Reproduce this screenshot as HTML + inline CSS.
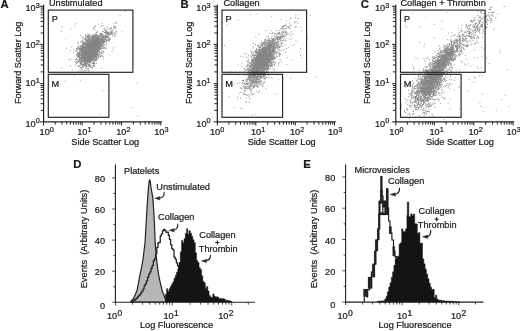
<!DOCTYPE html>
<html lang="en"><head><meta charset="utf-8"><title>Figure</title>
<style>html,body{margin:0;padding:0;background:#fff}svg{display:block}</style></head>
<body>
<svg width="520" height="331" viewBox="0 0 520 331" font-family='"Liberation Sans", Arial, Helvetica, sans-serif' fill="#1a1a1a" stroke="#1a1a1a" stroke-width="0.22">
<defs><filter id="bl" x="-5%" y="-5%" width="110%" height="110%"><feGaussianBlur stdDeviation="0.38"/></filter></defs>
<rect width="520" height="331" fill="#fff" stroke="none"/>
<path d="M109.4 33.6h1M89.8 61.1h1M79.3 48.8h1M69.9 50.7h1M111.5 51.5h1M61.2 67.7h1M101.4 23.5h1M82.0 56.5h1M102.1 53.6h1M84.5 48.1h1M108.5 36.1h1M73.7 75.4h1M95.4 60.5h1M84.8 51.3h1M99.6 34.2h1M83.8 65.4h1M87.2 49.2h1M89.1 65.9h1M87.9 45.4h1M97.9 43.9h1M81.4 63.0h1M104.7 38.9h1M96.7 36.2h1M93.1 40.9h1M98.6 38.0h1M83.9 56.7h1M90.2 51.2h1M78.7 56.7h1M87.8 51.8h1M93.8 41.0h1M86.4 59.3h1M101.4 68.0h1M79.0 51.8h1M71.1 47.1h1M82.4 54.9h1M92.4 51.0h1M80.9 62.9h1M95.1 48.5h1M109.5 33.0h1M106.1 48.7h1M92.8 55.2h1M88.1 65.2h1M82.7 56.8h1M111.6 34.4h1M89.7 47.0h1M86.2 58.0h1M88.5 42.8h1M113.1 27.5h1M81.0 37.1h1M109.1 54.3h1M98.8 50.7h1M83.2 49.0h1M66.1 48.3h1M89.7 55.4h1M89.5 52.3h1M99.5 45.4h1M93.4 34.4h1M103.5 42.1h1M91.2 43.5h1M103.2 42.8h1M91.1 65.3h1M103.5 35.6h1M94.6 42.2h1M81.6 46.3h1M97.8 45.8h1M94.6 54.5h1M100.8 35.5h1M106.8 33.3h1M113.6 26.2h1M77.7 65.4h1M70.5 59.1h1M84.6 53.6h1M83.0 38.2h1M95.1 35.2h1M91.6 43.3h1M79.7 80.7h1M85.4 50.2h1M98.4 39.4h1M89.9 43.4h1M94.2 36.7h1M91.9 54.9h1M85.2 47.8h1M97.1 51.5h1M85.4 35.4h1M101.5 55.6h1M103.1 58.8h1M94.1 66.6h1M101.0 51.3h1M99.5 55.2h1M93.0 28.0h1M106.5 39.6h1M101.4 55.8h1M81.8 48.1h1M88.5 60.3h1M103.4 52.7h1M87.9 44.6h1M84.8 50.5h1M94.9 52.3h1M77.6 49.0h1M98.7 42.3h1M78.3 46.0h1M102.2 34.9h1M87.5 37.6h1M97.7 43.4h1M87.2 68.6h1M80.1 35.2h1M102.9 45.5h1M83.0 61.5h1M93.1 57.0h1M93.5 51.1h1M76.2 63.4h1M94.2 45.8h1M97.3 37.9h1M73.1 49.4h1M96.4 47.3h1M84.9 71.0h1M98.2 57.3h1M78.6 71.1h1M113.2 47.8h1M91.7 41.5h1M137.2 115.7h1M136.6 83.4h1M75.1 23.7h1M61.5 26.7h1M69.1 59.8h1M97.9 24.3h1M119.6 15.5h1M70.5 28.6h1M74.2 25.7h1M131.2 107.5h1M89.9 47.4h1M109.0 41.7h1M72.9 51.9h1M60.7 31.5h1M99.4 114.4h1M95.7 34.6h1M65.4 38.7h1M109.4 90.3h1M102.1 90.6h1M112.5 49.5h1M64.7 81.1h1M121.7 31.8h1M71.8 70.0h1M99.7 33.3h1M124.9 11.1h1" stroke="#a4a4a4" stroke-width="1" fill="none" filter="url(#bl)"/>
<path d="M94.9 59.7h1M82.3 50.8h1M94.4 52.3h1M96.3 46.6h1M85.5 48.3h1M94.7 51.5h1M87.3 49.6h1M84.3 46.8h1M88.4 59.2h1M92.0 51.3h1M86.1 50.6h1M85.7 49.3h1M89.6 46.8h1M93.5 58.2h1M82.7 48.1h1M86.0 51.4h1M100.1 52.5h1M95.5 47.3h1M90.6 59.0h1M94.4 48.4h1M95.0 36.9h1M87.5 61.7h1M81.9 53.7h1M82.2 54.3h1M88.2 52.4h1M98.8 42.2h1M89.5 50.6h1M85.6 54.4h1M86.8 44.4h1M89.3 55.5h1M92.7 43.2h1M94.3 50.6h1M95.7 42.6h1M82.6 52.8h1M92.8 28.3h1M93.4 46.0h1M92.6 46.9h1M92.3 52.5h1M93.2 58.4h1M85.1 55.6h1M87.1 50.7h1M84.5 54.7h1M90.2 48.8h1M84.7 55.1h1M90.7 46.3h1M87.5 42.1h1M85.7 54.6h1M87.5 40.2h1M84.4 50.2h1M91.7 42.5h1M95.8 50.2h1M90.9 42.4h1M84.9 56.6h1M81.5 47.7h1M91.1 39.9h1M91.9 56.9h1M86.0 65.5h1M79.4 61.5h1M82.1 67.4h1M87.4 66.8h1M86.1 52.4h1M91.5 41.5h1M88.5 53.8h1M87.0 46.9h1M89.5 51.6h1M82.0 47.0h1M93.2 53.9h1M85.2 50.1h1M86.9 45.8h1M80.6 55.9h1M93.1 44.3h1M94.0 45.5h1M81.9 48.6h1M89.8 44.4h1M89.5 56.4h1M84.4 52.6h1M83.6 46.6h1M86.1 50.6h1M90.9 55.0h1M83.4 53.2h1M93.7 57.3h1M89.3 43.1h1M79.4 61.5h1M91.4 48.8h1M87.5 51.7h1M91.1 45.6h1M93.2 48.4h1M83.9 70.5h1M92.4 47.4h1M92.9 49.8h1M83.5 47.6h1M93.3 56.4h1M85.0 41.7h1M89.0 53.8h1M98.4 40.3h1M93.4 48.1h1M100.4 38.9h1M95.0 59.7h1M80.6 60.6h1M92.3 46.3h1M95.5 46.7h1M94.7 53.0h1M86.7 61.8h1M92.9 56.0h1M86.2 44.2h1M96.4 55.6h1M92.8 53.3h1M92.4 53.5h1M84.5 55.9h1M86.7 53.7h1M85.4 60.3h1M95.8 39.6h1M86.3 53.0h1M94.1 49.1h1M84.2 56.4h1M97.2 48.0h1M81.3 61.9h1M94.4 45.7h1M84.8 48.7h1M101.0 39.4h1M87.0 60.1h1M92.9 51.8h1M86.8 46.5h1M99.0 45.4h1M84.5 51.7h1M87.8 49.2h1M80.3 63.6h1M89.5 57.4h1M89.0 46.8h1M86.0 40.2h1M91.3 53.9h1M95.0 37.0h1M96.1 39.8h1M93.6 53.2h1M85.0 68.1h1M81.6 61.3h1M87.1 55.9h1M102.7 48.1h1M88.3 47.6h1M84.0 65.0h1M85.0 50.4h1M97.1 41.5h1M79.1 48.7h1M90.8 57.4h1M92.9 36.0h1M93.9 52.4h1M87.1 53.4h1M95.1 50.6h1M84.5 48.2h1M88.1 53.5h1M87.3 40.0h1M93.4 43.6h1M98.6 48.3h1M92.4 53.0h1M94.6 44.0h1M83.8 48.3h1M80.1 42.4h1M93.2 44.2h1M90.7 44.8h1M90.2 36.8h1M95.4 49.9h1M85.3 62.3h1M83.0 57.0h1M92.3 41.3h1M88.7 53.0h1M94.5 50.0h1M86.3 56.1h1M89.8 42.8h1M91.0 54.6h1M93.8 41.1h1M79.5 50.1h1M91.1 42.5h1M89.2 45.1h1M91.2 57.4h1M95.1 44.6h1M87.8 57.2h1M90.1 57.7h1M96.5 48.3h1M93.6 57.8h1M88.3 55.0h1M85.0 51.3h1M83.8 56.0h1M90.1 42.6h1M87.7 45.0h1M92.6 52.8h1M91.8 52.7h1M91.8 48.2h1M98.6 41.0h1M91.2 44.5h1M90.4 55.3h1M87.5 43.5h1M92.5 53.2h1M86.5 50.9h1M88.7 35.5h1M92.9 55.8h1M90.1 54.9h1M86.2 64.9h1M89.1 61.9h1M89.8 47.2h1M85.2 54.3h1M94.0 48.7h1M87.9 59.0h1M86.0 55.2h1M90.3 45.7h1M98.5 43.3h1M82.2 42.4h1M94.2 43.3h1M94.5 39.5h1M95.2 45.1h1M87.5 57.2h1M92.7 53.1h1M85.0 43.5h1M95.4 57.0h1M91.6 48.1h1M81.7 59.7h1M93.1 59.2h1M89.3 46.3h1M77.1 62.8h1M84.7 57.4h1M89.4 50.8h1M84.0 62.0h1M90.7 50.9h1M84.5 54.8h1M91.9 54.3h1M87.3 51.7h1M91.4 50.1h1M89.9 55.5h1M94.3 52.3h1M84.8 53.3h1M93.5 48.2h1M90.5 37.7h1M90.1 49.5h1M90.0 49.6h1M90.0 60.4h1M95.6 48.1h1M84.8 54.6h1M87.2 56.2h1M91.0 46.9h1M87.4 48.2h1M90.9 42.5h1M95.4 42.0h1M76.3 48.6h1M77.5 43.8h1M93.3 38.5h1M98.2 47.1h1M95.2 47.8h1M91.3 41.1h1M89.8 55.8h1M91.8 46.7h1M101.9 45.3h1M92.9 39.4h1M82.0 53.6h1M93.4 54.7h1M92.0 48.8h1M89.9 53.3h1M98.0 58.0h1M93.5 47.1h1M90.5 54.1h1M89.2 65.1h1M94.0 50.0h1M87.1 53.0h1M85.7 54.8h1M83.1 60.3h1M94.9 45.2h1M85.6 66.8h1M83.4 61.5h1M90.1 53.2h1M89.2 40.8h1M89.0 40.0h1M87.6 59.1h1M95.3 55.0h1M83.8 60.2h1M95.3 45.4h1M81.4 58.8h1M86.2 50.3h1M96.9 46.0h1M84.5 50.1h1M88.6 38.6h1M85.1 55.6h1M88.2 47.1h1M94.2 46.1h1M92.4 53.3h1M88.9 39.4h1M90.2 46.6h1M84.5 61.6h1M102.4 25.5h1M88.5 45.0h1M90.6 50.4h1M86.9 60.8h1M90.9 50.7h1M88.6 54.0h1M93.4 47.4h1M90.2 48.1h1M97.3 39.7h1M91.7 50.6h1M83.2 43.5h1M90.6 48.2h1M82.1 48.4h1M92.8 53.8h1M89.9 42.1h1M91.9 45.6h1M80.7 51.5h1M87.7 58.9h1M82.1 47.7h1M95.5 44.2h1M89.3 50.9h1M99.6 41.6h1M87.1 55.8h1M90.7 50.2h1M85.8 69.3h1M94.8 58.1h1M84.9 51.0h1M89.1 46.4h1M97.7 41.0h1M89.9 50.7h1M96.9 42.6h1M92.1 46.6h1M91.6 43.8h1M86.5 53.1h1M95.8 42.7h1M86.8 58.1h1M88.9 46.5h1M89.0 58.2h1M90.0 55.1h1M84.4 60.1h1M85.8 53.1h1M92.2 49.2h1M86.0 49.6h1M85.4 59.6h1M96.8 42.4h1M90.1 48.3h1M98.4 46.9h1M99.2 49.1h1M85.9 54.4h1M90.2 66.8h1M89.7 58.2h1M89.4 40.9h1M84.7 56.9h1M95.4 47.0h1M87.5 54.7h1M96.4 50.9h1M88.1 64.8h1M93.8 43.4h1M86.9 49.8h1M92.4 45.0h1M90.4 49.6h1M94.5 46.7h1M88.8 51.2h1M88.6 44.3h1M80.2 58.4h1M84.6 57.1h1M91.2 45.7h1M87.9 50.3h1M86.6 51.2h1M90.7 52.8h1M92.5 48.1h1M90.1 55.8h1M93.5 48.6h1M79.1 53.0h1M85.0 51.8h1M95.3 45.6h1M92.7 43.6h1M84.7 57.3h1M92.5 45.4h1M89.9 59.3h1M86.0 43.1h1M88.1 65.4h1M82.4 56.3h1M87.6 53.9h1M92.1 53.3h1M94.6 41.8h1M99.7 48.4h1M93.4 40.0h1M90.4 41.5h1M90.6 53.6h1M87.4 51.9h1M102.8 48.5h1M91.6 51.4h1M94.2 54.3h1M81.5 57.6h1M88.3 51.0h1M80.7 69.0h1M88.7 54.0h1M87.2 57.6h1M88.5 44.6h1M92.0 55.8h1M84.6 51.0h1M90.9 40.7h1M82.0 55.6h1M91.8 49.3h1M79.1 61.0h1M85.7 48.2h1M88.9 47.1h1M87.7 42.9h1M88.3 57.4h1M90.7 48.7h1M85.1 46.0h1M81.3 46.9h1M96.4 52.9h1M87.2 45.9h1M95.7 50.5h1M85.4 56.8h1M87.9 59.6h1M96.6 34.2h1M96.7 38.9h1M83.4 59.0h1M88.3 46.5h1M92.8 47.3h1M89.2 44.5h1M91.0 50.3h1M83.7 55.4h1M84.1 49.6h1M87.2 53.6h1M88.9 49.4h1M95.7 55.9h1M92.1 53.0h1M95.1 45.2h1M93.9 43.0h1M91.2 61.1h1M93.1 56.2h1M87.2 56.0h1M92.5 42.4h1M85.3 49.2h1M88.4 38.6h1M85.8 52.8h1M91.0 51.2h1M82.3 58.2h1M96.8 43.7h1M87.4 52.6h1M77.6 56.9h1M81.7 51.7h1M83.2 66.3h1M85.4 49.0h1M91.3 50.7h1M92.8 50.0h1M100.6 44.0h1M86.3 51.6h1M90.8 44.8h1M86.5 46.7h1M85.6 50.4h1M83.9 64.8h1M89.0 42.9h1M80.4 50.4h1M80.4 46.1h1M82.3 57.5h1M89.2 48.3h1M88.2 49.2h1M89.2 50.3h1M91.3 52.7h1M86.5 40.9h1M89.5 42.9h1M91.2 45.7h1M94.1 26.7h1M84.1 53.0h1M93.2 55.6h1M81.3 54.9h1M92.4 48.6h1M92.4 57.7h1M79.7 67.8h1M86.8 59.2h1M92.6 51.7h1M86.3 41.1h1M84.2 60.7h1M87.7 54.8h1M90.0 52.1h1M88.6 56.2h1M90.4 46.9h1M90.7 51.3h1M77.7 42.4h1M91.3 57.5h1M93.9 40.5h1M91.3 51.6h1M96.3 43.6h1M90.7 54.8h1M91.2 46.8h1M83.5 53.3h1M81.6 54.6h1M84.4 53.9h1M90.9 51.8h1M81.1 48.4h1M87.3 37.4h1M78.8 54.8h1M87.8 58.7h1M92.4 38.6h1M88.5 45.3h1M81.1 61.9h1M88.7 46.3h1M88.0 48.1h1M83.7 65.3h1M83.4 50.8h1M83.9 48.1h1M89.2 44.7h1M92.2 44.3h1M88.1 49.3h1M87.8 41.6h1M89.4 51.9h1M83.9 54.9h1M89.3 58.2h1M89.6 46.4h1M88.2 65.9h1M96.1 48.5h1M77.7 53.9h1M87.7 52.8h1M86.6 45.3h1M104.0 47.9h1M84.1 63.8h1M87.5 56.3h1M91.8 51.4h1M86.9 54.3h1M95.6 46.7h1M77.8 61.9h1M87.9 47.1h1M95.3 50.1h1M87.6 49.4h1M91.7 42.9h1M79.1 55.6h1M88.8 41.5h1M91.6 57.4h1M94.8 47.4h1M84.4 50.9h1M97.3 47.9h1M89.5 44.4h1M87.4 61.6h1M86.9 50.7h1M87.0 50.3h1M87.2 51.5h1M90.0 57.1h1M95.2 38.7h1M85.2 47.0h1M95.1 41.0h1M85.8 53.5h1M79.5 54.4h1M82.2 46.1h1M81.4 51.4h1M96.5 35.1h1M89.8 48.9h1M93.8 43.5h1M90.7 53.1h1M89.0 53.1h1M94.9 53.6h1M88.2 47.2h1M93.3 45.7h1M84.5 49.3h1M83.1 53.1h1M80.5 55.0h1M92.3 52.7h1M92.1 47.4h1M93.8 49.1h1M95.5 53.8h1M90.1 55.9h1M93.0 51.3h1M86.7 44.8h1M100.2 56.2h1M87.7 49.0h1M89.9 52.2h1M94.2 45.6h1M89.2 54.1h1M88.1 48.6h1M91.1 48.3h1M82.3 41.5h1M93.4 40.7h1M93.4 47.2h1M93.4 47.8h1M85.6 60.7h1M85.0 43.7h1M94.6 34.9h1M81.3 53.5h1M91.2 59.8h1M90.7 53.0h1M92.4 43.9h1M91.9 47.6h1M85.1 52.4h1M85.1 48.9h1M94.2 44.6h1M103.0 51.8h1M100.9 36.8h1M97.4 46.4h1M88.2 47.3h1M83.3 42.8h1M86.9 52.3h1M79.1 53.6h1M88.6 48.9h1M86.5 45.3h1M83.6 59.2h1M84.7 52.6h1M91.9 54.9h1M91.5 49.6h1M82.6 49.5h1M87.1 46.0h1M95.1 52.7h1M88.5 41.8h1M79.1 59.5h1M95.8 40.5h1M92.6 40.9h1M91.9 51.5h1M90.3 45.8h1M90.7 46.4h1M88.6 56.2h1M90.1 49.7h1M94.1 46.6h1M87.7 47.3h1M95.3 45.1h1M88.3 49.4h1M88.5 49.6h1M90.1 57.2h1M89.8 53.8h1M86.7 53.1h1M89.4 37.1h1M92.7 50.4h1M86.7 57.5h1M91.4 48.4h1M95.8 55.3h1M80.3 70.9h1M88.0 46.1h1M81.3 59.3h1M93.2 47.8h1M84.2 55.9h1M85.7 60.7h1M89.6 46.8h1M80.9 58.6h1M90.6 54.9h1M88.2 48.4h1M97.9 49.9h1M87.9 44.0h1M95.4 53.9h1M87.0 56.3h1M96.3 38.7h1M84.0 53.0h1M88.1 35.7h1M88.7 54.0h1M93.1 43.1h1M97.0 45.7h1M83.8 56.4h1M86.6 46.4h1M87.1 43.5h1M95.6 48.0h1M92.2 53.7h1M86.8 47.0h1M84.4 51.5h1M93.8 62.3h1M95.8 45.8h1M96.3 58.6h1M94.6 42.1h1M90.8 46.5h1M85.2 55.8h1M87.1 50.9h1M85.9 51.3h1M87.0 56.6h1M97.0 50.3h1M87.0 53.4h1M91.6 38.8h1M97.8 47.8h1M90.4 58.3h1M84.6 48.5h1M82.2 49.0h1M86.2 61.8h1M97.6 47.1h1M94.8 45.6h1M95.7 46.2h1M89.8 54.6h1M89.6 42.2h1M96.4 55.8h1M100.5 48.5h1M87.5 35.4h1M93.1 51.3h1M80.2 57.7h1M95.7 56.3h1M88.0 44.8h1M98.9 45.4h1M89.7 60.0h1M94.4 54.6h1M88.0 48.1h1M94.9 49.9h1M96.3 46.7h1M83.7 55.6h1M81.8 50.4h1M90.9 43.3h1M89.6 47.6h1M87.7 46.3h1M86.4 40.2h1M90.7 50.5h1M95.0 49.1h1M81.1 49.2h1M79.5 56.7h1M90.1 61.5h1M86.4 48.6h1M87.1 51.2h1M87.6 55.1h1M95.0 50.8h1M92.2 59.2h1M91.9 51.0h1M89.6 51.0h1M80.2 53.0h1M87.6 68.4h1M90.0 39.4h1M89.6 48.2h1M77.7 66.5h1M80.1 49.6h1M92.4 49.0h1M88.1 51.9h1M98.0 50.1h1M89.0 58.3h1M83.8 46.5h1M81.2 47.1h1M88.2 51.6h1M88.9 52.2h1M88.2 48.5h1M91.2 44.0h1M78.8 49.8h1M92.1 55.3h1M96.6 52.9h1M92.0 52.9h1M96.1 50.8h1M91.3 45.8h1M93.3 42.2h1M95.0 54.3h1M82.2 65.6h1M90.4 51.7h1M89.6 47.9h1M91.4 53.1h1M90.5 52.5h1M82.8 67.1h1M85.8 44.8h1M92.9 55.0h1M86.9 61.7h1M86.4 56.3h1M86.9 56.5h1M86.8 44.5h1M92.4 47.6h1M92.9 40.3h1M91.4 46.4h1M88.5 61.2h1M86.1 60.5h1M93.1 43.4h1M97.6 42.1h1M78.4 47.2h1M90.3 46.6h1M80.5 58.5h1M76.7 60.2h1M77.8 54.5h1M95.4 56.5h1M90.3 55.3h1M94.2 54.9h1M89.8 54.8h1M93.0 46.9h1M99.8 44.2h1M85.1 48.3h1M90.8 35.3h1M90.2 56.2h1M85.0 52.8h1M87.3 46.5h1M85.6 51.7h1M98.6 45.6h1M77.7 50.2h1M85.3 38.2h1M92.0 50.4h1M99.5 35.1h1M93.2 56.3h1M86.3 50.8h1M89.9 49.7h1M80.5 64.0h1M93.0 47.6h1M96.0 50.0h1M93.6 51.8h1M86.9 62.0h1M83.9 60.5h1M92.2 47.3h1M90.1 41.6h1M91.8 39.1h1M82.8 54.7h1M84.9 56.9h1M81.2 48.9h1M74.7 59.5h1M89.5 55.5h1M96.3 47.2h1M91.6 38.7h1M88.0 47.7h1M91.5 38.6h1M92.7 49.0h1M94.1 51.4h1M89.5 52.1h1M83.1 46.1h1M89.4 52.7h1M86.2 50.3h1M89.5 56.1h1M93.7 50.7h1M92.6 52.1h1M93.6 64.7h1M91.2 53.5h1M83.2 54.6h1M82.7 64.0h1M94.3 49.2h1M94.6 40.7h1M96.0 35.0h1M91.1 39.0h1M89.5 57.8h1M93.2 43.1h1M91.7 42.8h1M78.9 61.6h1M97.1 47.5h1M92.6 47.2h1M97.1 53.1h1M93.7 50.4h1M88.3 49.7h1M87.8 37.0h1M89.1 53.8h1M90.4 52.8h1M93.4 52.6h1M95.7 51.5h1M87.2 63.9h1M91.4 40.5h1M98.5 53.3h1M92.0 47.4h1M92.8 50.7h1M93.0 53.9h1M87.3 52.6h1M92.9 51.6h1M94.2 51.8h1M95.4 44.3h1M96.7 51.4h1M95.5 54.7h1M98.9 39.4h1M89.9 61.3h1M81.6 57.7h1M90.9 48.5h1M93.4 54.3h1M84.1 62.5h1M85.6 51.4h1M84.8 54.2h1M86.2 40.1h1M90.6 56.3h1M87.7 41.4h1M92.3 48.4h1M88.4 51.9h1M92.9 52.2h1M94.9 49.9h1M75.0 62.3h1M82.9 44.9h1M87.0 52.6h1M91.8 37.5h1M86.3 54.8h1M86.8 40.3h1M88.4 70.6h1M85.5 42.3h1M97.0 52.1h1M82.3 49.2h1M80.6 47.3h1M93.6 54.8h1M93.6 49.3h1M89.0 51.6h1M80.4 60.8h1M97.4 56.1h1M97.2 36.6h1M86.9 49.1h1M87.2 47.3h1M85.4 52.3h1M91.8 50.4h1M91.6 50.3h1M90.8 53.5h1M82.1 40.3h1M90.5 58.7h1M88.0 51.1h1M92.3 48.0h1M89.2 52.7h1M84.2 58.1h1M93.5 48.2h1M86.1 57.0h1M89.8 54.5h1M83.8 54.7h1M90.6 52.2h1M87.8 53.4h1M87.9 53.8h1M84.1 42.7h1M87.7 35.9h1M93.0 55.3h1M94.3 48.8h1M94.1 55.8h1M91.3 50.8h1M93.5 43.6h1M92.5 51.8h1M85.6 55.4h1M89.3 56.5h1M87.8 54.9h1M96.9 54.4h1M89.8 43.9h1M89.1 61.5h1M88.0 58.4h1M84.1 55.6h1M89.6 65.0h1M89.7 40.2h1M88.4 50.5h1M94.6 38.0h1M90.6 62.8h1M99.0 44.9h1M87.0 55.2h1M89.4 54.0h1M88.7 58.3h1M87.0 57.2h1M88.9 61.1h1M90.8 49.6h1M83.2 58.3h1M92.3 54.1h1M92.9 52.4h1M92.2 46.6h1M91.7 51.0h1M90.9 48.8h1M91.0 47.3h1M96.4 54.2h1M84.4 45.3h1M87.2 57.6h1M86.8 55.7h1M100.4 40.8h1M90.6 51.3h1M88.5 56.0h1M98.1 43.8h1M90.0 52.2h1M93.7 58.0h1M76.1 55.9h1M91.2 45.3h1M84.2 56.9h1M86.8 53.8h1M94.9 48.1h1M89.9 49.4h1M99.9 56.5h1M93.0 54.1h1M91.0 42.2h1M97.8 36.9h1M96.5 58.6h1M97.2 49.9h1M92.4 36.8h1M100.0 47.1h1M87.1 55.1h1M95.5 57.1h1M84.1 52.9h1M84.5 55.7h1M83.9 53.1h1M91.7 49.7h1M86.2 53.9h1M91.5 44.6h1M95.1 52.5h1M87.9 53.2h1M95.1 46.3h1M95.4 51.0h1M94.9 51.2h1M88.4 41.9h1M88.0 45.4h1M90.6 52.1h1M100.7 48.6h1M88.1 47.6h1M94.2 29.9h1M90.5 42.4h1M94.2 43.7h1M99.2 45.0h1M90.1 50.4h1M97.2 43.9h1M92.7 52.1h1M87.1 56.3h1M90.2 55.6h1M90.9 47.1h1M80.8 59.1h1M96.1 52.3h1M86.1 55.0h1M90.1 45.2h1M88.2 56.1h1M103.6 42.5h1M95.4 47.4h1M76.5 54.6h1M92.2 38.0h1M93.5 54.5h1M88.7 56.2h1M87.9 58.2h1M90.9 46.8h1M93.1 40.4h1M84.4 53.0h1M85.8 57.0h1M89.3 59.9h1M90.7 39.4h1M97.9 41.4h1M86.2 51.9h1M84.0 43.7h1M88.9 50.5h1M95.9 54.3h1M90.1 43.3h1M89.3 47.1h1M94.7 50.6h1M86.0 51.4h1M91.8 45.3h1M92.8 54.6h1M88.9 50.1h1M90.8 49.6h1M92.9 62.1h1M87.6 52.2h1M94.8 55.8h1M87.9 49.1h1M91.6 60.7h1M83.8 57.6h1M94.2 40.0h1M99.1 46.0h1M90.5 44.0h1M91.2 37.0h1M97.1 51.0h1M93.0 53.1h1M95.6 49.8h1M85.0 63.7h1M80.5 55.2h1M92.2 45.9h1M84.4 48.0h1M86.5 59.6h1M86.9 44.1h1M95.5 45.5h1M93.5 47.3h1M96.3 54.3h1M83.9 54.8h1M90.8 50.5h1M93.1 49.0h1M92.8 55.2h1M89.3 45.8h1M89.5 48.2h1M94.8 50.6h1M77.9 61.5h1M93.3 43.8h1M96.0 40.1h1M81.2 50.0h1M85.4 60.7h1M92.3 46.9h1M89.5 54.5h1M77.9 52.9h1M84.8 38.8h1M81.1 57.8h1M92.5 46.4h1M88.0 60.1h1M92.4 40.5h1M90.9 47.3h1M94.9 55.4h1M85.3 47.5h1M93.3 47.9h1M89.5 44.0h1M92.5 45.5h1M91.4 47.3h1M93.2 56.4h1M95.0 48.0h1M87.8 60.5h1M92.7 44.2h1M90.9 44.3h1M95.0 42.2h1M90.6 56.0h1M85.8 47.4h1M92.2 45.1h1M88.5 47.7h1M86.6 52.8h1M93.9 50.4h1M92.2 51.5h1M89.2 42.6h1M79.7 51.0h1M88.6 47.6h1M93.0 50.1h1M86.9 43.4h1M95.7 54.3h1M93.2 51.5h1M84.1 48.7h1M91.2 51.3h1M83.4 47.7h1M95.2 56.1h1M101.1 33.8h1M85.4 55.6h1M84.9 58.0h1M85.8 55.4h1M87.3 55.4h1M91.9 51.8h1M90.0 39.6h1M97.5 41.0h1M95.2 51.6h1M81.9 67.2h1M100.9 53.1h1M81.9 57.6h1M85.9 53.0h1M86.0 58.3h1M93.5 49.2h1M94.6 58.3h1M98.7 49.0h1M88.2 46.3h1M88.2 52.1h1M88.2 49.4h1M92.9 45.0h1M87.0 52.5h1M98.7 47.8h1M86.8 49.6h1M88.8 48.2h1M88.4 43.8h1M93.2 41.9h1M95.1 49.2h1M87.7 49.4h1M96.4 48.3h1M80.6 58.9h1M93.4 39.5h1M87.8 60.6h1M90.8 44.1h1M81.3 51.3h1M94.9 49.3h1M82.3 48.2h1M90.0 48.5h1M82.4 53.8h1M81.3 64.2h1M88.8 47.1h1M80.4 51.1h1M86.6 54.6h1M87.7 55.7h1M95.0 37.6h1M83.2 52.4h1M91.3 49.0h1M89.4 60.1h1M95.2 41.3h1M85.3 53.2h1M81.2 67.7h1M96.4 32.5h1M88.9 59.3h1M88.2 39.7h1M90.2 45.2h1M90.0 45.7h1M88.5 52.1h1M87.6 48.3h1M93.7 42.9h1M89.0 52.9h1M87.1 47.5h1M93.6 45.2h1M89.9 50.3h1M93.6 56.1h1M95.0 41.7h1M95.4 50.9h1M92.7 53.3h1M89.6 57.1h1M78.7 53.6h1M87.9 42.8h1M91.2 43.9h1M81.3 64.3h1M82.7 52.4h1M100.8 48.4h1M102.1 37.5h1M96.5 37.0h1M95.5 46.0h1M99.0 44.2h1M89.4 54.9h1M89.4 44.4h1M81.7 56.9h1M87.9 54.5h1M89.3 48.0h1M93.9 35.6h1M102.1 50.8h1M87.7 47.7h1M97.1 55.8h1M83.9 58.7h1M89.2 45.7h1M85.9 51.8h1M92.5 50.3h1M84.2 55.4h1M87.5 48.8h1M80.7 58.9h1M97.2 50.4h1M96.9 43.7h1M91.0 44.1h1M97.0 37.5h1M87.7 47.2h1M89.2 46.5h1M90.2 46.9h1M84.8 55.6h1M95.6 36.5h1M96.1 45.9h1M86.5 51.3h1M89.1 57.8h1M85.1 43.9h1M87.9 43.1h1M92.6 51.1h1M89.4 49.2h1M94.5 54.7h1M89.0 50.5h1M87.5 39.1h1M93.2 41.3h1M80.9 58.7h1M85.0 47.4h1M85.0 58.3h1M80.7 57.3h1M92.1 47.3h1M85.8 55.8h1M85.3 74.2h1M94.4 47.9h1M94.9 43.0h1M93.8 36.6h1M92.6 55.4h1M93.4 41.0h1M87.4 70.9h1M87.7 58.3h1M93.9 48.6h1M84.6 44.5h1M96.7 43.6h1M93.1 44.7h1M85.6 49.5h1M97.2 42.2h1M89.9 45.4h1M95.4 39.8h1M90.5 57.7h1M93.4 50.2h1M85.0 52.0h1M94.4 46.6h1M85.7 50.7h1M88.5 52.3h1M88.6 61.0h1M90.7 48.8h1M84.6 39.5h1M92.4 44.0h1M82.9 71.9h1M82.9 60.6h1M97.4 38.5h1M94.4 54.6h1M87.5 50.9h1M97.1 45.0h1M85.1 47.0h1M82.9 52.7h1M86.1 50.8h1M95.4 38.4h1M88.4 61.4h1M92.4 41.7h1M91.4 54.2h1M84.3 50.4h1M100.8 41.3h1M81.6 52.1h1M92.5 45.4h1M91.0 54.4h1M89.4 62.3h1M86.6 50.7h1M91.5 42.3h1M85.9 50.5h1M91.6 47.3h1M92.3 50.6h1M89.1 50.2h1M92.9 55.8h1M90.5 50.2h1M86.2 65.6h1M82.9 51.1h1M81.8 61.6h1M91.9 49.7h1M92.6 49.4h1M82.7 53.9h1M94.5 46.7h1M91.2 48.4h1M88.1 47.7h1M91.3 54.5h1M85.9 45.2h1M91.8 43.3h1M81.0 52.0h1M86.8 56.0h1M82.1 37.7h1M80.4 65.1h1M80.3 67.4h1M88.9 65.1h1M89.0 49.0h1M95.4 52.4h1M92.1 48.0h1M91.0 50.8h1M90.8 39.1h1M95.7 41.1h1M94.2 43.7h1M88.8 59.8h1M92.0 49.0h1M88.9 57.4h1M80.6 50.5h1M89.5 59.0h1M94.0 52.8h1M93.6 48.3h1M85.3 48.1h1M93.3 62.2h1M79.1 58.0h1M90.7 57.5h1M90.9 57.7h1M97.2 48.1h1M86.6 51.9h1M91.6 53.3h1M88.3 51.4h1M92.9 43.5h1M104.3 44.7h1M91.1 48.1h1M87.1 51.6h1M99.0 44.0h1M96.2 50.4h1M88.4 53.6h1M86.4 41.2h1M84.4 46.6h1M78.1 56.8h1M94.9 48.3h1M88.2 47.7h1M85.6 63.9h1M79.8 63.4h1M90.2 50.0h1M99.0 49.8h1M89.1 45.6h1M93.3 63.6h1M79.0 48.4h1M80.8 41.2h1M87.1 62.0h1M89.9 50.2h1M89.8 49.1h1M90.9 44.0h1M79.3 65.6h1M96.4 52.9h1M100.0 39.6h1M84.1 53.1h1M86.6 51.9h1M95.1 45.7h1M92.2 58.2h1M91.7 42.5h1M92.8 48.0h1M80.5 59.1h1M85.5 48.0h1M81.9 58.9h1M91.2 43.9h1M82.9 61.1h1M80.1 60.8h1M88.7 59.5h1M93.2 59.0h1M91.3 41.1h1M88.3 50.3h1M89.2 48.2h1M93.4 43.9h1M96.1 59.6h1M76.2 48.9h1M75.9 50.9h1M94.0 46.5h1M91.3 38.6h1M89.9 48.8h1M86.4 54.3h1M86.4 53.4h1M81.6 55.9h1M94.4 47.2h1M83.2 56.3h1M85.8 51.0h1M95.8 63.2h1M77.6 60.3h1M78.7 66.0h1M88.9 57.6h1M89.9 49.2h1M86.4 51.8h1M89.8 52.7h1M83.9 56.7h1M94.6 60.7h1M85.1 57.3h1M85.7 47.2h1M93.0 36.1h1M88.1 51.2h1M88.1 61.1h1M93.2 42.3h1M90.9 59.5h1M90.7 46.8h1M88.7 53.9h1M87.7 49.2h1M94.9 26.2h1M83.6 53.9h1M90.8 56.1h1M94.5 50.1h1M92.8 52.5h1M91.6 55.0h1M91.3 57.2h1M83.4 43.0h1M87.7 41.2h1M88.7 58.1h1M85.6 58.0h1M85.4 34.3h1M91.9 63.4h1M90.1 45.2h1M82.8 44.0h1M85.3 57.6h1M94.0 46.8h1M80.9 55.4h1M77.1 53.4h1M85.7 60.1h1M87.3 43.0h1M91.8 55.5h1M91.8 43.1h1M84.3 54.7h1M93.2 47.5h1M96.0 42.6h1M86.6 50.0h1M82.3 56.4h1M92.5 55.0h1M95.8 43.7h1M90.1 45.1h1M94.3 56.2h1M87.9 64.1h1M90.4 45.4h1M91.4 38.7h1M93.6 39.5h1M91.1 48.0h1M82.1 48.7h1M86.1 55.4h1M89.7 55.4h1M92.4 65.5h1M94.2 36.0h1M91.1 51.7h1M98.4 36.0h1M89.6 51.4h1M87.6 62.9h1M93.5 37.8h1M87.2 56.6h1M77.6 48.4h1M97.3 41.3h1M93.0 40.7h1M85.3 65.1h1M86.5 49.3h1M89.4 59.5h1M90.8 47.0h1M94.9 38.9h1M86.1 53.3h1M101.7 44.6h1M84.1 55.6h1M96.0 36.5h1M82.1 53.8h1M91.1 55.2h1M90.9 49.0h1M88.7 61.7h1M97.7 42.3h1M83.5 56.5h1M89.2 45.6h1M85.8 59.4h1M89.2 49.7h1M88.1 50.2h1M85.1 51.7h1M88.7 46.4h1M78.8 54.5h1M94.4 40.9h1M84.1 46.5h1M81.8 69.5h1M93.6 36.7h1M89.8 47.2h1M91.3 39.2h1M88.7 51.8h1M75.3 62.1h1M96.1 57.4h1M82.1 57.0h1M86.5 49.6h1M84.8 52.4h1M83.1 45.9h1M78.6 59.7h1M95.2 53.0h1M83.5 51.5h1M93.2 47.4h1M83.1 61.3h1M86.3 52.6h1M98.1 41.6h1M91.1 61.1h1M91.2 45.6h1M93.1 41.8h1M91.7 51.9h1M96.2 46.0h1M92.7 43.9h1M95.6 41.1h1M88.5 53.2h1M81.7 47.9h1M89.7 44.3h1M81.7 53.0h1M92.0 51.6h1M80.8 52.2h1M82.0 65.9h1M90.0 48.2h1M94.6 39.6h1M86.8 52.4h1M95.8 53.1h1M88.0 53.6h1M84.3 54.2h1M84.2 47.0h1M91.0 42.9h1M99.2 37.7h1M97.5 47.9h1M85.0 56.3h1M92.0 63.5h1M94.1 42.5h1M88.3 47.6h1M87.0 54.5h1M87.1 58.1h1M94.4 59.6h1M93.5 42.8h1M85.1 48.8h1M85.9 60.3h1M93.9 45.8h1M88.8 47.9h1M85.7 51.2h1M87.8 45.0h1M90.2 57.8h1M94.4 45.3h1M83.6 59.4h1M82.5 54.7h1M79.5 57.0h1M90.5 54.6h1M83.4 53.9h1M83.0 50.5h1M88.3 50.1h1M92.0 47.5h1M93.7 51.6h1M85.9 47.0h1M94.6 40.3h1M82.8 49.6h1M77.7 56.8h1M97.8 47.0h1M97.1 39.7h1M90.4 49.7h1M96.3 47.2h1M90.6 56.5h1M84.0 46.5h1M93.9 47.7h1M89.6 47.7h1M95.2 57.9h1M97.3 41.4h1M93.1 51.1h1M95.6 46.2h1M91.2 48.3h1M92.7 45.2h1M98.3 47.4h1M90.7 53.1h1M88.9 43.7h1M100.7 38.9h1M87.5 33.9h1M86.6 43.2h1M96.7 40.7h1M93.7 63.4h1M102.7 45.2h1M92.6 51.6h1M86.6 63.8h1M93.7 51.4h1M85.6 41.0h1M83.3 53.4h1M92.0 36.5h1M96.5 43.3h1M82.0 57.4h1M92.6 44.1h1M89.3 49.7h1M85.8 53.4h1M77.2 47.3h1M93.7 56.4h1M86.2 59.0h1M95.1 57.1h1M89.2 45.0h1M93.1 41.1h1M85.4 37.2h1M85.3 53.3h1M94.9 54.3h1M91.6 58.7h1M85.6 40.6h1M93.3 65.9h1M81.1 57.7h1M91.0 56.6h1M91.2 49.5h1M88.2 52.7h1M94.3 52.8h1M92.7 51.9h1M90.5 49.3h1M79.3 54.1h1M85.7 51.6h1M94.4 48.4h1M90.4 48.9h1M96.1 45.1h1M86.4 55.3h1M96.4 46.8h1M95.5 41.8h1M81.9 48.2h1M95.2 51.4h1M87.0 47.7h1M92.2 47.7h1M87.9 46.8h1M94.6 41.4h1M91.2 47.4h1M92.0 45.0h1M84.9 45.8h1M81.9 55.5h1M90.0 47.4h1M82.9 49.4h1M82.6 52.5h1M82.1 54.4h1M84.3 48.8h1M92.7 57.2h1M89.1 34.4h1M99.2 42.6h1M89.0 52.7h1M88.9 44.7h1M101.4 47.2h1M88.5 51.7h1M91.1 36.8h1M91.4 44.2h1M85.9 49.8h1M85.7 63.4h1M92.5 60.0h1M90.0 48.4h1M92.8 55.9h1M90.5 51.4h1M90.3 57.5h1M89.3 48.6h1M91.2 55.3h1M86.1 61.7h1M79.3 48.5h1M87.6 54.4h1M85.2 61.2h1M89.0 39.1h1M87.2 50.2h1M82.8 50.1h1M90.2 45.0h1M87.6 50.5h1M92.7 46.1h1M79.0 57.6h1M84.8 56.8h1M91.1 47.1h1M85.8 37.1h1M97.8 54.5h1M92.6 50.5h1M83.4 54.4h1M92.5 52.5h1M89.9 56.7h1M86.4 50.5h1M91.4 45.8h1M80.2 62.4h1M92.6 50.5h1M86.8 55.9h1M89.3 55.9h1M97.0 45.2h1M94.3 50.7h1M89.4 43.2h1M93.0 66.7h1M89.4 54.0h1M92.2 55.7h1M86.3 53.9h1M92.1 48.4h1M89.7 43.6h1M84.2 57.1h1M93.5 60.5h1M83.3 57.9h1M94.6 44.0h1M87.7 54.0h1M90.2 51.9h1M86.4 51.9h1M77.4 52.6h1M91.0 48.5h1M81.7 43.9h1M94.9 45.7h1M90.0 52.8h1M83.5 50.2h1M86.9 54.2h1M91.3 39.7h1M91.2 43.4h1M82.7 47.7h1M96.9 49.1h1M91.4 56.4h1M94.4 36.7h1M76.6 49.2h1M90.6 54.4h1M86.0 52.0h1M87.4 36.2h1M85.9 47.8h1M83.7 39.3h1M95.4 54.5h1M89.9 60.7h1M99.8 49.5h1M89.5 55.8h1M84.1 58.8h1M91.4 55.0h1M90.2 46.0h1M93.9 38.8h1M87.8 61.1h1M80.4 64.1h1M94.9 45.8h1M93.6 50.3h1M83.3 52.3h1M83.2 44.3h1M88.0 44.1h1M97.6 39.4h1M86.8 50.5h1M89.6 40.6h1M85.8 52.6h1M88.5 54.4h1M101.3 53.0h1M83.0 56.6h1M85.1 59.2h1M92.1 44.2h1M85.6 64.7h1M98.3 54.1h1M88.9 53.1h1M83.7 50.9h1M82.3 58.0h1M85.2 65.1h1M87.1 54.9h1M87.2 59.0h1M96.1 57.4h1M89.0 49.8h1M81.2 52.7h1M78.5 54.0h1M91.2 49.2h1M84.6 54.5h1M93.6 60.5h1M93.2 55.0h1M88.7 48.0h1M94.2 36.2h1M100.7 43.1h1M88.8 60.6h1M88.3 60.9h1M86.7 48.8h1M92.2 47.5h1M88.8 51.5h1M92.0 34.7h1M91.1 42.0h1M98.7 42.0h1M87.8 53.3h1M90.8 58.6h1M85.5 57.4h1M84.4 49.2h1M81.9 57.2h1M84.6 53.5h1M86.1 52.6h1M88.6 42.7h1M86.8 53.2h1M81.9 58.4h1M87.4 53.3h1M87.9 48.4h1M90.2 46.5h1M82.5 54.8h1M87.2 44.4h1M96.0 42.7h1M95.1 49.5h1M90.9 49.5h1M80.5 50.0h1M84.7 53.4h1M92.1 68.4h1M88.4 45.3h1M92.0 54.8h1M89.5 49.5h1M97.1 50.4h1M96.2 60.4h1M85.9 40.9h1M85.8 48.0h1M88.0 38.1h1M87.5 48.4h1M96.3 51.4h1M80.3 48.5h1M105.3 46.4h1M83.2 64.7h1M90.3 55.4h1M91.2 54.0h1M93.6 65.1h1M92.7 58.7h1M84.0 65.7h1M84.4 46.7h1M88.7 61.7h1M88.6 47.3h1M86.4 51.4h1M83.0 54.3h1M86.7 62.0h1M82.5 52.8h1M94.9 50.8h1M86.4 50.3h1M94.4 47.7h1M89.9 57.3h1M96.9 41.4h1M94.8 55.2h1M90.5 58.0h1M92.2 41.6h1M91.0 40.6h1M89.6 51.5h1M83.8 51.9h1M98.4 47.7h1M86.8 56.7h1M89.5 43.2h1M81.6 58.1h1M89.1 51.2h1M80.6 46.3h1M92.4 42.4h1M88.1 64.8h1M89.0 48.6h1M95.0 54.4h1M85.3 48.7h1M87.9 57.1h1M86.9 60.0h1M86.8 53.2h1M89.1 52.5h1M102.2 44.9h1M98.7 54.3h1M90.7 51.4h1M90.8 45.7h1M82.1 60.2h1M92.8 46.5h1M95.7 46.3h1M91.9 44.6h1M91.7 54.5h1M85.4 58.7h1M92.4 60.1h1M91.5 49.7h1M98.7 50.8h1M86.1 38.9h1M96.1 41.7h1M88.4 43.2h1M91.4 51.4h1M90.4 49.0h1M88.2 52.0h1M96.0 45.3h1M93.2 47.7h1M91.6 50.0h1M82.9 57.7h1M95.8 45.3h1M83.1 60.0h1M90.8 41.5h1M95.5 45.7h1M83.9 60.9h1M86.9 49.9h1M83.3 57.7h1M87.7 51.0h1M84.9 44.0h1M92.8 53.4h1M77.2 55.7h1M94.2 50.9h1M92.8 50.3h1M86.8 49.6h1M77.2 53.2h1M91.9 54.7h1M96.3 51.9h1M88.8 51.7h1M98.2 38.1h1M82.3 45.2h1M87.2 51.3h1M93.7 48.9h1M82.6 56.3h1M87.9 46.6h1M100.6 43.1h1M75.5 51.0h1M88.1 47.7h1M91.9 45.7h1M84.5 62.0h1M87.0 36.5h1M84.7 56.9h1M87.4 52.4h1M97.8 51.7h1M91.2 53.4h1M98.6 48.7h1M89.1 49.3h1M89.1 45.9h1M102.6 56.5h1M94.6 41.4h1M90.0 67.3h1M88.6 47.3h1M86.8 51.9h1M90.8 59.1h1M86.8 56.0h1M86.4 53.8h1M90.3 46.5h1M78.5 52.6h1M87.5 51.1h1M95.6 51.5h1M85.5 58.1h1M92.4 43.2h1M97.4 35.3h1M88.2 55.6h1M88.4 42.8h1M80.6 48.9h1M85.2 44.3h1M91.6 53.2h1M99.1 37.7h1M85.8 51.6h1M90.8 44.9h1M83.0 42.7h1M83.7 56.7h1M85.8 66.4h1M97.1 49.7h1M91.3 44.8h1M80.8 50.8h1M90.5 56.4h1M92.5 44.3h1M91.4 44.8h1M94.9 45.6h1M86.0 46.9h1M81.9 53.4h1M85.3 58.6h1M90.4 67.3h1M91.1 52.0h1M95.8 38.4h1M90.6 47.4h1M89.2 51.3h1M84.1 60.4h1M90.1 56.4h1M89.6 50.7h1M85.6 50.6h1M94.9 46.0h1M86.5 50.6h1M89.4 45.1h1M85.1 49.5h1M90.0 52.5h1M100.9 46.1h1M85.2 54.7h1M81.8 49.3h1M79.1 56.1h1M85.9 48.2h1M85.9 40.5h1M92.9 46.9h1M88.0 44.1h1M95.2 45.0h1M93.3 47.5h1M90.0 44.8h1M92.0 48.7h1M89.9 58.8h1M87.9 45.7h1M91.6 44.1h1M80.9 53.8h1M95.4 51.7h1M94.5 44.4h1M90.3 54.1h1M86.1 59.8h1M86.7 48.9h1M99.1 42.6h1M82.2 54.6h1M91.1 52.3h1M82.4 53.4h1M82.3 50.1h1M82.8 45.6h1M98.2 43.0h1M88.6 56.1h1M84.2 53.9h1M82.9 54.6h1M87.6 58.7h1M81.3 59.2h1M86.5 56.1h1M91.3 52.4h1M91.9 51.6h1M88.3 40.8h1M87.2 56.3h1M88.4 56.5h1M79.5 52.0h1M89.3 49.0h1M93.8 54.1h1M91.5 45.4h1M87.8 56.3h1M93.7 45.4h1M91.2 43.9h1M97.6 56.8h1M86.5 54.3h1M94.0 51.4h1M84.8 54.8h1M93.5 36.8h1M100.5 54.9h1M90.0 44.6h1M82.8 57.7h1M82.9 61.7h1M94.6 47.7h1M86.1 44.9h1M83.6 54.0h1M91.4 56.2h1M86.7 54.9h1M84.6 46.5h1M87.8 42.5h1M80.2 58.7h1M91.5 47.8h1M81.9 54.1h1M81.5 51.2h1M80.8 47.8h1M82.3 58.3h1M96.8 31.7h1M95.0 34.1h1M92.2 45.9h1M91.4 46.3h1M86.0 57.5h1M99.0 36.4h1M89.5 50.6h1M89.6 51.8h1M91.5 42.0h1M90.7 49.2h1M85.4 55.0h1M86.9 51.2h1M87.1 52.6h1M80.3 45.7h1M87.3 45.2h1M97.4 50.3h1M98.6 44.6h1M85.6 48.9h1M88.1 42.4h1M96.1 40.2h1M84.6 58.3h1M91.9 46.1h1M86.6 58.0h1M81.5 59.1h1M98.4 42.3h1M95.9 44.6h1M88.3 45.9h1M90.8 55.2h1M94.1 40.9h1M83.7 59.0h1M97.6 54.1h1M88.1 46.1h1M93.5 42.3h1M77.1 57.0h1M70.0 65.9h1M95.9 52.9h1M90.3 48.6h1M91.7 50.4h1M87.1 56.7h1M93.6 53.1h1M88.9 62.9h1M98.5 51.7h1M95.0 46.2h1M85.2 54.5h1M81.4 63.0h1M78.3 46.3h1M83.0 49.2h1M93.3 53.2h1M94.2 42.5h1M84.1 47.0h1M93.2 35.9h1M89.7 47.8h1M90.3 59.9h1M93.6 43.6h1M98.2 55.7h1M82.2 51.2h1M87.5 47.5h1M87.3 48.7h1M85.4 61.3h1M91.7 58.6h1M93.5 43.4h1M87.2 48.2h1M85.2 43.5h1M94.4 44.9h1M101.1 42.0h1M85.0 53.7h1M83.2 53.4h1M86.6 56.8h1M84.9 53.4h1M79.2 53.1h1M90.8 51.5h1M86.6 50.2h1M89.3 45.9h1M82.8 57.1h1M86.3 54.5h1M86.4 46.3h1M92.0 46.3h1M88.3 68.9h1M86.2 54.0h1M87.0 51.6h1M83.2 64.2h1M92.3 48.5h1M92.2 42.4h1M89.0 66.2h1M79.2 58.4h1M93.6 45.0h1M94.2 43.8h1M86.7 59.7h1M91.8 59.8h1M90.2 45.7h1M87.8 51.9h1M83.8 52.2h1M93.9 40.1h1M89.4 48.3h1M76.1 58.9h1M91.2 49.5h1M84.2 59.5h1M94.0 46.9h1M94.0 45.0h1M91.0 47.9h1M98.3 47.5h1M96.6 38.5h1M89.6 44.9h1M83.8 51.0h1M83.6 56.7h1M82.3 45.4h1M83.2 56.0h1M87.1 61.2h1M88.6 54.0h1M79.8 60.4h1M78.2 55.7h1M86.1 45.0h1M85.4 52.6h1M82.2 49.7h1M87.4 49.9h1M81.3 62.6h1M86.0 47.5h1M88.8 50.4h1M90.8 51.7h1M95.8 51.0h1M85.7 66.4h1M94.5 37.9h1M89.1 53.0h1M77.7 56.6h1M93.2 51.6h1M93.9 63.2h1M94.8 52.8h1M93.8 48.4h1M89.1 61.2h1M94.1 46.1h1M89.0 49.4h1M91.7 49.0h1M92.5 48.9h1M90.2 46.9h1M94.6 44.1h1M89.4 43.7h1M90.7 47.4h1M87.9 56.1h1M88.4 47.9h1M91.1 56.0h1M86.6 61.1h1M93.3 52.9h1M88.0 57.4h1M95.7 44.5h1M89.7 51.1h1M93.8 52.5h1M96.5 47.9h1M81.6 50.3h1M79.7 48.0h1M86.9 40.2h1M84.4 59.5h1M94.7 60.2h1M85.3 49.8h1M92.1 45.6h1M91.9 49.9h1M83.6 57.2h1M84.2 55.6h1M88.6 36.8h1M82.1 44.6h1M86.1 54.1h1M90.4 55.1h1M100.6 26.4h1M99.0 44.5h1M85.6 62.1h1M92.2 55.7h1M88.0 44.2h1M83.5 50.0h1M94.1 43.8h1M93.1 38.4h1M87.9 49.9h1M87.2 47.2h1M89.0 51.9h1M87.9 42.9h1M96.3 42.0h1M88.2 42.6h1M81.1 55.4h1M92.0 45.8h1M85.8 53.6h1M94.6 39.2h1M88.6 46.4h1M90.1 42.5h1M88.3 50.3h1M90.2 51.3h1M87.5 46.3h1M87.5 50.0h1M85.0 36.0h1M90.0 60.2h1M83.9 42.5h1M85.9 53.7h1M89.0 43.5h1M86.1 63.6h1M95.1 43.1h1M87.0 52.0h1M85.3 58.7h1M97.2 48.7h1M88.5 51.8h1M89.9 48.7h1M95.2 43.6h1M81.8 55.8h1M82.2 53.1h1M92.9 51.7h1M92.4 47.6h1M89.4 56.4h1M86.2 55.5h1M87.8 43.7h1M90.8 43.4h1M94.5 42.0h1M90.5 53.6h1M75.2 64.6h1M85.9 44.7h1M89.9 44.8h1M89.5 62.6h1M85.8 48.2h1M89.7 48.6h1M94.4 50.3h1M82.3 51.0h1M87.5 49.1h1M96.7 49.4h1M84.7 62.8h1M92.9 45.0h1M90.3 54.1h1M89.4 44.5h1M83.0 53.3h1M85.4 62.6h1M85.1 39.2h1M93.6 39.6h1M76.4 59.3h1M83.4 58.2h1M85.6 48.1h1M80.3 54.7h1M94.1 46.8h1M82.4 53.7h1M91.0 55.7h1M90.2 49.4h1M81.9 64.7h1M85.0 51.1h1M102.7 41.0h1M90.5 46.5h1M86.3 57.3h1M99.2 47.0h1M102.9 40.7h1M94.6 42.9h1M93.5 57.4h1M86.1 54.4h1M92.5 55.2h1M87.8 58.4h1M91.9 51.7h1M85.2 56.8h1M85.0 55.6h1M98.8 52.6h1M96.0 58.4h1M85.6 50.5h1M100.4 38.8h1M88.8 47.4h1M91.8 42.3h1M90.1 47.5h1M91.1 46.6h1M83.4 58.7h1M92.3 56.5h1M88.0 52.2h1M86.3 52.8h1M85.6 50.5h1M87.2 48.3h1M89.4 52.5h1M90.8 45.8h1M87.8 51.9h1M95.7 45.0h1M88.8 50.5h1M86.6 54.1h1M86.9 59.6h1M86.4 55.5h1M83.9 50.1h1M95.5 43.9h1M76.1 54.4h1M92.1 43.6h1M86.6 50.1h1M82.8 54.2h1M83.8 58.7h1M93.6 48.3h1M84.0 63.5h1M85.2 52.4h1M86.1 52.6h1M99.7 57.0h1M84.5 43.6h1M88.6 55.3h1M92.3 51.1h1M83.2 57.5h1M92.6 51.8h1M89.4 45.8h1M91.8 54.7h1M90.9 48.4h1M89.8 50.0h1M84.5 51.1h1M86.6 49.8h1M90.0 52.5h1M91.4 67.6h1M87.7 62.0h1M89.1 47.0h1M79.8 62.9h1M97.2 45.1h1M84.3 59.6h1M90.6 51.0h1M85.1 44.8h1M82.5 52.5h1M91.5 42.3h1M92.8 63.4h1M93.2 45.2h1M91.5 50.5h1M88.7 51.6h1M98.4 46.9h1M86.4 44.9h1M79.4 55.5h1M94.8 42.0h1M93.6 44.6h1M91.3 50.8h1M89.9 49.7h1M91.3 40.9h1M88.6 37.1h1M91.2 46.6h1M85.7 58.3h1M84.2 47.2h1M96.7 47.6h1M82.8 54.2h1M81.6 56.6h1M86.8 49.4h1M92.2 51.1h1M88.2 47.0h1M91.0 41.6h1M75.7 61.6h1M90.4 50.4h1M86.1 50.7h1M93.9 52.7h1M88.9 49.1h1M92.8 44.1h1M93.6 48.2h1M90.5 51.6h1M82.1 46.4h1M87.8 49.0h1M88.5 51.3h1M98.0 44.2h1M85.3 64.1h1M83.7 59.2h1M93.6 40.0h1M85.4 44.1h1M91.3 46.5h1M93.7 43.4h1M102.3 43.4h1M101.5 41.1h1M97.2 38.5h1M98.3 36.8h1M106.4 39.4h1M109.3 34.4h1M98.2 43.9h1M92.6 49.6h1M102.1 35.3h1M110.8 32.7h1M96.6 38.1h1M107.7 40.5h1M94.2 43.6h1M99.1 37.2h1M98.7 44.9h1M98.5 43.1h1M98.3 46.7h1M98.9 44.7h1M99.6 45.0h1M98.8 37.1h1M102.5 41.8h1M102.5 31.2h1M96.8 38.5h1M95.1 47.4h1M98.7 42.3h1M95.6 49.9h1M110.0 39.0h1M105.2 32.6h1M90.5 46.9h1M91.0 47.5h1M104.5 30.7h1M97.0 42.9h1M100.7 40.4h1M86.0 52.8h1M105.4 30.9h1M114.3 33.4h1M102.3 39.2h1M89.4 41.6h1M110.2 31.0h1M101.9 41.0h1M94.5 37.9h1M112.9 29.2h1M91.6 43.2h1M104.8 37.8h1M90.5 45.6h1M105.8 37.1h1M95.3 42.4h1M90.0 45.3h1M115.5 32.1h1M101.9 41.5h1M92.8 44.8h1M88.6 47.7h1M95.8 45.7h1M105.5 32.1h1M95.7 37.3h1M93.5 47.8h1M111.9 34.0h1M92.4 45.5h1M99.6 41.2h1M102.3 37.6h1M96.7 38.7h1M101.7 40.2h1M83.2 51.4h1M79.1 55.1h1M103.6 39.7h1M95.8 51.0h1M108.8 40.0h1M90.7 42.8h1M83.1 42.3h1M97.9 40.4h1M95.9 41.8h1M98.0 39.0h1M110.2 32.7h1M94.7 44.8h1M99.5 43.6h1M105.3 33.6h1M95.4 41.3h1M91.9 44.7h1M103.4 42.1h1M100.7 34.4h1M82.9 52.9h1M95.2 44.6h1M103.3 37.1h1M105.5 40.6h1M102.4 38.7h1M98.9 41.6h1M88.8 45.1h1M98.5 41.5h1M110.9 31.6h1M105.4 35.6h1M86.8 52.0h1M94.7 47.6h1M92.3 45.4h1M107.1 37.4h1M105.3 37.4h1M114.7 34.2h1M107.3 32.9h1M92.2 47.0h1M102.4 42.5h1M97.1 44.8h1M87.1 47.0h1M105.1 37.2h1M109.4 39.2h1M94.1 38.9h1M106.9 29.1h1M108.4 33.5h1M99.3 43.1h1M99.4 44.9h1M106.4 35.4h1M107.0 34.8h1M99.5 47.1h1M99.2 40.7h1M105.2 35.1h1M109.9 28.3h1M103.6 37.3h1M114.7 36.3h1M104.3 38.3h1M97.8 48.3h1M106.7 34.3h1M115.2 28.9h1M92.9 44.7h1M105.8 32.7h1M92.4 46.8h1M98.5 48.3h1M101.9 34.9h1M112.4 36.0h1M102.3 39.8h1M99.6 46.7h1M107.4 34.8h1M101.3 33.4h1M100.7 36.8h1M89.2 48.6h1M101.3 40.6h1M93.7 44.0h1M93.4 53.6h1M100.6 45.2h1M110.7 28.1h1M106.1 37.0h1M97.4 37.5h1M103.1 43.3h1M96.6 37.7h1M101.8 37.7h1M96.7 40.5h1M92.3 45.9h1M89.5 37.3h1M106.3 39.5h1M104.6 39.6h1M94.5 48.3h1M95.5 37.4h1M102.7 36.2h1M94.6 45.0h1M114.0 35.2h1M92.2 43.6h1M95.5 40.5h1M106.8 27.0h1M97.8 43.5h1M92.0 50.9h1M94.4 44.9h1M95.9 45.2h1M108.2 38.2h1M99.4 36.4h1M94.8 36.9h1M97.7 39.2h1M101.5 40.2h1M110.0 34.8h1M96.7 42.0h1M97.2 47.6h1M96.6 40.7h1M97.8 43.3h1M103.3 40.4h1M96.7 42.0h1M97.9 42.5h1M96.1 45.5h1M93.6 43.2h1M98.1 44.7h1M103.7 41.3h1M107.5 40.8h1M95.6 32.7h1M92.7 51.5h1M106.5 33.1h1M115.8 21.9h1M101.9 46.5h1M94.2 47.6h1M98.9 36.7h1M108.0 34.7h1M94.3 40.6h1M104.8 36.9h1M99.5 39.7h1M105.3 30.0h1M106.0 40.4h1M106.1 42.6h1M87.5 47.2h1M92.9 38.1h1M102.6 39.1h1M114.2 27.6h1M106.4 37.3h1M101.4 36.0h1M91.2 45.5h1M97.3 40.4h1M89.2 55.1h1M90.9 50.5h1M92.5 45.9h1M91.5 42.2h1M98.7 45.5h1M96.7 51.5h1M99.0 38.5h1M90.5 45.9h1M104.9 37.4h1M96.8 47.7h1M104.6 48.3h1M98.1 42.4h1M93.5 44.9h1M104.7 39.2h1M95.2 45.5h1M104.7 41.2h1M97.0 44.8h1M100.5 41.4h1M98.1 46.0h1M111.5 32.5h1M107.5 37.5h1M115.6 23.3h1M90.0 47.3h1M113.4 33.0h1M105.4 41.4h1M102.0 35.1h1M98.4 38.9h1M101.1 41.0h1M100.5 45.0h1M109.1 38.6h1M101.2 42.2h1M105.3 36.3h1M102.9 39.8h1M110.9 28.4h1M103.3 39.7h1M108.4 34.6h1M93.2 37.4h1M96.7 45.7h1M101.3 38.1h1M100.8 43.1h1M96.9 38.9h1M99.8 44.4h1M97.0 43.0h1M111.5 30.3h1M91.8 42.1h1M103.8 41.6h1M86.7 53.0h1M108.3 39.1h1M100.5 34.8h1M104.1 32.5h1M94.0 42.6h1M92.3 52.2h1M95.1 39.6h1M114.6 26.3h1M95.7 37.7h1M101.8 38.1h1M95.7 39.7h1M106.0 36.3h1M92.7 45.3h1M100.9 40.4h1M103.1 40.7h1M106.6 31.8h1M109.2 29.1h1M91.7 60.4h1M103.4 47.5h1M86.2 45.1h1M91.9 41.3h1M103.8 36.4h1M107.3 34.1h1M105.2 30.8h1M87.9 51.5h1M87.7 44.4h1M89.4 45.5h1M93.2 43.2h1M100.8 42.0h1M101.3 36.2h1M102.0 43.5h1M95.8 41.2h1M108.0 33.7h1M96.1 48.9h1M100.5 44.8h1M91.9 47.0h1M97.1 44.5h1M102.8 36.0h1M87.4 50.5h1M97.6 46.6h1M96.2 44.4h1M95.7 41.5h1M99.3 40.1h1M96.9 43.5h1M93.5 41.9h1M96.7 38.5h1M97.1 39.7h1M91.9 52.4h1M88.9 51.4h1M95.3 42.9h1M108.1 40.7h1M97.6 40.6h1M95.7 45.5h1M102.5 31.6h1M81.7 54.2h1M104.4 36.1h1M103.3 35.8h1M107.8 36.3h1M97.7 39.3h1M94.5 37.6h1M91.5 39.7h1M108.5 32.6h1M94.9 46.8h1M100.0 34.7h1M104.7 36.4h1M101.1 39.0h1M95.6 47.4h1M113.3 23.9h1M105.9 44.2h1M103.3 46.0h1M97.8 45.1h1M95.0 45.5h1M107.9 37.5h1M111.6 33.8h1M107.9 31.9h1M95.2 37.7h1M92.5 53.7h1M95.0 42.4h1M102.4 36.9h1M98.0 36.7h1M99.5 44.9h1M94.9 49.4h1M98.6 44.6h1M107.7 37.2h1M94.6 46.5h1M95.6 41.5h1M105.3 37.9h1M94.2 47.5h1M86.0 47.8h1M106.0 40.5h1M105.0 37.3h1M102.9 41.2h1M94.2 52.9h1M99.5 41.7h1M111.2 32.9h1M91.1 49.3h1M101.7 39.0h1M99.3 47.1h1M101.9 40.1h1M93.5 49.1h1M90.7 52.0h1M102.9 36.9h1M103.3 42.6h1M102.5 40.5h1M91.8 50.8h1M102.6 38.1h1M103.8 28.9h1M97.1 44.3h1M101.0 37.6h1M96.6 43.4h1M108.3 38.4h1M96.8 47.8h1M97.1 39.2h1M105.9 36.3h1M104.5 39.8h1M93.4 45.6h1M101.8 43.2h1M114.5 26.5h1M99.9 41.9h1M114.4 27.7h1M100.9 46.8h1M95.6 43.5h1M98.8 35.4h1M105.0 31.3h1M93.7 45.6h1M99.2 43.3h1M112.5 31.1h1M100.5 44.4h1M107.3 33.4h1M115.8 31.7h1M89.5 54.8h1M100.8 40.4h1M83.4 53.0h1M86.7 49.5h1M98.5 42.0h1M106.9 32.4h1M93.8 41.9h1M110.8 33.7h1M100.2 41.9h1M103.7 41.1h1M100.8 41.7h1M105.0 31.7h1M102.0 43.9h1M103.8 28.9h1M97.3 48.8h1M93.7 44.8h1M96.4 39.0h1M89.8 44.1h1M92.6 47.0h1M100.0 33.4h1M101.3 39.5h1M90.1 43.0h1M106.2 32.5h1M94.6 42.1h1M102.0 39.7h1" stroke="#868686" stroke-width="1" fill="none" filter="url(#bl)"/>
<path d="M43.6 4.699999999999999V121.9H162.0" stroke="#222" stroke-width="1.2" fill="none"/>
<path d="M43.60 121.9v3.6M43.6 121.90h-3.8M55.19 121.9v2.7M43.6 110.40h-2.9M61.97 121.9v2.7M43.6 103.67h-2.9M66.78 121.9v2.7M43.6 98.90h-2.9M70.51 121.9v2.7M43.6 95.20h-2.9M73.56 121.9v2.7M43.6 92.17h-2.9M76.14 121.9v2.7M43.6 89.62h-2.9M78.37 121.9v2.7M43.6 87.40h-2.9M80.34 121.9v2.7M43.6 85.45h-2.9M82.10 121.9v3.6M43.6 83.70h-3.8M93.99 121.9v2.7M43.6 71.87h-2.9M100.95 121.9v2.7M43.6 64.95h-2.9M105.88 121.9v2.7M43.6 60.04h-2.9M109.71 121.9v2.7M43.6 56.23h-2.9M112.84 121.9v2.7M43.6 53.12h-2.9M115.48 121.9v2.7M43.6 50.49h-2.9M117.77 121.9v2.7M43.6 48.21h-2.9M119.79 121.9v2.7M43.6 46.20h-2.9M121.60 121.9v3.6M43.6 44.40h-3.8M133.40 121.9v2.7M43.6 32.93h-2.9M140.30 121.9v2.7M43.6 26.22h-2.9M145.20 121.9v2.7M43.6 21.46h-2.9M149.00 121.9v2.7M43.6 17.77h-2.9M152.10 121.9v2.7M43.6 14.75h-2.9M154.73 121.9v2.7M43.6 12.20h-2.9M157.00 121.9v2.7M43.6 9.99h-2.9M159.01 121.9v2.7M43.6 8.04h-2.9M160.80 121.9v3.6M43.6 6.3h-3.8" stroke="#222" stroke-width="1" fill="none"/>
<rect x="48.300000000000004" y="10.1" width="84.6" height="62.2" fill="none" stroke="#222" stroke-width="1.15"/>
<rect x="48.300000000000004" y="74.3" width="60.6" height="43" fill="none" stroke="#222" stroke-width="1.15"/>
<text x="51.7" y="21.8" font-size="9.2" text-anchor="start" font-weight="normal" >P</text>
<text x="51.6" y="86.5" font-size="9.2" text-anchor="start" font-weight="normal" >M</text>
<text x="48.9" y="6.2" font-size="9.2" text-anchor="start" font-weight="normal" >Unstimulated</text>
<text x="0.5" y="8.1" font-size="11.3" text-anchor="start" font-weight="bold" >A</text>
<text x="39.6" y="135.4" font-size="9.2" text-anchor="start">10<tspan font-size="7.3" dy="-3.2" dx="0">0</tspan></text>
<text x="77.2" y="135.4" font-size="9.2" text-anchor="start">10<tspan font-size="7.3" dy="-3.2" dx="0">1</tspan></text>
<text x="116.19999999999999" y="135.4" font-size="9.2" text-anchor="start">10<tspan font-size="7.3" dy="-3.2" dx="0">2</tspan></text>
<text x="154.2" y="135.4" font-size="9.2" text-anchor="start">10<tspan font-size="7.3" dy="-3.2" dx="0">3</tspan></text>
<text x="39.7" y="126.5" font-size="9.2" text-anchor="end">10<tspan font-size="7.3" dy="-3.2" dx="0">0</tspan></text>
<text x="39.7" y="86.3" font-size="9.2" text-anchor="end">10<tspan font-size="7.3" dy="-3.2" dx="0">1</tspan></text>
<text x="39.7" y="48.4" font-size="9.2" text-anchor="end">10<tspan font-size="7.3" dy="-3.2" dx="0">2</tspan></text>
<text x="39.7" y="10.7" font-size="9.2" text-anchor="end">10<tspan font-size="7.3" dy="-3.2" dx="0">3</tspan></text>
<text x="71.3" y="145.4" font-size="9.2" text-anchor="start" font-weight="normal" >Side Scatter Log</text>
<text x="20.6" y="104" font-size="9.1" text-anchor="start" font-weight="normal" transform="rotate(-90 20.6 104)">Forward Scatter Log</text>
<path d="M253.9 62.6h1M263.0 60.9h1M238.8 93.4h1M300.1 48.5h1M236.8 83.3h1M250.0 70.1h1M261.6 45.5h1M250.1 80.6h1M237.6 65.0h1M255.6 76.6h1M280.2 59.7h1M285.7 20.4h1M267.8 62.5h1M259.0 84.8h1M269.6 51.2h1M250.5 64.3h1M261.6 58.9h1M274.9 39.4h1M224.0 45.4h1M257.6 54.8h1M241.3 63.7h1M276.7 75.0h1M264.2 54.0h1M245.6 70.1h1M262.2 67.5h1M267.3 69.2h1M252.7 67.2h1M251.1 80.0h1M250.3 85.2h1M253.1 55.2h1M250.3 55.7h1M289.7 25.2h1M236.7 99.2h1M261.2 55.2h1M262.1 49.3h1M276.2 35.9h1M281.1 61.7h1M255.5 75.0h1M261.0 57.9h1M265.9 48.0h1M252.5 58.8h1M267.8 43.7h1M248.7 95.1h1M291.0 38.7h1M291.6 45.7h1M246.0 53.8h1M270.1 49.8h1M260.1 55.9h1M245.6 66.1h1M267.3 60.9h1M285.1 52.3h1M262.1 68.6h1M260.1 66.7h1M251.5 51.8h1M262.6 48.1h1M288.2 47.7h1M250.7 65.5h1M264.6 47.8h1M274.5 63.6h1M241.3 88.6h1M272.4 78.1h1M259.5 60.0h1M265.6 62.7h1M278.1 63.7h1M243.4 94.9h1M262.5 57.9h1M259.3 73.8h1M243.5 79.9h1M266.2 48.7h1M279.4 54.4h1M257.8 71.9h1M258.2 34.2h1M257.9 65.1h1M271.0 64.5h1M249.5 76.3h1M293.9 44.7h1M222.2 92.7h1M259.7 59.2h1M264.3 42.8h1M231.7 85.0h1M258.3 60.5h1M255.4 55.1h1M272.7 46.5h1M284.6 45.5h1M266.3 72.7h1M249.7 83.8h1M300.0 55.4h1M265.3 30.7h1M270.8 77.9h1M268.7 55.3h1M278.5 62.7h1M286.2 64.4h1M266.9 57.6h1M283.9 41.0h1M243.2 87.2h1M272.8 41.1h1M273.2 58.3h1M258.1 61.0h1M274.7 39.4h1M237.0 97.1h1M280.6 44.4h1M264.5 50.9h1M249.1 76.8h1M268.0 52.6h1M277.8 79.7h1M296.1 21.6h1M284.2 30.6h1M270.3 54.3h1M252.1 68.8h1M242.2 56.9h1M258.9 64.5h1M251.7 64.4h1M258.7 79.1h1M262.6 74.4h1M263.8 67.3h1M264.9 74.3h1M254.9 70.7h1M259.0 80.0h1M297.4 23.5h1M255.9 91.2h1M263.2 85.9h1M274.3 57.9h1M267.7 71.7h1M274.0 57.9h1M278.5 52.0h1M282.4 43.4h1M265.3 42.3h1M241.1 66.4h1M272.3 39.0h1M244.3 88.8h1M251.0 52.4h1M269.0 77.3h1M265.5 88.7h1M269.2 49.5h1M261.4 62.9h1M277.7 45.6h1M244.9 82.2h1M286.9 57.7h1M278.8 59.9h1M256.0 50.4h1M238.4 75.0h1M266.0 68.5h1M230.1 71.2h1M245.6 97.8h1M309.5 15.3h1M273.8 43.7h1M295.5 40.8h1M261.9 69.7h1M273.8 50.7h1M275.5 52.1h1M291.8 60.4h1M301.2 30.8h1M255.2 114.4h1M245.4 101.6h1M255.3 37.0h1M315.5 76.7h1M233.9 84.1h1M240.0 56.1h1M290.0 78.1h1M237.9 19.8h1M249.6 76.5h1M300.3 27.6h1M252.8 52.9h1M280.8 19.5h1M278.5 65.8h1M249.5 14.5h1M248.0 55.6h1M251.8 115.1h1M307.1 38.0h1M226.7 24.9h1M233.5 107.5h1M256.5 14.0h1M245.4 57.1h1M277.6 37.8h1M275.3 94.1h1M271.2 16.4h1M252.8 48.3h1M272.7 59.3h1M298.7 14.2h1M301.2 57.8h1" stroke="#a4a4a4" stroke-width="1" fill="none" filter="url(#bl)"/>
<path d="M261.5 65.2h1M264.4 60.0h1M273.0 47.8h1M265.5 57.7h1M277.1 52.2h1M252.6 64.9h1M255.9 70.5h1M267.4 58.9h1M251.9 67.8h1M276.4 39.0h1M262.5 46.0h1M257.4 69.7h1M261.9 60.8h1M258.6 63.2h1M262.1 54.7h1M264.7 61.2h1M269.2 53.2h1M268.5 47.1h1M269.0 65.4h1M268.3 75.2h1M265.4 55.0h1M261.2 60.3h1M263.3 47.6h1M262.2 60.8h1M261.9 50.1h1M258.6 53.5h1M261.2 60.6h1M262.8 64.3h1M269.6 55.8h1M275.0 39.7h1M272.0 55.8h1M261.0 59.9h1M262.6 51.9h1M265.4 59.8h1M252.8 67.4h1M267.3 58.8h1M269.5 46.8h1M260.2 61.4h1M264.9 72.7h1M265.8 56.0h1M267.4 42.6h1M262.3 49.2h1M262.2 48.3h1M276.0 42.6h1M269.4 46.0h1M272.1 57.2h1M258.7 59.4h1M263.1 58.2h1M258.5 58.1h1M271.6 55.5h1M253.2 63.3h1M269.4 46.8h1M268.5 61.2h1M257.6 60.8h1M257.7 47.9h1M251.8 75.3h1M257.6 65.4h1M265.8 68.2h1M267.2 53.3h1M256.3 61.0h1M268.1 47.3h1M261.1 63.3h1M267.7 56.8h1M251.7 60.6h1M270.0 51.3h1M267.9 65.1h1M264.0 54.7h1M261.5 64.0h1M259.1 68.9h1M264.6 63.0h1M271.0 52.5h1M262.3 70.1h1M251.5 69.2h1M265.1 64.1h1M269.7 55.2h1M256.8 67.3h1M257.3 62.1h1M262.0 57.1h1M262.2 62.7h1M266.5 58.6h1M267.8 49.7h1M264.5 60.3h1M263.2 60.4h1M262.5 51.1h1M262.5 60.0h1M254.8 65.1h1M260.1 68.8h1M258.6 69.0h1M271.3 44.0h1M261.0 58.9h1M269.7 57.3h1M269.7 55.8h1M251.1 62.7h1M264.3 53.7h1M262.0 65.1h1M259.3 79.7h1M263.9 62.4h1M253.6 65.6h1M255.7 59.0h1M268.7 59.3h1M273.0 41.1h1M257.7 61.8h1M258.9 59.0h1M263.5 56.0h1M263.3 57.8h1M260.2 59.7h1M259.7 69.2h1M256.8 66.3h1M258.8 59.1h1M258.5 69.4h1M254.3 61.6h1M252.9 67.1h1M269.8 51.5h1M257.5 72.4h1M270.5 43.6h1M258.3 63.1h1M255.8 66.7h1M256.2 68.3h1M266.7 53.4h1M258.4 46.0h1M251.1 61.8h1M262.0 55.5h1M259.6 59.3h1M258.7 59.7h1M258.7 55.5h1M264.4 52.3h1M249.0 71.9h1M259.4 81.3h1M266.1 59.2h1M264.8 61.4h1M271.9 57.4h1M256.2 73.9h1M260.3 68.6h1M273.3 49.1h1M260.6 72.2h1M262.1 55.2h1M262.3 67.7h1M258.6 61.4h1M259.5 72.3h1M267.6 49.6h1M259.1 77.7h1M264.0 73.0h1M256.7 65.7h1M268.3 50.1h1M255.1 51.9h1M263.2 52.5h1M260.6 58.4h1M262.4 56.7h1M266.5 56.3h1M267.1 45.5h1M265.1 58.2h1M253.5 69.8h1M270.0 51.4h1M258.0 55.7h1M256.9 67.9h1M262.4 61.1h1M255.9 66.0h1M273.9 43.6h1M267.8 66.0h1M253.9 75.7h1M260.3 54.8h1M261.5 67.6h1M265.0 47.0h1M259.8 56.3h1M252.1 72.3h1M266.9 67.2h1M246.9 61.8h1M253.3 62.1h1M259.0 64.2h1M256.3 77.2h1M267.5 60.1h1M264.7 69.9h1M259.7 67.2h1M261.6 50.8h1M276.3 47.0h1M260.3 64.8h1M267.9 43.2h1M249.2 73.5h1M263.9 54.1h1M262.7 65.7h1M254.6 55.6h1M255.6 65.9h1M257.5 62.8h1M257.2 59.6h1M263.6 63.7h1M268.8 58.5h1M277.4 43.1h1M253.7 61.0h1M260.0 59.5h1M259.7 76.4h1M255.4 82.1h1M268.8 48.1h1M261.4 72.9h1M259.8 65.7h1M261.7 58.6h1M265.8 51.5h1M259.8 54.4h1M264.4 40.7h1M261.3 60.6h1M253.2 73.4h1M256.8 54.6h1M261.5 57.5h1M257.7 65.3h1M257.5 60.0h1M259.0 63.6h1M270.9 45.6h1M255.3 61.7h1M257.7 71.4h1M264.5 57.5h1M253.1 73.3h1M260.6 53.7h1M270.3 59.5h1M253.3 63.0h1M256.2 61.7h1M263.8 66.5h1M266.4 44.3h1M266.5 57.4h1M252.2 66.2h1M256.8 69.3h1M260.5 59.0h1M267.5 62.4h1M259.1 65.6h1M265.3 57.8h1M258.8 59.3h1M269.7 52.0h1M262.5 54.7h1M252.6 54.6h1M263.3 58.3h1M254.1 63.9h1M268.2 53.2h1M260.9 54.3h1M265.0 65.2h1M257.9 55.4h1M261.7 64.6h1M277.1 41.3h1M263.3 64.6h1M267.2 56.5h1M261.7 55.0h1M257.8 65.2h1M258.7 57.1h1M258.5 60.5h1M265.8 58.5h1M264.8 57.9h1M261.6 50.6h1M259.7 49.4h1M255.8 59.8h1M256.1 61.2h1M263.1 66.0h1M266.5 70.8h1M249.5 70.4h1M265.5 54.6h1M265.7 62.0h1M261.8 61.2h1M251.9 70.9h1M256.3 71.8h1M254.3 81.4h1M262.9 60.6h1M262.2 52.0h1M262.0 52.7h1M270.9 65.0h1M254.7 66.3h1M262.3 59.3h1M258.0 56.7h1M274.3 58.6h1M266.6 53.5h1M263.5 62.7h1M263.4 60.2h1M270.0 56.2h1M266.3 56.6h1M265.8 63.1h1M250.4 75.4h1M247.5 57.7h1M266.0 52.4h1M264.8 59.1h1M252.9 43.7h1M260.8 62.1h1M263.8 59.2h1M262.4 50.8h1M269.5 56.0h1M264.9 56.5h1M273.2 53.9h1M266.3 47.3h1M271.9 49.9h1M257.8 74.3h1M262.7 64.6h1M257.0 59.7h1M262.5 63.2h1M255.7 72.9h1M266.1 47.5h1M252.4 64.1h1M272.4 64.0h1M248.0 76.5h1M256.0 61.0h1M256.9 58.9h1M255.8 65.5h1M269.2 55.3h1M271.8 39.4h1M257.5 65.8h1M257.5 65.7h1M271.5 45.8h1M266.2 55.5h1M269.9 67.0h1M255.3 68.8h1M262.3 51.4h1M258.7 54.9h1M263.0 43.1h1M253.3 63.3h1M262.7 61.3h1M258.0 60.0h1M263.0 61.9h1M262.2 47.9h1M267.5 53.2h1M252.9 60.6h1M266.5 62.6h1M259.6 60.1h1M265.1 51.3h1M263.6 61.9h1M259.5 69.5h1M263.1 63.3h1M257.1 56.7h1M268.3 52.9h1M272.3 51.4h1M272.2 51.1h1M260.5 54.3h1M261.7 64.4h1M255.9 49.3h1M252.2 55.4h1M257.1 62.9h1M264.6 57.5h1M258.9 53.0h1M268.4 53.5h1M253.2 63.6h1M251.7 70.9h1M263.9 54.8h1M260.0 68.2h1M265.1 50.3h1M257.1 68.0h1M258.2 63.1h1M254.3 74.0h1M265.2 39.3h1M266.2 66.4h1M267.2 63.0h1M257.4 62.1h1M260.6 60.9h1M271.7 55.9h1M260.5 57.3h1M262.2 59.4h1M278.8 56.2h1M249.6 66.4h1M269.0 51.2h1M271.8 47.9h1M258.3 71.9h1M270.1 61.0h1M259.8 71.7h1M249.3 74.3h1M261.4 68.0h1M264.5 55.1h1M273.9 58.0h1M259.7 61.8h1M259.9 67.3h1M260.4 63.0h1M260.0 65.7h1M260.5 65.1h1M252.8 79.6h1M256.7 58.7h1M257.1 57.7h1M273.7 42.8h1M263.9 53.1h1M265.0 62.4h1M266.3 60.9h1M265.8 58.0h1M254.9 62.6h1M263.9 82.5h1M262.6 67.4h1M259.9 60.5h1M261.1 57.5h1M259.4 65.4h1M262.1 69.2h1M259.8 60.9h1M259.4 57.2h1M260.8 52.5h1M259.9 60.7h1M265.9 56.8h1M256.0 66.5h1M262.1 50.7h1M262.2 60.0h1M256.0 70.4h1M266.7 64.7h1M257.7 55.7h1M257.4 68.0h1M274.3 58.6h1M259.1 61.2h1M258.5 52.4h1M267.7 73.2h1M257.3 53.3h1M266.1 53.9h1M257.7 61.5h1M266.2 63.7h1M258.3 63.2h1M264.4 57.1h1M261.1 58.4h1M270.0 58.5h1M266.1 62.3h1M263.0 73.4h1M248.8 65.6h1M257.7 61.6h1M265.9 56.6h1M273.2 41.6h1M270.7 55.0h1M261.5 65.5h1M252.1 75.1h1M272.2 59.6h1M270.2 63.8h1M262.5 72.5h1M270.5 54.6h1M257.8 56.8h1M260.7 62.9h1M254.9 75.7h1M263.4 49.7h1M260.6 57.7h1M260.2 60.8h1M257.3 66.8h1M259.7 61.8h1M276.0 54.0h1M260.0 52.5h1M268.7 41.8h1M262.9 48.4h1M259.7 54.2h1M265.3 51.5h1M260.3 56.5h1M258.7 72.8h1M254.4 61.2h1M259.5 54.2h1M257.2 66.4h1M261.6 64.5h1M255.5 68.7h1M277.8 50.2h1M257.9 70.9h1M246.7 61.3h1M258.8 66.8h1M269.3 53.0h1M267.6 50.3h1M263.0 65.6h1M270.8 58.1h1M256.2 65.3h1M269.5 63.4h1M273.7 38.2h1M267.8 52.4h1M263.1 60.2h1M255.4 69.5h1M262.4 62.6h1M249.9 66.2h1M252.4 76.9h1M256.7 49.6h1M266.1 55.3h1M263.9 58.1h1M268.8 52.3h1M262.1 77.0h1M276.1 52.3h1M248.9 63.0h1M262.7 55.5h1M266.1 56.6h1M259.7 46.3h1M267.3 40.9h1M258.4 53.3h1M261.4 62.8h1M258.2 68.8h1M258.8 54.5h1M263.0 68.6h1M264.1 74.7h1M259.3 59.7h1M264.9 53.6h1M261.3 62.0h1M259.9 69.1h1M260.0 56.4h1M262.2 72.4h1M258.8 73.4h1M268.8 47.4h1M266.4 59.0h1M272.0 43.7h1M261.4 74.4h1M270.8 53.1h1M258.8 59.1h1M277.3 39.4h1M256.2 58.0h1M255.3 59.9h1M268.6 58.3h1M267.1 60.0h1M259.3 62.4h1M266.1 51.7h1M264.9 53.3h1M264.2 50.8h1M268.7 58.6h1M252.7 61.2h1M260.5 65.6h1M268.7 56.6h1M262.0 69.1h1M264.2 42.2h1M252.7 53.3h1M255.7 63.9h1M264.7 49.5h1M262.6 59.6h1M272.4 52.3h1M264.0 57.9h1M278.8 49.8h1M262.0 63.1h1M243.9 71.8h1M259.0 73.5h1M245.7 66.9h1M266.9 55.5h1M276.5 48.1h1M259.6 59.7h1M255.6 69.6h1M261.3 51.3h1M262.5 54.5h1M267.3 66.2h1M265.5 56.7h1M260.6 58.2h1M258.7 69.4h1M259.2 50.1h1M253.3 59.4h1M260.6 68.4h1M261.6 61.3h1M272.4 48.3h1M266.7 40.9h1M264.1 45.3h1M267.8 67.7h1M262.3 70.1h1M260.4 54.5h1M267.8 64.1h1M262.1 57.6h1M255.5 67.3h1M260.7 67.8h1M250.0 63.5h1M262.0 50.8h1M268.7 51.5h1M255.5 62.6h1M266.9 55.6h1M262.7 52.6h1M255.3 63.1h1M262.6 59.3h1M273.4 56.9h1M266.1 72.2h1M266.3 48.2h1M260.5 60.4h1M260.8 57.7h1M262.2 61.8h1M263.5 75.7h1M270.2 60.1h1M262.9 59.7h1M255.0 59.4h1M264.4 62.8h1M256.4 51.4h1M272.1 66.4h1M267.9 68.1h1M266.6 60.8h1M264.0 52.1h1M268.2 62.2h1M264.0 68.7h1M273.6 56.8h1M261.8 62.1h1M263.5 53.7h1M257.2 57.8h1M263.3 69.9h1M257.3 69.9h1M262.7 69.0h1M254.9 57.5h1M255.9 79.6h1M260.8 54.2h1M266.6 49.9h1M269.9 66.2h1M255.7 67.3h1M251.6 70.8h1M269.5 61.0h1M261.6 54.4h1M264.6 59.9h1M262.1 51.7h1M257.1 63.4h1M265.0 63.5h1M262.7 56.5h1M261.9 61.4h1M263.8 54.9h1M268.4 57.4h1M256.7 58.9h1M257.8 66.9h1M258.1 64.5h1M273.5 54.0h1M255.9 68.4h1M263.5 59.3h1M263.8 70.7h1M272.1 40.4h1M259.1 64.1h1M261.7 52.1h1M255.5 65.6h1M271.3 30.8h1M259.2 71.7h1M256.0 51.8h1M249.6 65.2h1M262.3 50.5h1M254.2 67.9h1M264.2 65.0h1M254.9 72.0h1M267.2 66.3h1M264.2 60.3h1M270.2 45.2h1M249.5 76.3h1M258.0 50.9h1M271.3 63.9h1M267.9 68.9h1M264.1 62.5h1M266.1 57.2h1M268.0 62.9h1M262.4 59.7h1M259.1 65.7h1M257.5 60.7h1M267.1 56.8h1M257.8 66.5h1M244.1 54.1h1M264.0 59.4h1M258.0 53.3h1M261.1 54.4h1M269.7 65.6h1M256.7 77.7h1M271.4 56.3h1M263.8 49.4h1M269.7 50.7h1M265.5 57.5h1M267.2 53.0h1M255.5 58.5h1M258.6 69.0h1M264.4 62.3h1M258.8 59.9h1M269.2 52.6h1M266.0 52.9h1M257.3 61.9h1M257.5 61.1h1M260.5 58.8h1M268.4 62.1h1M278.4 53.5h1M260.3 63.4h1M261.5 45.2h1M257.4 71.3h1M259.8 65.2h1M267.6 44.7h1M264.8 56.7h1M256.5 55.0h1M260.5 52.1h1M269.7 66.0h1M261.9 58.6h1M261.4 56.6h1M264.3 58.2h1M261.1 54.9h1M262.7 65.8h1M263.5 56.3h1M260.6 66.0h1M266.6 55.7h1M256.4 57.8h1M261.3 56.2h1M261.8 56.2h1M255.8 63.6h1M253.0 59.7h1M263.8 61.8h1M259.5 53.1h1M259.2 47.7h1M261.3 59.5h1M256.6 63.4h1M257.2 54.0h1M262.8 59.9h1M263.1 51.9h1M270.4 51.3h1M265.5 40.8h1M250.0 69.8h1M262.4 64.5h1M265.0 61.8h1M265.4 52.9h1M267.6 55.3h1M267.1 61.6h1M269.0 55.1h1M259.1 63.4h1M263.1 63.8h1M269.0 60.1h1M262.7 70.9h1M264.7 44.2h1M261.0 67.1h1M256.8 68.2h1M265.3 57.8h1M253.4 74.6h1M261.7 63.6h1M255.8 57.5h1M278.6 55.2h1M272.0 33.0h1M266.6 60.1h1M254.1 68.3h1M263.4 57.3h1M258.7 50.3h1M256.7 66.0h1M263.7 56.5h1M271.1 47.7h1M267.8 57.3h1M262.6 67.9h1M261.3 64.7h1M259.9 75.3h1M263.2 64.5h1M263.2 66.0h1M272.7 50.7h1M258.3 73.5h1M256.0 72.4h1M266.7 59.9h1M264.0 54.1h1M258.5 63.0h1M269.7 61.6h1M266.2 54.5h1M269.7 55.8h1M268.0 58.8h1M264.2 54.7h1M256.8 72.6h1M267.8 54.0h1M262.3 57.9h1M255.5 64.2h1M256.4 60.2h1M265.2 64.2h1M258.6 63.1h1M266.5 63.5h1M273.8 70.1h1M263.4 75.4h1M273.5 43.0h1M261.1 54.7h1M270.8 40.9h1M258.6 60.2h1M267.5 45.3h1M271.3 66.0h1M272.4 48.6h1M270.5 54.3h1M266.5 53.7h1M257.5 58.5h1M259.0 55.1h1M261.8 44.9h1M253.6 75.5h1M262.0 66.5h1M254.5 68.1h1M257.7 66.4h1M258.8 50.8h1M270.1 54.9h1M253.4 56.3h1M261.3 46.8h1M255.2 63.0h1M263.2 66.2h1M265.3 59.7h1M270.5 59.7h1M257.4 57.9h1M254.3 66.0h1M268.3 56.7h1M264.6 42.6h1M258.6 61.1h1M261.8 58.7h1M257.3 68.2h1M258.1 56.9h1M259.9 67.6h1M265.3 59.1h1M264.3 43.9h1M271.4 58.9h1M260.9 66.1h1M266.0 52.8h1M247.4 68.9h1M264.9 47.9h1M266.8 58.6h1M251.3 64.2h1M265.3 64.5h1M258.6 66.8h1M276.6 46.3h1M262.0 53.1h1M257.1 67.0h1M265.6 68.3h1M266.2 59.9h1M260.7 64.5h1M258.7 54.7h1M259.1 53.5h1M255.6 70.8h1M259.5 51.2h1M273.9 48.2h1M267.5 58.9h1M266.8 55.3h1M263.1 65.2h1M262.2 64.7h1M265.5 58.0h1M254.4 64.1h1M258.8 74.4h1M266.1 52.7h1M257.3 63.3h1M258.2 54.7h1M259.1 56.3h1M261.5 54.5h1M262.5 53.1h1M265.1 55.4h1M261.9 62.2h1M267.4 53.6h1M251.0 56.6h1M268.8 59.3h1M258.6 63.8h1M264.0 59.4h1M257.5 65.6h1M261.8 44.3h1M267.5 58.9h1M272.0 72.7h1M260.2 77.2h1M258.9 65.1h1M272.4 51.3h1M260.6 65.2h1M271.0 54.0h1M256.1 58.1h1M266.5 65.3h1M258.9 68.6h1M255.2 52.3h1M266.4 50.9h1M268.3 54.6h1M258.8 51.9h1M262.7 70.7h1M259.8 57.0h1M260.2 70.4h1M258.6 66.4h1M263.2 56.1h1M260.6 69.9h1M269.8 58.8h1M263.1 63.4h1M261.6 44.0h1M266.9 64.0h1M263.3 55.2h1M266.6 51.6h1M259.2 51.9h1M271.6 58.5h1M256.9 75.2h1M269.6 54.7h1M264.3 78.3h1M263.9 68.1h1M249.2 78.4h1M259.3 61.9h1M259.9 65.9h1M267.4 65.6h1M256.3 67.1h1M257.9 59.4h1M260.5 66.8h1M258.9 60.3h1M267.4 54.4h1M251.3 76.9h1M264.2 61.8h1M265.8 63.9h1M258.0 74.2h1M258.1 62.4h1M271.9 50.7h1M255.7 52.6h1M259.9 64.8h1M269.2 56.4h1M266.1 58.6h1M257.7 71.2h1M266.1 66.3h1M262.1 60.5h1M263.0 60.4h1M267.0 59.2h1M257.1 57.1h1M264.0 60.6h1M259.7 64.3h1M262.9 64.4h1M257.1 62.7h1M269.6 58.9h1M263.7 62.2h1M256.2 62.8h1M263.5 52.8h1M266.3 36.9h1M262.6 61.7h1M267.9 49.8h1M259.9 64.2h1M264.1 58.6h1M267.4 53.1h1M270.9 52.7h1M268.1 40.5h1M262.0 64.5h1M255.1 54.5h1M267.1 47.8h1M272.2 51.3h1M259.5 66.8h1M262.5 59.5h1M267.8 51.7h1M272.1 51.8h1M252.8 63.8h1M264.4 56.6h1M251.9 76.8h1M271.0 53.4h1M272.8 46.5h1M255.0 66.6h1M258.3 59.2h1M256.0 70.7h1M257.6 61.4h1M263.1 53.9h1M272.8 59.0h1M264.9 56.4h1M259.3 72.3h1M255.0 64.0h1M268.4 42.9h1M270.3 61.3h1M257.3 60.9h1M264.8 58.0h1M257.8 62.8h1M258.2 55.1h1M253.8 62.4h1M256.6 63.1h1M247.3 67.1h1M268.9 44.3h1M264.8 53.0h1M273.3 58.9h1M273.4 56.3h1M264.9 62.0h1M255.5 66.8h1M263.3 54.3h1M268.8 55.6h1M266.8 56.1h1M259.6 61.8h1M255.2 71.2h1M260.5 49.7h1M258.3 52.5h1M262.7 60.0h1M259.8 60.3h1M258.0 58.1h1M261.4 64.7h1M249.2 67.2h1M254.2 55.7h1M259.3 62.0h1M266.9 58.4h1M257.0 59.4h1M265.2 57.8h1M258.3 69.7h1M263.6 55.1h1M267.1 40.1h1M262.0 60.1h1M256.2 49.0h1M272.8 55.9h1M270.0 59.8h1M267.9 59.8h1M257.0 72.7h1M255.7 64.1h1M272.9 48.8h1M261.8 56.7h1M266.8 59.5h1M282.7 50.2h1M254.3 72.8h1M269.8 52.3h1M266.2 54.5h1M252.8 74.4h1M258.1 63.5h1M266.8 57.2h1M262.4 66.7h1M261.5 66.9h1M267.7 55.8h1M260.4 60.1h1M264.8 58.6h1M264.1 61.9h1M271.2 62.9h1M270.5 60.6h1M270.0 40.1h1M266.9 57.5h1M259.0 64.8h1M261.3 54.5h1M270.6 61.2h1M278.8 33.7h1M265.1 75.9h1M266.1 54.0h1M261.4 55.9h1M261.6 42.5h1M259.1 68.2h1M261.6 71.9h1M262.9 55.8h1M266.6 52.7h1M259.2 52.7h1M265.9 54.5h1M260.4 58.5h1M276.4 56.6h1M264.3 59.0h1M255.8 60.8h1M267.7 46.6h1M257.3 65.5h1M255.0 72.1h1M254.5 58.9h1M262.6 60.8h1M259.2 58.1h1M263.6 63.1h1M259.5 53.6h1M258.8 60.8h1M259.4 66.8h1M262.1 44.2h1M257.9 58.5h1M266.5 49.9h1M260.8 56.5h1M264.5 55.3h1M272.4 48.5h1M253.2 73.7h1M262.1 47.0h1M266.2 60.7h1M268.2 53.3h1M257.9 61.5h1M267.4 62.0h1M264.1 61.8h1M258.1 68.5h1M258.6 57.7h1M273.6 46.4h1M272.7 51.6h1M270.4 48.9h1M256.9 58.5h1M264.6 62.4h1M264.6 65.2h1M252.5 75.4h1M261.8 61.4h1M256.5 63.8h1M266.7 52.4h1M265.9 51.3h1M260.5 53.5h1M262.6 68.9h1M255.3 61.5h1M272.7 50.8h1M264.1 56.8h1M257.3 45.6h1M256.4 60.6h1M270.2 53.4h1M261.5 62.2h1M261.6 63.9h1M261.2 55.6h1M254.3 62.2h1M256.7 68.2h1M279.6 54.6h1M264.8 53.2h1M257.5 61.4h1M264.7 60.8h1M265.7 49.1h1M263.0 65.0h1M249.0 77.2h1M286.1 48.7h1M262.8 75.2h1M265.2 65.8h1M254.0 77.8h1M252.8 77.2h1M263.0 56.1h1M254.8 68.8h1M271.2 57.6h1M267.7 64.0h1M262.6 61.2h1M266.8 55.2h1M265.1 53.8h1M275.4 52.2h1M259.4 72.3h1M264.2 68.2h1M263.0 52.4h1M266.1 53.2h1M258.9 63.0h1M255.2 68.3h1M256.8 56.0h1M254.1 86.4h1M261.2 76.5h1M267.5 50.2h1M256.8 69.8h1M273.5 43.9h1M271.0 63.0h1M267.4 59.3h1M271.6 36.1h1M271.1 54.7h1M256.0 59.0h1M259.3 63.4h1M251.9 60.1h1M254.3 76.6h1M261.9 55.1h1M264.4 60.2h1M266.6 69.1h1M264.3 51.1h1M260.9 64.9h1M257.5 75.3h1M256.1 67.6h1M256.3 56.5h1M264.4 57.3h1M270.2 44.1h1M259.6 62.2h1M265.0 55.5h1M255.0 44.5h1M269.4 57.2h1M255.8 52.7h1M257.1 68.7h1M260.7 62.9h1M277.8 45.4h1M263.6 58.5h1M257.4 57.2h1M254.2 67.3h1M262.4 57.0h1M272.0 46.7h1M261.5 65.5h1M257.8 66.9h1M260.7 59.4h1M258.2 62.6h1M255.4 62.7h1M276.4 44.7h1M269.7 55.7h1M254.0 70.1h1M264.1 61.5h1M264.0 51.0h1M262.1 63.0h1M268.6 54.9h1M253.4 66.8h1M268.6 58.0h1M257.1 57.4h1M272.6 59.8h1M261.7 60.2h1M255.7 63.1h1M265.0 57.3h1M258.7 52.9h1M264.2 54.2h1M257.1 71.5h1M261.5 64.8h1M257.5 59.6h1M256.6 59.7h1M266.0 66.0h1M264.0 60.0h1M274.3 52.4h1M270.7 46.5h1M268.9 51.3h1M260.9 53.4h1M244.9 84.5h1M264.9 68.4h1M268.4 57.7h1M261.5 69.3h1M270.6 52.8h1M265.0 68.6h1M266.4 60.6h1M260.2 63.4h1M260.7 56.2h1M258.9 73.4h1M258.7 61.2h1M251.1 62.6h1M262.1 71.5h1M257.9 74.8h1M271.1 54.6h1M256.1 68.3h1M259.9 51.0h1M265.1 63.2h1M262.6 55.4h1M261.8 60.0h1M263.1 61.2h1M260.3 72.5h1M273.4 38.5h1M268.8 52.9h1M269.9 54.1h1M255.8 80.1h1M260.3 66.5h1M259.8 66.7h1M261.2 57.8h1M260.9 66.9h1M263.2 54.3h1M266.2 61.6h1M262.2 51.9h1M263.1 48.9h1M255.6 65.4h1M266.9 69.7h1M248.0 61.9h1M271.1 56.7h1M265.4 63.3h1M259.1 63.3h1M261.3 73.4h1M263.0 57.1h1M258.5 58.5h1M264.0 60.3h1M266.6 66.8h1M258.5 73.7h1M266.3 49.4h1M266.7 63.0h1M263.8 58.7h1M264.8 69.8h1M270.5 51.0h1M251.6 63.0h1M263.1 65.9h1M258.2 67.5h1M260.2 71.0h1M269.2 56.3h1M255.5 61.5h1M259.5 69.9h1M259.1 60.4h1M265.4 65.4h1M266.2 62.4h1M259.1 64.8h1M263.2 58.5h1M252.2 72.2h1M256.4 66.8h1M270.8 57.8h1M263.8 52.4h1M252.2 73.6h1M263.3 57.1h1M262.7 61.1h1M266.0 50.4h1M255.3 67.6h1M264.3 57.6h1M265.3 53.2h1M257.1 71.9h1M258.9 65.5h1M268.6 54.1h1M260.1 61.5h1M260.3 49.7h1M265.5 60.5h1M266.5 77.4h1M268.4 62.8h1M259.3 54.5h1M263.3 66.8h1M262.0 49.3h1M251.8 68.2h1M259.3 59.2h1M265.5 65.6h1M263.6 69.7h1M260.0 74.4h1M256.2 78.3h1M257.1 70.3h1M257.8 59.6h1M257.0 63.4h1M257.4 59.1h1M266.4 65.1h1M255.5 61.3h1M262.9 58.3h1M266.8 53.9h1M258.0 73.7h1M266.2 59.8h1M250.2 70.7h1M271.7 42.4h1M256.8 66.9h1M264.4 65.6h1M262.7 51.3h1M263.8 56.7h1M275.3 57.8h1M269.9 49.5h1M262.2 63.3h1M273.6 45.8h1M261.8 66.7h1M263.6 63.9h1M266.5 53.3h1M257.2 82.0h1M260.0 65.5h1M259.9 61.0h1M262.3 51.4h1M261.7 67.2h1M268.0 54.3h1M256.1 67.5h1M260.7 48.7h1M264.0 52.8h1M254.5 60.9h1M266.3 65.2h1M265.8 64.0h1M256.1 60.4h1M267.1 68.8h1M266.6 48.0h1M257.9 52.9h1M265.1 56.8h1M255.9 72.6h1M260.7 59.3h1M268.1 51.7h1M266.4 61.0h1M261.8 65.2h1M259.4 59.3h1M263.1 51.8h1M259.8 60.3h1M257.4 79.5h1M256.6 64.8h1M261.2 57.7h1M257.1 73.5h1M263.0 60.3h1M268.6 58.6h1M268.3 39.9h1M266.5 46.8h1M266.4 58.2h1M254.4 74.2h1M269.9 61.2h1M257.5 72.5h1M250.4 64.1h1M265.8 50.1h1M254.5 63.7h1M263.3 53.3h1M267.4 60.7h1M261.6 49.6h1M260.2 60.6h1M257.2 58.5h1M264.7 44.9h1M266.7 54.9h1M273.1 62.1h1M258.9 57.6h1M259.6 52.1h1M257.5 58.0h1M261.9 52.9h1M266.2 62.8h1M260.7 76.8h1M254.2 72.5h1M257.3 63.7h1M272.7 44.2h1M268.0 48.0h1M258.5 61.4h1M262.8 68.3h1M259.9 63.4h1M264.8 63.2h1M269.6 50.7h1M262.2 65.4h1M258.3 73.0h1M253.9 60.0h1M264.8 73.7h1M272.7 49.3h1M263.3 61.6h1M274.1 65.2h1M263.0 60.3h1M254.2 75.4h1M265.3 58.5h1M264.9 55.6h1M267.0 66.5h1M265.1 57.2h1M272.6 69.0h1M262.5 60.6h1M270.5 55.6h1M261.6 63.3h1M260.1 52.7h1M265.4 60.2h1M255.1 55.2h1M255.8 61.0h1M263.9 67.9h1M256.2 55.8h1M269.0 50.5h1M267.8 58.4h1M266.5 48.8h1M260.8 58.1h1M258.3 73.7h1M265.7 48.6h1M264.8 61.2h1M264.9 48.9h1M261.6 50.7h1M264.2 51.2h1M264.3 55.5h1M251.3 84.3h1M266.2 52.5h1M268.2 59.5h1M259.1 49.3h1M263.9 50.5h1M258.8 53.7h1M268.8 55.9h1M254.8 70.3h1M266.5 60.5h1M267.2 54.4h1M266.2 54.4h1M261.8 68.2h1M260.7 77.9h1M256.2 62.1h1M260.9 57.9h1M263.8 57.1h1M267.0 44.5h1M266.7 48.5h1M261.2 66.5h1M263.2 53.0h1M256.5 60.3h1M262.0 50.6h1M258.5 64.2h1M264.8 46.8h1M262.1 65.0h1M256.8 59.9h1M260.8 68.2h1M264.5 51.8h1M265.3 60.2h1M269.8 58.9h1M266.8 53.8h1M248.1 59.9h1M269.4 45.6h1M266.6 53.4h1M263.8 57.6h1M258.7 57.1h1M263.7 62.7h1M258.8 62.9h1M258.7 47.3h1M268.3 60.5h1M262.4 59.5h1M256.0 61.5h1M259.0 55.5h1M274.4 44.4h1M262.7 54.5h1M257.0 77.3h1M253.8 78.8h1M270.0 56.0h1M262.5 73.9h1M264.1 57.2h1M264.9 54.1h1M273.9 58.5h1M270.2 42.6h1M266.1 65.6h1M257.8 54.2h1M255.0 61.4h1M254.3 68.3h1M258.6 65.3h1M275.0 50.9h1M269.2 47.5h1M260.9 67.0h1M273.9 57.2h1M256.9 57.8h1M264.1 50.6h1M260.6 67.6h1M261.9 55.5h1M267.6 60.6h1M259.3 66.7h1M260.5 64.0h1M262.3 64.4h1M260.0 57.5h1M268.8 45.0h1M270.4 46.7h1M266.9 44.5h1M252.6 46.9h1M259.4 47.0h1M261.3 68.9h1M264.2 59.4h1M264.7 48.4h1M261.5 54.6h1M261.5 65.4h1M260.1 52.4h1M265.0 58.1h1M267.1 59.7h1M259.8 63.2h1M266.0 53.8h1M260.1 59.3h1M256.8 63.9h1M264.1 59.9h1M268.3 56.2h1M263.7 45.2h1M264.0 47.5h1M258.4 75.3h1M266.1 49.6h1M266.4 55.0h1M262.7 53.9h1M273.0 50.1h1M265.6 42.7h1M266.6 54.0h1M265.9 61.9h1M261.9 64.1h1M259.6 54.6h1M266.2 56.6h1M267.6 68.8h1M264.4 41.3h1M269.3 46.0h1M268.6 52.7h1M275.8 45.7h1M268.9 52.5h1M263.1 62.6h1M272.4 54.5h1M270.3 41.4h1M256.4 57.3h1M253.2 66.6h1M274.3 54.7h1M256.8 73.4h1M265.9 71.2h1M269.6 58.6h1M264.1 63.7h1M276.8 48.3h1M258.3 55.9h1M267.9 54.8h1M268.4 50.0h1M266.1 60.0h1M261.6 52.4h1M255.8 73.9h1M269.4 40.9h1M260.9 56.6h1M257.2 58.3h1M252.3 59.4h1M267.6 59.3h1M258.3 62.7h1M260.6 55.5h1M258.4 63.4h1M259.3 72.3h1M258.1 64.6h1M253.1 62.4h1M263.2 55.4h1M258.4 55.4h1M261.8 64.2h1M265.4 57.4h1M258.7 63.7h1M268.2 63.0h1M257.4 59.4h1M265.2 56.4h1M254.0 63.7h1M258.3 58.5h1M256.5 56.2h1M256.0 67.2h1M260.6 57.7h1M266.9 62.3h1M269.7 53.7h1M254.6 66.5h1M246.7 65.6h1M260.2 75.2h1M260.8 56.0h1M269.4 69.0h1M255.7 65.9h1M262.0 56.5h1M260.8 49.2h1M276.3 47.2h1M267.7 49.2h1M261.7 65.7h1M279.4 53.6h1M259.7 65.7h1M267.4 57.7h1M267.0 53.7h1M255.6 71.0h1M265.4 59.6h1M264.5 59.4h1M270.0 40.5h1M261.6 65.2h1M261.5 50.7h1M261.4 60.5h1M259.4 56.7h1M256.8 66.0h1M263.1 49.2h1M268.4 49.4h1M271.9 52.1h1M254.2 72.7h1M252.3 73.2h1M263.3 60.5h1M268.5 50.8h1M263.7 51.4h1M256.8 58.8h1M260.6 65.6h1M274.2 48.2h1M262.3 44.1h1M255.5 63.1h1M262.4 60.0h1M262.6 60.4h1M268.2 40.6h1M261.5 51.2h1M265.9 49.3h1M258.4 66.3h1M267.7 59.3h1M256.5 57.0h1M257.1 54.6h1M274.0 61.6h1M256.5 56.6h1M254.2 65.8h1M270.3 51.4h1M263.4 69.9h1M257.6 64.9h1M254.8 74.5h1M269.9 59.8h1M274.0 64.6h1M260.4 65.1h1M257.5 65.7h1M262.3 57.4h1M262.7 62.6h1M256.2 66.7h1M271.8 59.8h1M270.6 54.3h1M260.9 54.5h1M269.7 54.4h1M255.9 52.9h1M262.6 42.9h1M268.0 52.8h1M264.0 63.7h1M262.7 47.7h1M259.0 53.4h1M263.8 65.4h1M259.2 64.5h1M261.8 61.9h1M256.4 76.6h1M254.6 62.8h1M262.4 64.4h1M258.2 73.2h1M260.2 67.2h1M253.7 64.7h1M254.8 71.2h1M270.3 65.3h1M266.4 59.4h1M258.5 53.4h1M264.0 48.1h1M259.5 59.4h1M256.3 60.8h1M258.2 56.8h1M260.5 44.9h1M270.3 46.9h1M261.6 64.7h1M267.9 58.1h1M262.1 60.7h1M266.8 55.7h1M258.9 83.2h1M265.3 65.4h1M259.1 77.3h1M241.7 80.6h1M261.9 54.9h1M263.6 69.8h1M265.9 47.6h1M264.1 51.9h1M267.0 48.5h1M268.6 54.0h1M265.4 65.9h1M256.9 52.1h1M257.6 72.6h1M256.9 68.9h1M272.4 59.7h1M280.5 50.6h1M264.2 58.0h1M255.8 67.5h1M262.4 60.0h1M258.9 50.8h1M269.4 52.3h1M266.0 59.7h1M265.1 42.4h1M272.5 53.5h1M262.5 55.0h1M266.1 65.1h1M280.7 44.0h1M260.6 62.8h1M261.2 61.8h1M257.6 66.2h1M261.5 56.0h1M251.1 71.3h1M263.8 54.2h1M252.8 71.1h1M263.6 53.0h1M255.1 70.6h1M259.2 71.3h1M264.2 68.8h1M264.8 59.0h1M266.6 64.6h1M249.3 62.8h1M261.8 61.3h1M266.1 55.7h1M252.5 73.2h1M273.0 52.2h1M263.9 60.8h1M252.4 82.3h1M250.5 51.0h1M262.7 61.9h1M265.9 66.5h1M253.6 58.2h1M251.1 57.6h1M262.2 51.3h1M264.8 58.8h1M268.4 56.3h1M263.9 62.6h1M267.6 48.5h1M266.6 63.4h1M268.2 56.3h1M260.8 60.1h1M264.4 62.0h1M268.7 53.3h1M269.0 54.1h1M262.3 58.5h1M263.4 58.4h1M257.3 60.0h1M264.1 53.2h1M265.6 57.2h1M268.2 53.4h1M256.6 53.6h1M260.6 58.1h1M269.1 53.9h1M257.4 57.7h1M267.7 54.2h1M265.2 49.8h1M272.6 49.3h1M260.8 56.2h1M268.2 59.3h1M263.2 49.7h1M263.0 57.7h1M265.2 54.4h1M254.8 52.7h1M258.4 56.7h1M257.7 63.4h1M262.3 56.8h1M268.5 55.8h1M261.9 55.4h1M259.2 59.1h1M255.4 51.6h1M272.3 48.1h1M264.6 59.6h1M259.1 62.9h1M269.5 44.6h1M261.7 62.8h1M273.8 48.8h1M267.3 54.9h1M254.0 67.2h1M262.5 59.7h1M265.9 62.1h1M256.6 56.8h1M263.6 61.1h1M268.9 54.3h1M257.7 51.0h1M268.0 46.2h1M264.6 61.0h1M263.4 58.7h1M267.5 53.1h1M264.1 59.0h1M265.6 63.4h1M267.5 56.6h1M256.7 64.2h1M260.0 67.6h1M263.0 62.4h1M265.2 53.1h1M262.9 48.7h1M265.3 69.3h1M258.0 60.3h1M270.9 58.6h1M266.7 57.1h1M267.4 68.7h1M276.3 56.1h1M262.5 60.4h1M266.9 61.1h1M259.1 62.3h1M274.4 52.9h1M268.9 50.1h1M258.7 57.9h1M268.0 47.9h1M268.0 50.2h1M271.7 55.8h1M262.1 57.7h1M265.3 50.3h1M255.5 60.5h1M264.1 63.9h1M266.0 62.4h1M267.1 54.4h1M266.2 46.6h1M255.0 72.9h1M263.5 59.7h1M260.0 64.5h1M263.7 53.8h1M261.0 71.4h1M268.1 43.1h1M263.2 64.4h1M263.6 44.2h1M256.2 67.8h1M268.3 56.4h1M275.3 48.7h1M269.0 48.7h1M257.7 67.5h1M255.9 66.9h1M255.4 70.8h1M271.8 59.1h1M251.3 67.7h1M269.3 43.3h1M269.9 54.3h1M273.2 49.3h1M260.0 62.2h1M265.7 62.4h1M261.2 57.5h1M253.5 68.0h1M262.8 73.4h1M264.7 58.4h1M263.0 63.1h1M256.4 55.9h1M257.4 68.3h1M261.9 52.1h1M268.8 48.3h1M268.1 58.0h1M260.5 62.9h1M264.2 51.3h1M265.9 52.2h1M263.6 56.9h1M257.2 65.7h1M245.9 69.8h1M273.6 46.1h1M267.4 56.8h1M263.9 63.7h1M260.9 65.6h1M256.2 80.3h1M266.3 50.2h1M264.2 61.0h1M266.9 58.6h1M264.6 61.6h1M259.6 58.3h1M267.7 56.7h1M256.1 69.4h1M263.7 66.8h1M264.4 54.7h1M268.6 50.6h1M260.2 53.7h1M258.9 51.9h1M261.9 68.2h1M257.9 63.5h1M264.5 57.4h1M257.7 55.1h1M260.4 59.9h1M262.2 59.0h1M257.4 73.3h1M258.4 73.5h1M268.2 55.7h1M268.5 62.4h1M259.1 65.7h1M266.2 58.3h1M276.1 30.4h1M259.2 63.9h1M255.0 50.8h1M259.8 58.2h1M264.1 66.2h1M271.4 72.5h1M265.2 49.1h1M260.5 63.7h1M253.1 72.5h1M274.2 47.2h1M262.3 66.0h1M267.6 54.1h1M256.2 52.7h1M268.1 66.0h1M266.0 43.0h1M262.1 69.0h1M263.4 56.7h1M261.1 53.7h1M259.9 73.5h1M255.5 64.2h1M264.2 51.5h1M274.2 44.4h1M258.2 49.7h1M254.9 79.8h1M262.8 47.7h1M254.6 72.3h1M260.7 67.9h1M266.6 62.0h1M267.2 60.1h1M261.1 60.2h1M255.1 58.0h1M272.4 39.7h1M257.7 72.2h1M260.1 54.9h1M266.1 50.2h1M264.9 53.2h1M256.9 73.7h1M273.1 50.7h1M268.6 48.7h1M254.3 63.6h1M261.1 65.8h1M264.3 45.8h1M268.6 60.9h1M257.1 67.0h1M264.4 55.2h1M252.6 62.5h1M251.4 64.2h1M250.4 75.0h1M263.9 56.2h1M255.9 64.4h1M255.0 65.5h1M260.7 63.6h1M261.4 50.4h1M262.6 60.6h1M268.5 53.3h1M259.9 59.3h1M265.7 49.2h1M267.5 44.3h1M259.0 57.4h1M259.5 58.4h1M255.6 73.2h1M252.5 59.4h1M271.5 46.2h1M266.2 53.9h1M248.1 68.5h1M259.7 68.7h1M259.8 64.7h1M261.4 58.4h1M264.2 59.6h1M264.3 60.9h1M267.7 58.2h1M259.8 58.0h1M256.1 62.3h1M266.9 59.6h1M255.9 84.0h1M256.9 66.3h1M264.3 62.2h1M261.7 52.4h1M262.7 53.3h1M259.7 44.1h1M268.6 50.4h1M262.9 57.4h1M263.7 58.6h1M264.5 54.7h1M258.5 62.6h1M256.4 60.7h1M257.7 54.4h1M256.7 67.9h1M259.8 55.9h1M268.1 59.9h1M270.8 48.8h1M253.6 67.6h1M260.2 64.6h1M269.2 50.3h1M264.2 66.9h1M266.3 58.4h1M260.3 65.9h1M267.7 48.6h1M253.0 68.3h1M265.3 66.8h1M257.7 65.4h1M264.5 47.7h1M269.3 62.4h1M255.3 74.5h1M269.2 45.7h1M258.5 73.5h1M264.0 58.2h1M263.2 50.4h1M259.0 63.6h1M259.8 65.9h1M261.8 73.5h1M251.0 70.5h1M278.3 41.6h1M270.6 53.1h1M267.8 49.3h1M257.5 75.6h1M263.4 66.3h1M251.6 68.4h1M267.0 54.3h1M274.9 47.5h1M263.6 67.4h1M251.3 61.3h1M273.8 51.4h1M256.8 68.9h1M265.7 54.7h1M260.3 64.2h1M264.0 52.4h1M256.2 61.4h1M252.9 71.1h1M270.0 61.9h1M257.1 72.8h1M264.2 55.7h1M277.9 47.9h1M270.6 50.3h1M260.2 73.2h1M264.5 78.2h1M253.4 82.1h1M262.6 70.9h1M259.3 74.1h1M262.6 70.3h1M267.9 41.8h1M265.5 57.2h1M264.0 59.2h1M263.9 67.8h1M261.7 57.7h1M268.2 57.2h1M266.3 60.0h1M264.2 51.0h1M267.8 52.3h1M250.9 59.9h1M255.2 66.7h1M269.3 49.2h1M256.4 71.1h1M262.6 55.6h1M263.4 56.8h1M264.3 42.7h1M267.1 69.9h1M257.9 72.5h1M261.0 42.2h1M256.0 65.0h1M256.9 81.3h1M256.3 69.9h1M258.2 57.4h1M272.2 51.7h1M264.0 54.8h1M251.5 54.0h1M258.3 65.7h1M263.3 59.3h1M266.4 54.7h1M260.7 66.8h1M265.3 58.5h1M271.0 45.6h1M259.2 59.3h1M262.5 62.3h1M262.1 61.7h1M263.3 57.6h1M263.2 66.6h1M271.5 55.0h1M266.6 56.9h1M263.2 52.0h1M258.8 61.5h1M272.6 55.9h1M265.7 43.6h1M256.1 57.8h1M261.1 61.7h1M260.6 58.8h1M251.6 60.1h1M259.2 60.5h1M272.9 52.8h1M260.0 54.7h1M262.1 62.6h1M259.6 62.3h1M255.8 65.2h1M269.6 54.2h1M261.8 68.3h1M257.8 56.5h1M266.9 61.1h1M253.3 72.2h1M260.8 61.3h1M267.0 57.5h1M248.2 74.7h1M247.7 65.2h1M264.6 60.7h1M265.5 64.8h1M254.1 51.0h1M264.6 49.0h1M265.9 61.9h1M263.5 57.0h1M262.6 57.2h1M253.0 77.7h1M263.0 64.9h1M262.7 62.3h1M265.7 52.0h1M260.9 64.2h1M268.8 57.7h1M263.3 54.0h1M253.1 68.0h1M257.2 75.4h1M258.1 45.2h1M258.3 65.9h1M259.9 47.1h1M267.4 61.6h1M263.5 52.8h1M250.8 73.5h1M269.7 41.1h1M246.9 80.1h1M262.6 74.3h1M272.0 62.0h1M265.0 49.1h1M264.1 53.1h1M266.6 52.6h1M262.9 71.4h1M266.3 57.5h1M271.9 50.4h1M258.2 74.4h1M252.3 65.7h1M265.3 58.8h1M272.2 50.0h1M271.5 56.8h1M258.7 68.6h1M255.6 61.4h1M259.3 61.4h1M259.2 73.9h1M276.2 45.4h1M257.1 61.5h1M260.0 64.4h1M252.8 72.3h1M265.3 59.0h1M263.5 60.8h1M272.6 51.9h1M263.3 50.6h1M270.5 65.2h1M258.5 50.8h1M269.2 42.6h1M262.3 67.0h1M263.6 64.1h1M263.2 51.7h1M253.8 60.7h1M266.0 56.3h1M257.8 68.2h1M261.2 49.8h1M264.5 52.9h1M260.6 64.5h1M256.2 69.3h1M260.8 54.9h1M261.9 58.5h1M257.9 71.2h1M268.0 51.6h1M258.0 64.5h1M269.6 47.4h1M273.1 51.1h1M264.7 57.9h1M263.1 51.8h1M261.6 74.1h1M259.5 57.4h1M263.5 53.8h1M253.6 67.6h1M256.5 71.4h1M263.5 43.0h1M264.3 56.1h1M267.6 47.1h1M264.9 50.0h1M256.7 86.0h1M259.2 69.4h1M259.0 59.0h1M260.9 57.8h1M264.7 59.1h1M262.4 66.4h1M257.4 57.3h1M255.5 66.1h1M265.8 47.5h1M260.5 68.5h1M253.3 60.2h1M263.2 50.2h1M258.8 63.2h1M257.8 54.7h1M255.0 64.7h1M258.4 57.4h1M263.6 55.6h1M254.3 70.9h1M256.7 73.9h1M254.3 67.0h1M264.9 51.9h1M265.8 55.4h1M271.5 55.6h1M274.2 50.2h1M265.1 65.1h1M258.4 64.7h1M262.3 60.5h1M268.2 60.0h1M271.4 52.7h1M263.0 58.2h1M268.0 56.4h1M257.5 62.8h1M252.5 70.5h1M272.8 45.2h1M262.4 57.5h1M259.8 61.6h1M266.7 60.2h1M268.6 38.8h1M252.4 74.3h1M260.3 61.6h1M257.7 75.8h1M264.0 58.6h1M258.6 62.7h1M257.8 62.6h1M264.0 56.7h1M259.4 53.4h1M263.1 75.5h1M253.8 66.3h1M247.5 95.0h1M240.3 87.7h1M254.7 73.5h1M261.8 52.0h1M262.6 71.8h1M253.2 67.9h1M261.2 73.3h1M248.3 78.1h1M247.8 77.0h1M249.9 89.4h1M254.6 66.2h1M257.3 76.2h1M262.0 55.1h1M254.9 60.7h1M255.5 83.7h1M261.8 72.7h1M256.9 70.4h1M249.4 88.1h1M253.7 74.5h1M247.6 75.2h1M260.5 72.7h1M255.5 66.4h1M247.2 79.6h1M252.7 55.8h1M253.5 75.2h1M254.8 80.5h1M252.4 77.7h1M263.5 66.6h1M261.4 68.3h1M256.4 72.1h1M261.8 66.3h1M258.2 55.6h1M248.2 70.7h1M270.4 62.5h1M259.1 71.6h1M261.1 63.4h1M245.8 74.5h1M264.7 69.3h1M256.6 74.7h1M247.4 79.7h1M260.9 67.5h1M253.7 81.6h1M250.4 72.1h1M258.4 76.1h1M254.5 64.9h1M257.7 76.2h1M252.3 72.5h1M249.5 72.8h1M246.8 77.8h1M260.9 65.5h1M256.9 70.7h1M260.8 64.7h1M250.3 76.2h1M247.9 88.1h1M252.5 70.5h1M251.8 69.4h1M248.5 74.9h1M244.0 90.7h1M261.0 61.3h1M242.9 80.9h1M257.3 70.6h1M250.8 78.2h1M267.2 63.3h1M252.8 74.0h1M246.3 84.0h1M264.9 63.4h1M246.1 81.8h1M262.7 83.7h1M264.4 75.3h1M258.3 70.7h1M252.2 74.8h1M254.2 55.8h1M256.8 86.8h1M247.0 74.2h1M250.6 73.1h1M239.0 82.9h1M261.4 84.9h1M257.3 86.0h1M260.7 80.7h1M252.4 69.5h1M252.2 72.3h1M261.9 73.0h1M259.3 62.2h1M252.8 73.7h1M249.4 84.5h1M262.8 59.0h1M260.8 69.2h1M257.9 81.7h1M252.1 88.1h1M247.2 64.2h1M252.8 70.5h1M243.5 93.8h1M251.1 70.7h1M249.8 73.8h1M259.1 73.3h1M250.5 92.7h1M250.1 77.1h1M266.1 63.9h1M245.9 102.2h1M245.7 80.1h1M256.2 82.8h1M257.1 70.6h1M248.4 82.9h1M250.4 74.1h1M262.2 66.5h1M255.5 78.2h1M249.4 79.4h1M256.4 78.9h1M256.3 73.0h1M254.2 85.3h1M263.9 60.8h1M240.2 98.2h1M249.0 72.4h1M268.0 57.2h1M248.2 68.6h1M256.2 73.2h1M258.8 68.7h1M253.3 68.2h1M254.3 73.5h1M253.4 73.2h1M259.2 78.8h1M250.2 89.1h1M249.9 87.2h1M253.0 80.5h1M248.7 78.6h1M254.3 74.2h1M259.7 82.2h1M258.2 86.8h1M263.0 66.2h1M257.8 72.6h1M254.1 77.7h1M255.7 79.8h1M258.2 53.7h1M259.7 67.8h1M242.7 86.3h1M252.1 65.0h1M262.7 58.3h1M257.3 72.8h1M259.4 67.2h1M259.3 68.4h1M253.4 75.8h1M262.4 64.2h1M255.2 61.3h1M252.3 83.6h1M271.0 51.0h1M251.0 69.1h1M260.1 77.2h1M274.2 49.9h1M259.8 62.5h1M255.5 78.2h1M257.3 67.5h1M254.9 59.4h1M250.4 69.7h1M256.5 77.3h1M263.2 66.2h1M251.2 77.8h1M248.0 71.8h1M256.5 77.6h1M260.4 70.4h1M261.8 73.5h1M255.0 76.7h1M244.9 90.8h1M264.4 73.4h1M251.9 82.9h1M273.6 44.5h1M250.3 79.2h1M257.1 74.0h1M252.6 86.0h1M242.9 92.9h1M257.1 76.2h1M252.5 85.0h1M262.2 67.1h1M269.0 61.4h1M252.8 81.4h1M256.5 86.6h1M261.3 60.8h1M253.1 66.2h1M258.2 51.4h1M265.4 72.2h1M265.1 56.8h1M258.1 92.3h1M262.2 66.5h1M254.5 83.2h1M261.8 86.0h1M260.7 65.3h1M265.9 77.6h1M256.6 63.3h1M262.4 67.0h1M268.0 58.3h1M257.3 84.2h1M262.4 69.5h1M240.1 92.6h1M255.3 59.4h1M258.5 61.3h1M255.0 65.5h1M247.6 72.0h1M257.3 72.2h1M257.5 73.5h1M255.6 85.0h1M263.3 76.4h1M264.3 64.3h1M255.3 66.9h1M243.9 69.1h1M267.5 74.3h1M262.9 56.8h1M249.1 81.2h1M258.8 64.9h1M244.1 75.2h1M261.8 71.2h1M248.6 86.1h1M267.6 62.1h1M258.8 53.1h1M248.2 76.2h1M249.0 78.5h1M253.9 67.4h1M263.4 48.3h1M252.7 65.5h1M256.6 66.8h1M258.8 81.2h1M254.5 74.7h1M245.8 79.3h1M251.9 76.6h1M248.4 96.8h1M259.4 65.2h1M251.8 76.6h1M266.1 71.5h1M251.0 80.5h1M253.5 75.2h1M255.1 81.4h1M249.0 80.4h1M257.3 63.6h1M254.5 76.4h1M257.5 71.5h1M259.9 83.9h1M259.8 56.0h1M260.4 71.7h1M253.0 69.4h1M253.1 68.1h1M268.6 55.5h1M240.8 88.7h1M261.5 65.0h1M250.4 90.8h1M262.0 60.4h1M273.7 54.4h1M249.4 71.1h1M259.3 78.6h1M255.8 72.9h1M254.1 84.9h1M249.2 75.4h1M262.7 73.1h1M266.3 53.5h1M244.7 88.0h1M249.7 66.3h1M242.5 83.4h1M260.0 63.1h1M254.7 65.5h1M259.4 62.0h1M259.9 72.8h1M258.0 70.9h1M253.5 94.0h1M251.9 61.6h1M245.2 70.1h1M258.5 65.4h1M253.8 77.0h1M250.9 86.4h1M254.8 81.4h1M253.2 75.7h1M248.7 69.4h1M257.6 79.2h1M255.1 72.0h1M243.1 80.6h1M260.2 81.4h1M257.1 72.2h1M257.9 78.2h1M266.1 64.2h1M251.5 66.1h1M249.2 69.5h1M259.6 71.9h1M251.1 94.5h1M252.7 82.7h1M247.6 83.4h1M252.6 78.3h1M246.4 87.1h1M246.1 83.5h1M255.7 74.1h1M255.0 75.7h1M263.6 71.2h1M248.8 73.2h1M265.6 65.3h1M267.6 69.2h1M252.2 80.9h1M247.4 86.8h1M250.5 82.7h1M259.0 90.9h1M257.2 73.2h1M255.3 82.1h1M250.1 72.4h1M252.9 58.2h1M265.7 61.4h1M248.7 102.1h1M249.8 85.4h1M251.6 80.5h1M268.7 55.6h1M253.6 79.8h1M259.8 66.0h1M261.1 75.2h1M244.3 86.6h1M258.3 73.5h1M256.9 66.4h1M254.0 57.4h1M252.2 71.2h1M247.3 70.1h1M240.8 108.4h1M249.7 72.4h1M258.4 61.0h1M269.4 53.5h1M263.3 65.7h1M257.1 65.1h1M259.6 57.3h1M255.3 76.8h1M252.2 81.4h1M228.6 96.9h1M254.0 85.7h1M265.7 68.3h1M243.5 68.3h1M257.6 79.9h1M250.9 85.7h1M254.8 76.6h1M242.5 80.4h1M253.5 70.7h1M251.4 79.4h1M251.1 66.0h1M263.9 65.2h1M257.9 74.4h1M248.9 77.3h1M259.6 66.1h1M271.7 64.6h1M244.8 87.9h1M255.8 73.5h1M253.1 65.3h1M249.8 84.1h1M271.7 58.5h1M252.6 70.7h1M265.7 54.8h1M248.5 87.6h1M247.1 88.9h1M256.1 60.1h1M250.4 83.0h1M259.9 58.7h1M255.0 74.7h1M258.0 62.9h1M264.3 61.0h1M268.6 64.9h1M256.5 69.2h1M255.8 68.0h1M256.9 82.7h1M255.2 76.7h1M258.4 71.2h1M266.4 67.1h1M264.7 79.9h1M262.6 48.9h1M244.7 86.4h1M253.9 71.9h1M266.0 68.4h1M250.3 77.4h1M242.1 82.6h1M253.1 77.9h1M251.9 75.0h1M251.2 82.3h1M260.2 65.8h1M260.5 75.1h1M261.2 81.9h1M257.0 64.6h1M261.1 77.4h1M250.3 67.8h1M245.9 88.7h1M254.2 78.8h1M250.7 66.3h1M258.7 55.4h1M255.6 86.0h1M250.8 90.1h1M250.0 76.8h1M255.7 81.3h1M247.7 64.2h1M247.4 83.3h1M256.6 63.3h1M262.8 73.1h1M263.6 73.8h1M255.4 73.3h1M263.6 77.1h1M261.1 65.7h1M257.9 81.3h1M250.0 67.7h1M245.8 74.6h1M246.3 95.1h1M255.8 72.4h1M258.0 70.4h1M248.7 86.4h1M263.2 76.0h1M263.9 78.5h1M252.8 87.8h1M251.8 84.9h1M251.7 74.8h1M267.3 67.9h1M254.1 82.9h1M259.7 77.4h1M264.2 61.8h1M243.8 83.5h1M268.2 60.6h1M244.5 94.2h1M254.4 71.3h1M246.4 83.2h1M256.1 82.3h1M251.9 94.4h1M255.9 67.3h1M249.0 75.6h1M259.0 68.4h1M252.7 79.8h1M258.1 83.0h1M247.0 84.3h1M245.7 88.1h1M250.1 80.2h1M262.5 78.5h1M255.6 71.6h1M258.1 71.2h1M253.8 87.0h1M246.4 84.2h1M263.6 52.2h1M255.5 68.2h1M266.6 63.7h1M254.5 79.7h1M253.2 75.6h1M266.1 54.9h1M266.1 67.4h1M262.3 74.4h1M257.2 66.1h1M259.0 64.8h1M250.6 76.3h1M250.4 85.4h1M257.2 71.8h1M263.2 50.1h1M264.6 61.0h1M246.3 81.5h1M263.3 72.7h1M254.9 71.8h1M270.4 54.7h1M266.7 67.9h1M251.2 78.2h1M259.8 73.1h1M264.5 74.2h1M254.0 70.3h1M243.7 88.9h1M249.3 79.3h1M266.4 50.1h1M253.0 86.8h1M254.0 82.2h1M256.9 56.7h1M249.8 82.4h1M251.1 81.7h1M249.8 69.6h1M266.8 48.5h1M248.4 78.8h1M274.9 62.8h1M263.6 70.9h1M263.4 82.3h1M248.9 88.7h1M247.4 85.3h1M266.4 66.2h1M254.7 72.0h1M253.5 73.6h1M261.5 72.0h1M251.2 81.4h1M260.7 84.1h1M252.7 73.0h1M257.1 68.2h1M257.0 65.6h1M269.8 49.2h1M263.4 66.8h1M249.4 98.6h1M253.9 69.6h1M253.2 71.9h1M255.9 79.9h1M248.9 88.4h1M259.8 60.4h1M244.1 84.0h1M259.5 74.0h1M248.0 78.0h1M245.2 94.7h1M268.6 65.2h1M257.8 76.1h1M264.0 48.0h1M265.5 48.1h1M269.2 53.4h1M283.3 26.5h1M281.6 34.4h1M270.4 45.4h1M272.7 39.0h1M262.6 51.4h1M280.4 40.5h1M277.2 33.6h1M295.1 17.7h1M285.6 32.7h1M264.8 58.9h1M279.7 41.7h1M266.1 45.8h1M284.1 36.6h1M266.3 54.0h1M285.4 35.8h1M282.9 39.9h1M277.6 36.6h1M268.0 36.6h1M261.7 57.1h1M284.1 25.8h1M295.5 14.9h1M278.0 33.8h1M278.4 37.8h1M267.8 43.4h1M270.5 46.2h1M272.3 33.2h1M293.9 22.8h1M279.1 47.1h1M279.2 47.6h1M286.2 34.6h1M270.1 44.6h1M274.0 45.4h1M281.7 26.8h1M264.8 51.3h1M278.9 32.5h1M290.3 35.8h1M283.2 25.7h1M271.1 38.3h1M272.4 49.0h1M279.6 34.9h1M288.4 26.8h1M273.8 45.2h1M288.4 27.9h1M264.9 49.2h1M270.3 42.7h1M274.3 33.3h1M264.6 39.5h1M280.3 37.1h1M281.4 42.7h1M267.0 47.4h1M282.8 31.8h1M281.8 36.4h1M282.5 36.9h1M280.0 36.5h1M273.3 43.3h1M273.7 43.2h1M268.1 46.0h1M291.2 32.1h1M276.2 43.7h1M278.4 46.4h1M280.2 29.1h1M277.3 41.6h1M285.8 24.2h1M294.7 21.8h1M282.2 29.0h1M270.9 41.8h1M276.6 37.3h1M282.4 45.9h1M269.2 44.5h1M267.9 49.5h1M279.4 38.9h1M267.9 52.1h1M275.8 42.3h1M269.7 44.9h1M259.5 64.3h1M266.0 47.7h1M273.7 40.2h1M280.2 46.1h1M270.2 49.1h1M277.3 41.2h1M279.3 39.4h1M264.4 65.9h1M282.8 35.3h1M273.8 40.6h1M279.9 38.4h1M277.2 37.0h1M282.6 36.0h1M280.6 36.5h1M285.3 31.4h1M287.7 27.3h1M277.6 39.6h1M271.3 45.9h1M285.2 28.4h1M290.0 18.4h1M273.0 48.2h1M270.3 49.5h1M295.6 26.8h1M272.5 45.7h1M289.6 23.9h1M286.5 32.9h1M267.4 50.2h1M267.9 43.9h1M281.9 36.5h1M278.5 32.5h1M274.0 43.4h1M281.8 28.6h1M276.8 44.1h1M284.6 28.3h1M276.1 42.5h1M276.7 41.8h1M268.7 49.0h1M277.5 34.1h1M263.0 43.5h1M268.5 38.7h1M269.0 44.1h1M280.4 37.5h1M272.1 41.4h1M269.3 43.7h1M275.3 42.1h1M270.2 45.5h1M279.3 36.8h1M280.7 38.7h1M276.0 43.7h1M282.1 40.6h1M278.8 47.3h1M281.2 43.1h1M282.4 33.3h1M283.1 32.6h1M252.4 69.0h1M268.9 53.8h1M276.3 38.8h1M273.3 47.7h1M282.1 26.5h1M275.1 45.9h1M273.1 41.0h1M277.2 37.0h1M261.1 55.9h1M275.3 43.0h1M283.1 28.3h1M277.6 37.0h1M297.7 18.3h1M280.4 33.8h1M276.3 37.1h1M284.7 33.0h1M278.6 33.5h1M278.8 30.6h1M289.4 33.4h1M272.1 48.1h1M274.4 37.2h1M277.6 45.7h1M270.0 33.6h1M276.5 38.8h1M285.9 28.9h1M273.1 46.5h1M284.4 38.0h1M292.6 34.1h1M280.9 27.8h1M247.7 68.4h1M269.3 48.9h1M271.5 43.8h1M285.1 25.7h1M271.5 42.6h1M272.0 39.4h1M278.0 36.6h1M275.0 37.3h1M274.1 35.3h1M278.2 43.2h1M278.9 38.1h1M261.9 54.1h1M289.6 28.5h1M282.0 37.4h1M275.6 33.5h1M263.2 49.1h1M263.9 52.4h1M283.3 31.9h1M260.1 50.8h1M289.4 39.2h1M281.9 36.3h1M268.1 46.1h1M279.6 37.4h1M276.6 47.0h1M284.6 34.8h1M273.1 39.7h1M294.8 27.0h1M269.3 46.5h1M265.3 52.0h1M286.7 26.9h1M269.5 47.7h1M269.3 46.9h1M274.7 40.7h1M275.9 34.9h1M271.6 43.8h1M269.7 53.3h1M281.5 35.1h1M279.2 37.6h1M273.1 42.9h1M262.1 49.1h1M258.3 57.1h1M281.2 32.6h1M284.8 32.1h1M287.5 34.2h1M266.9 46.4h1M290.5 25.7h1M270.8 44.7h1M275.6 47.8h1M278.6 44.3h1M285.3 40.3h1M278.1 40.0h1M276.9 38.5h1M274.7 42.4h1M271.5 48.1h1M281.8 31.1h1M279.4 39.2h1M272.3 44.0h1M277.7 46.1h1M268.3 52.2h1M290.5 18.3h1" stroke="#868686" stroke-width="1" fill="none" filter="url(#bl)"/>
<path d="M217.3 4.699999999999999V121.9H335.7" stroke="#222" stroke-width="1.2" fill="none"/>
<path d="M217.30 121.9v3.6M217.3 121.90h-3.8M228.89 121.9v2.7M217.3 110.40h-2.9M235.67 121.9v2.7M217.3 103.67h-2.9M240.48 121.9v2.7M217.3 98.90h-2.9M244.21 121.9v2.7M217.3 95.20h-2.9M247.26 121.9v2.7M217.3 92.17h-2.9M249.84 121.9v2.7M217.3 89.62h-2.9M252.07 121.9v2.7M217.3 87.40h-2.9M254.04 121.9v2.7M217.3 85.45h-2.9M255.80 121.9v3.6M217.3 83.70h-3.8M267.69 121.9v2.7M217.3 71.87h-2.9M274.65 121.9v2.7M217.3 64.95h-2.9M279.58 121.9v2.7M217.3 60.04h-2.9M283.41 121.9v2.7M217.3 56.23h-2.9M286.54 121.9v2.7M217.3 53.12h-2.9M289.18 121.9v2.7M217.3 50.49h-2.9M291.47 121.9v2.7M217.3 48.21h-2.9M293.49 121.9v2.7M217.3 46.20h-2.9M295.30 121.9v3.6M217.3 44.40h-3.8M307.10 121.9v2.7M217.3 32.93h-2.9M314.00 121.9v2.7M217.3 26.22h-2.9M318.90 121.9v2.7M217.3 21.46h-2.9M322.70 121.9v2.7M217.3 17.77h-2.9M325.80 121.9v2.7M217.3 14.75h-2.9M328.43 121.9v2.7M217.3 12.20h-2.9M330.70 121.9v2.7M217.3 9.99h-2.9M332.71 121.9v2.7M217.3 8.04h-2.9M334.50 121.9v3.6M217.3 6.3h-3.8" stroke="#222" stroke-width="1" fill="none"/>
<rect x="222.0" y="10.1" width="84.6" height="62.2" fill="none" stroke="#222" stroke-width="1.15"/>
<rect x="222.0" y="74.3" width="60.6" height="43" fill="none" stroke="#222" stroke-width="1.15"/>
<text x="225.4" y="21.8" font-size="9.2" text-anchor="start" font-weight="normal" >P</text>
<text x="225.3" y="86.5" font-size="9.2" text-anchor="start" font-weight="normal" >M</text>
<text x="223.4" y="6.2" font-size="9.2" text-anchor="start" font-weight="normal" >Collagen</text>
<text x="180.4" y="8.1" font-size="11.3" text-anchor="start" font-weight="bold" >B</text>
<text x="210.0" y="135.4" font-size="9.2" text-anchor="start">10<tspan font-size="7.3" dy="-3.2" dx="0">0</tspan></text>
<text x="250.9" y="135.4" font-size="9.2" text-anchor="start">10<tspan font-size="7.3" dy="-3.2" dx="0">1</tspan></text>
<text x="289.9" y="135.4" font-size="9.2" text-anchor="start">10<tspan font-size="7.3" dy="-3.2" dx="0">2</tspan></text>
<text x="327.9" y="135.4" font-size="9.2" text-anchor="start">10<tspan font-size="7.3" dy="-3.2" dx="0">3</tspan></text>
<text x="210.60000000000002" y="126.5" font-size="9.2" text-anchor="end">10<tspan font-size="7.3" dy="-3.2" dx="0">0</tspan></text>
<text x="210.60000000000002" y="86.3" font-size="9.2" text-anchor="end">10<tspan font-size="7.3" dy="-3.2" dx="0">1</tspan></text>
<text x="210.60000000000002" y="48.4" font-size="9.2" text-anchor="end">10<tspan font-size="7.3" dy="-3.2" dx="0">2</tspan></text>
<text x="210.60000000000002" y="10.7" font-size="9.2" text-anchor="end">10<tspan font-size="7.3" dy="-3.2" dx="0">3</tspan></text>
<text x="247.70000000000002" y="145.4" font-size="9.2" text-anchor="start" font-weight="normal" >Side Scatter Log</text>
<text x="192.0" y="104" font-size="9.1" text-anchor="start" font-weight="normal" transform="rotate(-90 192.0 104)">Forward Scatter Log</text>
<path d="M486.2 57.8h1M444.6 57.9h1M458.8 87.1h1M412.4 102.9h1M441.1 80.0h1M435.9 76.7h1M451.1 84.7h1M435.1 85.7h1M446.6 78.0h1M428.8 72.6h1M429.5 103.6h1M461.6 61.7h1M464.5 65.2h1M488.6 63.6h1M423.6 46.9h1M439.4 82.7h1M449.5 99.3h1M406.3 84.4h1M473.5 72.2h1M423.2 88.5h1M417.4 84.7h1M448.2 85.7h1M476.9 57.9h1M455.2 77.9h1M428.9 92.5h1M447.6 103.2h1M468.5 79.4h1M444.5 79.8h1M423.2 76.5h1M436.4 72.7h1M444.3 46.3h1M475.8 38.8h1M428.3 99.6h1M435.9 86.5h1M449.6 108.7h1M438.4 100.1h1M425.4 88.4h1M460.8 52.0h1M448.7 83.7h1M422.2 106.0h1M471.6 82.3h1M440.8 82.6h1M412.9 99.2h1M431.4 80.2h1M442.4 92.7h1M413.2 68.1h1M436.1 62.8h1M406.9 110.2h1M446.0 85.4h1M467.4 63.9h1M460.3 61.3h1M466.4 59.2h1M462.2 53.8h1M466.3 45.2h1M414.2 78.4h1M451.3 50.9h1M413.9 104.6h1M431.8 80.9h1M415.3 108.2h1M470.4 66.1h1M453.4 35.8h1M446.7 83.7h1M460.7 28.5h1M437.0 89.6h1M446.6 70.9h1M439.2 62.0h1M426.8 91.5h1M450.6 65.1h1M483.4 49.0h1M431.8 96.0h1M464.0 64.0h1M449.1 85.0h1M463.8 32.2h1M456.4 70.3h1M443.1 47.4h1M481.6 94.1h1M450.5 71.9h1M416.3 90.9h1M474.0 57.8h1M412.1 85.0h1M444.8 65.5h1M459.7 69.4h1M427.3 83.9h1M424.1 44.0h1M465.1 55.5h1M443.1 73.0h1M433.9 93.7h1M440.0 103.6h1M437.2 86.8h1M415.4 57.8h1M419.6 79.1h1M447.3 63.4h1M426.1 72.9h1M427.6 57.7h1M453.2 59.3h1M412.8 67.0h1M431.3 69.1h1M483.8 41.5h1M446.7 44.5h1M443.6 119.3h1M449.8 83.1h1M454.0 64.5h1M476.6 66.8h1M450.2 75.2h1M442.2 90.4h1M438.7 93.5h1M433.8 37.7h1M446.3 64.5h1M437.2 84.2h1M431.1 64.8h1M440.7 84.6h1M451.4 55.5h1M430.6 82.6h1M440.5 51.3h1M474.2 77.9h1M448.2 60.4h1M430.0 87.1h1M480.8 67.6h1M424.6 74.9h1M461.6 78.6h1M418.5 70.2h1M410.5 96.5h1M444.1 65.1h1M450.6 70.6h1M436.7 67.5h1M467.7 91.1h1M433.7 84.8h1M438.3 93.4h1M440.6 75.4h1M481.2 47.4h1M455.5 57.0h1M444.2 92.3h1M439.9 48.0h1M417.3 58.7h1M439.7 84.9h1M461.9 63.0h1M434.1 80.8h1M405.2 87.8h1M413.4 69.6h1M458.5 87.1h1M453.9 80.4h1M478.1 68.2h1M443.0 98.0h1M474.0 82.0h1M450.7 65.6h1M453.7 90.1h1M448.0 47.3h1M447.0 58.8h1M433.8 80.1h1M433.9 63.4h1M483.2 111.6h1M444.1 99.1h1M419.3 42.6h1M499.1 52.5h1M404.9 25.7h1M497.1 14.1h1M433.9 79.5h1M443.4 50.8h1M506.8 69.8h1M449.3 63.4h1M479.0 76.0h1M446.7 12.5h1M499.9 50.4h1M479.4 102.9h1M454.0 42.4h1M412.3 13.8h1M441.5 21.3h1M455.0 57.7h1M433.0 116.5h1M459.7 30.9h1M425.3 17.4h1M455.4 38.5h1M459.0 71.9h1M474.5 77.2h1M482.1 37.4h1M480.5 106.5h1M447.9 33.1h1M451.3 64.2h1M495.7 110.6h1M441.4 29.0h1M481.4 76.0h1M508.5 106.7h1M501.1 99.5h1M461.3 25.1h1M435.2 99.6h1M469.1 33.1h1M475.7 31.0h1M458.9 108.8h1M439.1 71.2h1M451.3 32.8h1M412.0 65.1h1M433.8 24.4h1M418.6 77.3h1M473.8 49.9h1M504.8 95.2h1M419.8 26.9h1M406.4 27.2h1M481.7 56.8h1" stroke="#a4a4a4" stroke-width="1" fill="none" filter="url(#bl)"/>
<path d="M437.6 72.9h1M433.1 72.2h1M440.5 73.1h1M447.7 60.0h1M430.6 78.6h1M448.7 63.1h1M430.5 69.5h1M436.7 72.4h1M437.1 61.1h1M446.2 57.0h1M437.5 65.2h1M442.3 66.9h1M443.7 61.3h1M442.3 63.7h1M423.0 84.4h1M435.6 60.8h1M445.4 60.7h1M451.5 50.3h1M456.8 40.4h1M445.2 51.8h1M443.9 59.7h1M437.2 70.0h1M445.5 60.7h1M448.7 52.9h1M451.5 47.8h1M438.7 70.0h1M445.7 58.7h1M446.6 50.7h1M456.6 42.9h1M446.6 59.1h1M436.8 63.4h1M435.7 64.8h1M438.5 62.0h1M436.2 64.6h1M450.3 53.4h1M450.2 49.7h1M447.3 52.6h1M451.3 48.7h1M445.2 68.6h1M445.8 56.6h1M439.1 62.8h1M441.8 58.5h1M452.9 49.5h1M442.7 60.3h1M435.0 81.8h1M445.8 66.1h1M447.0 73.9h1M432.7 74.7h1M432.2 63.5h1M444.5 47.0h1M458.8 47.2h1M437.4 63.1h1M446.4 47.8h1M452.5 49.9h1M440.7 75.7h1M438.3 57.0h1M443.8 61.4h1M445.5 59.5h1M426.2 70.8h1M439.0 62.2h1M448.1 48.2h1M447.2 44.5h1M456.8 43.5h1M443.5 65.6h1M454.1 40.9h1M447.8 53.9h1M430.8 70.9h1M447.2 52.0h1M442.7 65.2h1M446.6 55.2h1M443.2 61.8h1M452.4 49.4h1M444.9 57.8h1M439.7 61.8h1M449.3 50.6h1M448.7 60.7h1M437.9 62.3h1M456.7 51.6h1M433.0 58.4h1M440.6 67.8h1M439.1 65.2h1M428.1 70.4h1M439.4 65.6h1M460.4 45.8h1M440.7 71.9h1M442.0 59.2h1M433.5 69.3h1M435.8 63.7h1M453.1 45.2h1M450.9 52.8h1M436.9 64.5h1M438.4 56.5h1M439.3 69.6h1M426.2 58.6h1M437.5 69.5h1M432.4 65.3h1M439.3 52.4h1M444.4 52.3h1M445.5 54.7h1M439.4 59.8h1M428.9 69.4h1M450.6 67.0h1M434.7 67.5h1M450.5 52.8h1M449.1 56.5h1M447.9 52.8h1M439.8 62.8h1M428.3 75.7h1M451.7 52.6h1M448.3 45.9h1M438.6 78.9h1M446.9 61.1h1M455.4 51.9h1M434.8 69.8h1M457.4 44.9h1M438.7 62.0h1M437.6 72.0h1M449.0 44.2h1M442.8 55.6h1M439.8 67.4h1M454.7 56.0h1M432.5 81.2h1M461.1 47.0h1M433.2 64.7h1M442.7 55.6h1M444.0 66.9h1M440.3 51.5h1M450.4 52.6h1M444.0 73.2h1M445.3 50.2h1M436.8 59.7h1M437.9 66.5h1M444.2 64.4h1M431.9 66.5h1M438.8 68.7h1M450.0 51.3h1M440.4 60.4h1M450.4 48.8h1M447.6 57.2h1M438.8 72.2h1M427.0 75.9h1M444.9 71.9h1M443.9 56.9h1M442.2 59.4h1M435.3 66.6h1M451.5 51.6h1M429.7 75.8h1M431.4 69.9h1M447.2 61.5h1M458.8 39.7h1M444.8 55.3h1M439.6 72.5h1M450.3 56.9h1M443.0 49.9h1M446.6 48.9h1M442.3 65.7h1M434.9 65.8h1M442.6 58.0h1M441.6 52.8h1M451.1 42.6h1M465.8 46.6h1M438.6 67.6h1M434.9 61.6h1M437.4 56.7h1M443.1 63.9h1M450.4 58.6h1M445.7 55.0h1M446.9 59.3h1M452.8 47.7h1M445.5 64.4h1M433.0 68.0h1M429.9 73.2h1M434.0 68.5h1M438.8 72.5h1M434.5 81.7h1M451.8 57.0h1M442.8 57.2h1M445.5 68.4h1M434.4 66.8h1M426.1 70.5h1M438.2 70.2h1M457.0 43.4h1M424.0 78.3h1M441.2 56.6h1M450.3 54.7h1M444.5 59.3h1M440.3 62.8h1M449.4 53.6h1M433.1 69.0h1M446.0 54.1h1M449.3 43.7h1M440.7 73.9h1M433.3 64.8h1M441.4 56.9h1M450.6 51.2h1M451.4 46.6h1M444.9 51.4h1M437.1 65.6h1M435.6 71.0h1M443.9 57.2h1M448.0 58.1h1M439.0 73.5h1M446.1 61.7h1M447.8 58.9h1M450.0 49.9h1M433.3 67.4h1M446.3 54.3h1M430.0 67.4h1M440.1 64.3h1M444.4 62.4h1M456.3 47.7h1M469.9 31.9h1M445.7 58.5h1M442.3 52.2h1M454.9 54.3h1M431.4 71.4h1M448.6 53.0h1M431.3 69.6h1M456.3 46.1h1M451.2 44.9h1M448.1 56.6h1M435.0 66.0h1M461.1 49.3h1M443.2 56.4h1M441.4 57.2h1M452.1 58.5h1M427.9 73.9h1M449.5 58.8h1M447.0 48.4h1M445.3 56.9h1M441.8 57.0h1M434.7 68.0h1M451.2 56.9h1M439.5 54.4h1M439.1 56.9h1M441.9 67.7h1M447.3 50.6h1M450.5 47.3h1M447.7 58.0h1M452.6 54.1h1M448.5 44.5h1M455.6 46.2h1M441.6 55.7h1M435.3 57.3h1M438.2 62.6h1M445.6 62.0h1M443.7 52.4h1M453.9 54.5h1M442.5 66.1h1M434.7 51.5h1M438.0 71.1h1M450.9 47.3h1M443.2 66.1h1M445.7 56.9h1M436.9 66.1h1M448.8 69.1h1M439.8 67.9h1M453.1 42.5h1M442.7 54.5h1M440.5 60.7h1M438.8 71.0h1M437.1 64.7h1M448.4 55.9h1M457.3 46.3h1M432.4 73.2h1M429.1 63.0h1M444.3 63.8h1M435.0 63.3h1M430.0 74.8h1M447.5 63.4h1M451.1 55.2h1M431.9 75.0h1M445.8 59.1h1M449.0 50.4h1M453.0 53.3h1M442.9 66.3h1M456.5 36.4h1M446.9 54.9h1M439.5 69.6h1M450.0 50.8h1M429.0 66.0h1M451.1 53.1h1M438.2 75.3h1M445.7 50.4h1M432.5 60.6h1M447.1 46.4h1M452.3 56.3h1M452.5 60.8h1M439.3 56.4h1M451.3 50.3h1M428.3 75.5h1M446.6 56.4h1M440.6 52.1h1M446.7 54.6h1M449.9 53.1h1M469.4 25.9h1M447.5 61.8h1M448.2 52.2h1M444.3 58.8h1M461.0 50.6h1M431.8 81.6h1M459.2 47.3h1M442.8 70.2h1M425.5 80.2h1M431.6 67.4h1M440.7 60.9h1M449.0 61.9h1M448.2 64.8h1M446.5 50.6h1M443.7 61.2h1M442.8 60.9h1M431.5 83.2h1M452.9 60.5h1M443.5 45.4h1M441.8 65.5h1M430.0 78.0h1M436.8 75.3h1M450.5 41.0h1M439.7 66.6h1M438.7 66.7h1M436.9 67.7h1M448.0 53.9h1M434.3 62.2h1M442.4 72.6h1M430.2 72.6h1M444.2 62.7h1M451.6 51.9h1M443.9 63.0h1M448.2 51.0h1M448.3 61.7h1M445.8 60.1h1M442.6 57.2h1M445.1 61.3h1M452.1 51.8h1M445.5 54.8h1M438.6 65.4h1M445.1 59.8h1M442.4 60.8h1M449.4 57.8h1M441.8 56.5h1M449.5 59.0h1M437.3 77.8h1M444.6 55.7h1M456.8 51.2h1M436.2 75.1h1M455.5 45.9h1M443.1 55.8h1M443.1 63.3h1M431.4 78.1h1M452.4 51.2h1M434.9 68.3h1M441.0 66.2h1M446.4 54.6h1M431.5 66.5h1M436.7 70.0h1M435.9 71.9h1M445.3 63.6h1M449.8 56.6h1M450.0 59.5h1M449.6 59.2h1M442.5 64.9h1M443.2 58.2h1M436.7 65.5h1M459.1 42.8h1M443.6 57.7h1M433.0 81.6h1M429.1 65.2h1M447.2 39.6h1M433.6 73.3h1M438.4 63.1h1M445.8 56.3h1M432.8 68.6h1M453.0 51.9h1M460.2 48.4h1M434.7 66.0h1M454.8 52.4h1M435.6 67.7h1M438.8 71.8h1M447.4 59.9h1M441.9 55.7h1M433.9 61.9h1M449.8 52.8h1M433.8 75.0h1M436.0 67.5h1M437.0 71.6h1M454.1 57.4h1M449.1 52.9h1M455.0 59.5h1M432.5 71.3h1M445.7 60.3h1M446.0 55.6h1M436.0 78.9h1M439.5 69.7h1M446.2 52.9h1M444.1 50.5h1M442.5 55.9h1M446.0 54.3h1M449.0 60.0h1M442.5 57.5h1M442.0 61.0h1M437.8 69.2h1M437.4 59.4h1M442.7 65.9h1M454.7 34.8h1M447.1 59.4h1M445.2 62.0h1M441.8 62.7h1M446.5 64.6h1M442.7 64.0h1M446.9 55.0h1M448.3 64.7h1M451.7 54.8h1M442.5 70.1h1M447.1 58.1h1M446.1 49.4h1M436.2 72.1h1M445.0 59.2h1M444.3 57.5h1M444.2 66.1h1M439.0 64.3h1M431.4 78.8h1M453.6 51.2h1M441.7 73.1h1M436.1 73.4h1M444.8 51.7h1M426.3 74.4h1M451.2 52.1h1M446.2 56.1h1M448.9 55.8h1M445.4 64.5h1M439.9 76.0h1M424.4 73.7h1M456.9 49.1h1M439.1 64.2h1M434.6 61.3h1M455.9 46.5h1M439.1 66.5h1M440.6 61.8h1M442.5 63.3h1M441.4 60.9h1M436.6 70.7h1M435.5 62.7h1M451.0 47.1h1M452.4 56.0h1M425.8 90.9h1M430.9 80.0h1M447.4 58.6h1M444.6 63.0h1M437.5 61.4h1M452.9 52.2h1M431.5 77.9h1M451.4 48.7h1M450.2 63.8h1M445.7 54.0h1M443.1 56.4h1M444.9 48.9h1M444.3 64.9h1M440.5 66.3h1M448.1 52.4h1M445.5 59.4h1M438.4 75.3h1M450.1 45.4h1M452.7 49.6h1M452.4 45.9h1M446.9 62.0h1M442.6 54.6h1M441.3 64.5h1M438.1 70.9h1M441.0 57.6h1M440.9 55.8h1M441.1 68.5h1M453.3 40.8h1M426.4 71.2h1M436.2 67.1h1M442.5 69.8h1M450.6 46.7h1M437.8 59.9h1M443.8 65.6h1M431.4 64.3h1M438.0 67.7h1M433.8 72.5h1M447.0 48.0h1M446.8 53.9h1M446.3 47.9h1M438.2 66.3h1M460.1 36.1h1M435.7 69.2h1M427.4 78.6h1M439.0 61.4h1M442.5 57.7h1M449.4 53.8h1M432.7 67.3h1M447.5 54.8h1M451.7 41.4h1M434.8 66.5h1M437.8 67.2h1M432.9 77.7h1M444.6 57.8h1M444.9 48.8h1M448.0 52.5h1M446.0 50.0h1M453.6 47.1h1M444.9 59.7h1M452.1 52.9h1M442.1 73.6h1M436.2 66.7h1M444.6 57.8h1M437.2 67.8h1M444.7 52.9h1M456.1 49.7h1M440.6 52.3h1M442.2 70.5h1M436.7 66.5h1M456.6 50.3h1M438.0 68.2h1M440.0 56.5h1M445.7 66.1h1M442.8 59.2h1M450.7 49.7h1M438.5 64.7h1M432.0 72.6h1M451.1 44.7h1M443.1 56.9h1M447.1 52.5h1M440.1 58.2h1M446.6 51.3h1M452.6 48.7h1M456.8 50.4h1M438.5 60.8h1M441.5 64.2h1M440.8 52.5h1M446.3 59.6h1M450.9 57.8h1M434.3 64.0h1M428.5 83.5h1M451.0 59.6h1M445.1 50.0h1M452.2 57.7h1M451.0 41.6h1M452.2 54.5h1M438.9 62.8h1M449.5 50.5h1M448.1 65.3h1M452.2 48.5h1M446.1 59.0h1M445.9 55.6h1M443.0 56.7h1M438.5 55.8h1M432.9 74.6h1M443.8 59.9h1M420.1 76.1h1M444.4 53.8h1M447.9 49.1h1M462.8 44.8h1M450.1 60.1h1M439.5 68.1h1M432.1 75.4h1M455.7 41.0h1M424.4 66.8h1M453.5 54.9h1M427.7 82.6h1M440.7 59.1h1M447.2 53.2h1M441.9 54.4h1M443.6 61.2h1M439.8 70.0h1M430.0 63.5h1M449.0 49.7h1M449.9 59.0h1M442.9 62.5h1M444.8 58.4h1M440.9 72.4h1M448.1 48.8h1M451.8 48.1h1M438.5 68.3h1M445.9 60.8h1M445.6 46.5h1M438.7 66.3h1M460.3 43.2h1M460.5 51.1h1M444.4 65.4h1M448.1 49.4h1M450.6 41.3h1M437.7 74.6h1M454.0 59.4h1M442.0 61.5h1M441.7 62.3h1M445.6 51.5h1M441.9 66.4h1M432.6 73.0h1M438.5 77.9h1M446.8 63.4h1M449.4 55.7h1M444.3 61.5h1M440.4 60.4h1M439.1 57.6h1M457.0 51.7h1M441.8 51.2h1M440.0 69.0h1M442.3 63.9h1M448.4 46.3h1M446.4 71.4h1M444.8 67.4h1M445.5 62.5h1M435.1 69.9h1M446.3 49.2h1M424.0 77.9h1M456.5 48.9h1M437.6 62.4h1M435.2 72.9h1M440.5 54.0h1M431.5 76.8h1M443.7 52.6h1M451.9 55.5h1M436.5 63.7h1M444.5 67.1h1M449.7 51.1h1M443.2 70.3h1M443.7 60.3h1M448.1 58.9h1M457.5 48.1h1M438.7 64.3h1M440.9 58.0h1M451.0 49.4h1M423.7 83.2h1M438.8 60.9h1M425.6 75.0h1M426.7 74.8h1M456.1 41.1h1M438.4 53.4h1M455.5 47.6h1M438.8 60.5h1M450.6 57.9h1M432.5 58.4h1M439.8 65.8h1M442.0 60.5h1M439.7 55.6h1M454.8 46.4h1M444.2 64.0h1M451.6 61.1h1M442.0 63.2h1M437.7 53.9h1M433.0 72.0h1M445.6 45.8h1M436.7 63.0h1M444.8 60.9h1M445.9 65.6h1M450.9 51.5h1M445.0 53.8h1M443.9 60.6h1M443.8 58.2h1M443.8 55.6h1M449.7 54.1h1M451.3 59.0h1M453.5 49.1h1M453.2 43.8h1M450.2 56.5h1M436.8 75.1h1M459.0 46.4h1M459.6 40.9h1M440.9 63.9h1M440.3 64.2h1M432.2 82.5h1M448.8 53.0h1M437.8 71.2h1M459.5 45.6h1M431.0 87.7h1M447.2 62.3h1M450.0 55.5h1M439.8 63.7h1M436.1 66.7h1M444.9 57.9h1M438.6 64.6h1M444.2 66.2h1M440.4 58.7h1M436.6 63.5h1M439.4 60.7h1M450.5 54.2h1M440.6 64.1h1M445.9 59.9h1M441.8 70.5h1M450.9 52.6h1M438.6 76.0h1M455.7 55.7h1M419.7 86.9h1M434.8 67.4h1M429.1 73.0h1M451.9 51.9h1M445.0 57.7h1M432.0 71.2h1M440.1 66.5h1M459.3 52.8h1M435.7 55.4h1M443.3 52.1h1M428.3 71.3h1M431.8 74.1h1M449.7 57.0h1M459.6 38.9h1M438.1 64.7h1M451.5 58.2h1M437.5 70.3h1M450.3 47.4h1M434.9 61.0h1M437.8 63.0h1M430.4 79.0h1M443.8 67.4h1M437.9 53.8h1M452.5 47.3h1M431.9 69.5h1M449.8 51.2h1M444.4 66.9h1M433.9 57.9h1M433.8 67.6h1M426.7 73.3h1M436.3 73.7h1M454.7 45.5h1M429.9 68.3h1M440.6 65.4h1M453.0 52.0h1M430.8 82.9h1M450.1 59.7h1M436.3 63.4h1M444.2 59.0h1M454.5 56.9h1M436.8 58.4h1M437.2 59.4h1M444.3 51.1h1M453.0 59.2h1M437.0 67.1h1M437.2 59.2h1M436.0 75.6h1M454.5 50.6h1M434.5 72.5h1M450.3 63.8h1M454.7 43.9h1M445.4 50.7h1M438.4 61.7h1M432.7 63.7h1M437.8 66.2h1M449.5 52.1h1M445.8 57.8h1M444.8 62.3h1M465.1 39.1h1M439.0 70.0h1M439.4 65.2h1M441.7 65.2h1M444.0 58.2h1M444.8 57.4h1M438.8 61.4h1M449.8 54.8h1M453.2 60.4h1M443.6 65.6h1M419.3 78.6h1M446.2 51.3h1M437.0 70.3h1M438.5 67.1h1M441.9 62.2h1M435.0 73.3h1M436.1 67.7h1M440.9 58.5h1M436.2 61.1h1M445.9 58.8h1M437.0 69.6h1M441.7 63.9h1M434.5 70.7h1M437.0 61.0h1M446.8 60.1h1M433.7 57.9h1M430.3 72.9h1M437.5 60.0h1M446.2 61.8h1M451.8 51.3h1M443.7 62.6h1M439.2 64.6h1M440.2 76.7h1M455.3 41.3h1M440.7 73.8h1M433.0 70.5h1M438.1 59.8h1M429.4 78.0h1M450.7 51.3h1M444.2 59.6h1M446.6 56.8h1M434.4 69.3h1M435.8 63.3h1M446.6 51.2h1M444.2 48.7h1M462.7 34.5h1M451.9 51.7h1M430.1 79.4h1M446.8 62.8h1M440.9 64.9h1M452.1 51.9h1M436.1 57.1h1M444.3 54.7h1M434.4 59.1h1M452.7 59.5h1M452.1 46.2h1M434.7 63.7h1M426.6 78.6h1M436.2 71.2h1M453.2 45.5h1M443.6 58.1h1M439.8 62.9h1M434.5 68.7h1M447.0 48.4h1M443.7 57.2h1M440.6 60.7h1M438.3 65.4h1M439.7 60.7h1M442.2 65.1h1M444.7 53.6h1M452.6 49.3h1M425.5 76.5h1M433.5 75.2h1M441.7 61.4h1M443.4 60.0h1M434.1 77.2h1M434.4 63.6h1M438.1 63.2h1M438.9 64.4h1M435.0 61.7h1M442.6 61.9h1M448.7 52.2h1M444.2 50.8h1M439.0 48.9h1M444.0 57.6h1M432.0 63.1h1M438.1 64.4h1M449.7 55.8h1M441.5 58.0h1M444.2 49.9h1M443.5 57.4h1M441.2 58.6h1M448.8 58.8h1M438.0 80.1h1M440.3 61.2h1M442.4 69.3h1M448.7 52.7h1M439.5 68.3h1M443.7 58.0h1M436.6 62.5h1M451.2 60.2h1M448.2 54.3h1M441.5 63.0h1M439.1 56.5h1M443.6 58.9h1M450.7 55.5h1M442.0 65.2h1M437.3 56.0h1M442.2 66.8h1M435.4 69.6h1M443.0 58.5h1M449.2 59.6h1M439.1 70.3h1M460.1 50.9h1M439.8 70.0h1M445.9 52.3h1M444.5 56.8h1M435.9 81.2h1M437.8 57.6h1M435.1 78.7h1M444.6 64.1h1M442.4 50.7h1M454.5 42.6h1M448.4 53.7h1M426.8 71.4h1M440.1 64.3h1M452.3 46.0h1M445.5 60.5h1M455.7 44.7h1M437.3 67.8h1M434.9 63.4h1M434.5 74.9h1M440.2 64.9h1M458.3 54.4h1M440.9 73.6h1M446.4 51.4h1M447.0 57.6h1M449.3 54.4h1M438.7 61.8h1M443.6 61.5h1M457.7 40.9h1M434.2 73.2h1M454.2 58.7h1M451.7 45.3h1M441.2 53.1h1M450.9 42.7h1M421.0 88.2h1M439.4 63.2h1M432.8 70.9h1M434.7 61.2h1M438.0 59.1h1M447.0 57.4h1M436.6 69.3h1M449.4 53.4h1M432.8 77.1h1M451.4 53.6h1M441.0 63.8h1M436.9 83.4h1M428.5 76.8h1M430.8 79.0h1M438.9 73.4h1M443.9 60.7h1M454.4 50.8h1M444.4 51.1h1M436.1 76.4h1M425.6 82.6h1M439.1 63.4h1M434.5 76.7h1M444.9 66.0h1M436.2 66.9h1M462.3 38.7h1M432.7 79.8h1M449.1 62.0h1M454.0 42.8h1M434.7 61.8h1M438.2 70.1h1M452.9 44.7h1M423.7 78.7h1M426.8 75.2h1M435.0 74.4h1M443.5 56.6h1M445.7 52.7h1M433.4 56.7h1M457.4 40.8h1M437.4 60.9h1M439.6 59.5h1M437.9 62.7h1M454.1 52.3h1M441.3 60.5h1M434.7 61.4h1M455.6 46.4h1M450.9 48.6h1M451.9 53.6h1M432.1 72.3h1M433.3 70.3h1M438.3 61.7h1M441.5 64.4h1M440.4 66.0h1M442.4 64.4h1M446.2 54.2h1M434.3 69.9h1M437.3 53.3h1M441.4 66.0h1M436.7 63.7h1M442.0 64.7h1M449.3 55.0h1M441.2 55.6h1M435.4 67.1h1M443.3 56.3h1M447.6 62.5h1M437.7 50.6h1M434.4 58.1h1M452.1 52.9h1M449.5 60.1h1M436.4 72.8h1M432.6 71.8h1M435.2 75.7h1M444.8 56.0h1M439.6 68.3h1M431.9 57.1h1M443.0 61.5h1M453.2 49.9h1M452.8 35.4h1M441.0 60.5h1M457.4 41.7h1M447.0 55.2h1M450.0 47.6h1M442.1 63.8h1M433.5 71.5h1M448.1 56.9h1M456.4 51.2h1M432.5 75.5h1M442.0 60.3h1M439.7 54.4h1M446.6 54.0h1M436.0 71.1h1M438.4 65.1h1M447.9 50.1h1M462.9 48.6h1M444.9 60.2h1M456.6 56.0h1M449.4 62.6h1M448.3 57.8h1M440.5 64.0h1M441.1 62.2h1M438.3 65.2h1M439.7 56.1h1M449.7 48.8h1M443.1 57.4h1M448.7 54.7h1M432.4 61.5h1M444.2 50.4h1M421.9 90.7h1M434.2 74.8h1M438.1 61.4h1M426.7 74.8h1M448.0 55.6h1M441.0 55.6h1M425.3 93.4h1M427.3 81.7h1M444.0 78.4h1M423.6 84.4h1M436.8 84.6h1M420.2 74.4h1M423.6 80.2h1M416.2 95.6h1M431.7 86.9h1M430.7 79.7h1M430.8 79.4h1M437.5 76.9h1M438.4 75.2h1M423.8 81.4h1M428.4 83.0h1M432.9 61.3h1M430.9 70.3h1M430.6 81.4h1M426.4 81.4h1M436.2 71.8h1M442.0 75.9h1M427.5 80.5h1M436.4 79.8h1M424.8 76.8h1M425.9 78.6h1M451.9 72.4h1M422.0 91.8h1M439.3 77.9h1M417.1 85.4h1M426.5 87.6h1M434.3 73.1h1M419.7 90.7h1M428.4 92.2h1M422.6 90.6h1M421.3 82.7h1M434.6 80.6h1M435.1 69.5h1M427.1 87.6h1M426.8 66.8h1M414.7 86.0h1M443.6 63.0h1M428.2 86.0h1M425.0 84.2h1M432.1 79.6h1M431.1 81.3h1M431.2 84.9h1M412.5 91.1h1M426.0 67.7h1M432.1 74.0h1M433.9 90.0h1M428.2 95.9h1M429.4 78.1h1M440.8 75.1h1M421.3 98.4h1M422.4 91.2h1M432.1 82.6h1M419.8 85.4h1M433.0 88.9h1M428.7 82.6h1M439.5 78.9h1M433.9 74.8h1M443.7 79.1h1M437.5 75.7h1M421.5 84.2h1M417.9 104.5h1M430.7 78.6h1M434.8 79.8h1M431.9 77.7h1M427.1 88.9h1M439.6 63.8h1M423.8 99.4h1M435.7 75.7h1M430.8 74.5h1M438.6 76.2h1M435.5 67.7h1M429.3 75.1h1M430.9 78.4h1M436.4 90.5h1M427.6 70.2h1M437.2 82.3h1M434.7 75.0h1M420.9 90.4h1M413.6 90.1h1M429.8 81.2h1M436.6 80.0h1M417.6 93.0h1M416.8 85.8h1M431.5 87.7h1M428.9 77.5h1M431.7 79.1h1M435.1 72.7h1M429.7 84.0h1M430.8 77.0h1M435.2 68.9h1M418.1 76.8h1M451.7 67.7h1M420.6 79.9h1M430.0 80.3h1M422.1 100.7h1M435.1 86.8h1M420.7 82.1h1M432.5 92.0h1M423.9 73.5h1M428.5 95.1h1M429.4 78.5h1M421.2 101.3h1M432.3 90.0h1M440.8 71.8h1M422.5 74.7h1M432.7 75.9h1M422.9 88.5h1M417.6 89.9h1M433.3 66.0h1M439.8 75.6h1M433.0 72.8h1M429.3 81.4h1M438.5 72.6h1M435.8 91.5h1M429.9 72.7h1M430.5 73.6h1M426.1 90.7h1M423.5 58.3h1M435.4 84.2h1M435.7 75.3h1M419.2 93.5h1M425.4 94.0h1M427.2 85.4h1M426.6 72.6h1M441.3 74.8h1M440.4 84.5h1M431.5 84.6h1M437.3 79.6h1M430.5 85.2h1M433.7 82.4h1M432.6 78.5h1M416.2 80.7h1M432.3 78.2h1M412.2 87.8h1M425.3 89.1h1M436.4 77.9h1M434.2 93.3h1M432.2 77.1h1M429.3 78.4h1M418.0 75.6h1M447.0 74.2h1M436.0 80.0h1M428.0 88.1h1M427.9 87.0h1M431.2 81.2h1M424.4 97.1h1M437.8 72.4h1M433.8 85.6h1M423.7 99.6h1M423.1 89.7h1M434.0 66.2h1M434.3 82.2h1M451.5 68.9h1M432.5 83.6h1M433.0 78.1h1M442.7 65.4h1M438.5 59.9h1M428.7 93.1h1M436.8 75.3h1M426.3 93.0h1M420.3 81.0h1M418.0 95.9h1M434.9 78.0h1M427.3 93.2h1M421.7 86.2h1M447.9 69.6h1M430.9 71.0h1M424.8 80.4h1M416.4 95.5h1M431.3 78.8h1M415.7 101.4h1M421.1 87.4h1M435.0 76.9h1M431.0 72.1h1M437.0 85.2h1M429.6 71.0h1M431.6 80.7h1M420.2 85.1h1M428.6 80.7h1M443.1 68.6h1M430.2 82.8h1M434.5 81.3h1M430.1 74.8h1M427.2 98.0h1M429.5 95.0h1M416.5 92.6h1M430.7 77.8h1M431.7 88.0h1M419.9 90.8h1M427.5 96.6h1M434.2 75.5h1M440.8 78.9h1M429.6 76.3h1M430.4 82.0h1M432.0 77.0h1M438.8 88.2h1M436.9 82.5h1M433.7 90.2h1M425.6 92.3h1M425.4 88.7h1M438.8 85.2h1M442.8 69.2h1M425.3 90.1h1M421.5 90.6h1M435.1 76.5h1M433.7 75.4h1M420.4 84.9h1M433.0 92.2h1M421.4 84.1h1M437.7 83.8h1M449.5 55.9h1M428.6 91.0h1M430.7 79.1h1M427.7 87.4h1M425.7 77.5h1M439.0 83.7h1M427.4 77.0h1M421.5 89.6h1M418.7 87.5h1M437.9 76.2h1M425.6 75.9h1M429.8 80.1h1M430.4 75.5h1M424.5 88.7h1M434.4 70.2h1M418.8 85.5h1M423.9 92.5h1M431.1 96.7h1M428.2 83.5h1M443.2 57.7h1M432.6 84.5h1M433.1 81.7h1M445.7 74.2h1M425.3 84.7h1M425.1 98.1h1M421.9 85.7h1M422.7 83.1h1M411.4 91.4h1M422.6 81.6h1M425.4 78.8h1M441.8 65.1h1M426.1 70.2h1M438.3 87.9h1M430.9 91.0h1M417.5 84.2h1M421.0 100.7h1M432.9 87.8h1M418.0 104.4h1M424.9 82.1h1M435.0 65.6h1M424.0 84.6h1M433.8 81.1h1M424.6 91.3h1M415.0 97.4h1M431.9 81.9h1M425.2 83.8h1M437.4 83.2h1M425.2 78.7h1M432.3 77.5h1M426.4 87.4h1M434.7 80.2h1M444.9 81.3h1M420.5 83.9h1M429.4 87.6h1M435.8 74.0h1M432.5 79.0h1M424.1 82.3h1M420.3 96.6h1M419.8 79.8h1M435.6 68.0h1M428.1 88.0h1M430.3 86.2h1M413.2 83.2h1M432.2 86.6h1M431.2 84.5h1M435.6 83.9h1M424.4 88.1h1M422.7 92.8h1M437.1 61.0h1M434.2 84.6h1M429.7 94.5h1M421.0 79.2h1M443.4 87.0h1M436.1 73.6h1M438.6 85.8h1M425.0 84.2h1M435.8 81.1h1M418.0 92.7h1M425.3 92.3h1M436.0 71.4h1M435.7 84.9h1M429.2 83.7h1M424.5 87.7h1M421.4 92.3h1M426.7 77.6h1M425.8 79.8h1M428.9 59.6h1M429.5 94.0h1M427.7 81.6h1M427.3 86.0h1M421.5 88.9h1M434.8 62.9h1M429.4 64.8h1M423.8 76.9h1M424.5 97.5h1M434.9 82.9h1M436.6 81.7h1M425.8 88.3h1M425.7 101.1h1M441.5 68.0h1M427.5 99.4h1M437.3 74.5h1M425.3 88.9h1M422.0 82.9h1M435.9 74.4h1M423.6 93.7h1M424.7 84.1h1M432.4 86.0h1M431.4 69.0h1M435.7 74.4h1M428.1 80.3h1M422.8 94.3h1M436.6 72.5h1M428.3 87.6h1M433.7 82.4h1M417.6 98.5h1M425.1 82.1h1M438.5 82.8h1M427.0 85.9h1M428.8 74.4h1M438.8 72.5h1M434.5 65.6h1M422.8 85.4h1M424.2 99.0h1M416.6 105.5h1M421.7 81.6h1M414.4 93.3h1M430.3 77.5h1M415.6 100.3h1M445.8 80.7h1M429.8 82.7h1M426.4 101.7h1M431.6 81.1h1M433.0 78.2h1M433.2 78.5h1M427.0 81.6h1M432.5 77.3h1M437.5 82.2h1M428.8 87.3h1M425.7 79.4h1M412.5 88.1h1M438.4 79.7h1M419.1 92.7h1M423.2 81.2h1M419.5 91.6h1M435.5 75.4h1M424.8 77.9h1M414.8 86.5h1M429.7 80.2h1M430.9 87.5h1M438.8 81.7h1M425.9 80.6h1M422.8 79.5h1M428.2 85.9h1M418.3 97.1h1M432.5 79.8h1M424.7 70.4h1M426.5 94.3h1M428.6 76.5h1M438.5 74.9h1M431.3 73.0h1M434.6 70.2h1M429.3 71.3h1M427.0 86.9h1M445.5 65.9h1M431.5 83.7h1M429.5 90.5h1M434.3 66.8h1M425.0 88.5h1M441.7 80.0h1M423.3 88.3h1M438.7 73.5h1M444.9 76.3h1M428.0 87.0h1M433.4 77.3h1M436.8 77.8h1M431.5 84.6h1M437.9 81.3h1M434.1 86.7h1M417.8 81.9h1M429.1 94.5h1M429.2 77.8h1M431.2 75.8h1M434.9 74.7h1M441.6 84.0h1M429.7 72.5h1M430.8 87.0h1M431.9 60.0h1M426.7 90.0h1M439.7 78.4h1M424.2 79.4h1M429.9 85.1h1M442.1 62.9h1M429.6 73.9h1M427.0 93.9h1M438.1 82.1h1M427.5 85.1h1M437.8 61.9h1M425.8 88.6h1M432.2 81.8h1M421.3 81.5h1M422.3 83.1h1M434.7 74.9h1M428.5 64.9h1M439.9 71.7h1M428.3 81.4h1M430.3 88.7h1M431.1 74.6h1M423.3 81.2h1M440.6 68.0h1M427.5 97.1h1M431.8 76.3h1M423.2 92.1h1M422.4 88.5h1M425.4 98.4h1M420.7 91.4h1M436.3 79.1h1M422.0 85.0h1M423.0 90.3h1M423.2 92.5h1M423.5 89.1h1M424.3 83.4h1M428.5 69.3h1M430.7 82.1h1M428.5 81.5h1M432.0 85.0h1M433.9 75.5h1M429.6 93.9h1M432.8 80.0h1M416.6 86.8h1M423.0 90.8h1M435.1 77.5h1M431.9 82.8h1M432.1 86.3h1M420.9 88.2h1M434.2 79.3h1M446.5 65.3h1M426.0 71.7h1M428.9 73.7h1M428.0 81.8h1M440.0 73.6h1M421.8 81.0h1M440.1 50.3h1M431.5 79.5h1M428.6 79.9h1M435.2 69.3h1M417.0 86.6h1M423.2 85.6h1M423.9 86.7h1M429.5 84.2h1M443.1 68.0h1M422.5 88.4h1M444.4 59.4h1M437.1 73.9h1M443.8 70.8h1M431.9 80.0h1M422.5 95.7h1M421.8 91.2h1M433.8 66.8h1M424.4 81.5h1M426.4 74.1h1M439.4 84.3h1M433.4 64.1h1M443.4 73.8h1M430.5 77.1h1M431.1 80.6h1M433.8 70.8h1M427.5 93.2h1M423.3 85.3h1M429.4 97.6h1M419.7 85.5h1M425.2 97.3h1M426.4 67.0h1M430.9 85.1h1M442.3 66.3h1M429.3 84.7h1M430.0 77.3h1M428.1 86.0h1M436.2 75.8h1M436.7 78.0h1M428.8 84.5h1M428.0 75.2h1M427.9 89.3h1M426.4 85.7h1M426.1 91.4h1M437.0 74.8h1M423.1 88.4h1M422.4 90.0h1M441.1 76.8h1M427.7 81.2h1M422.0 93.5h1M422.2 90.6h1M416.8 80.0h1M422.9 91.2h1M436.2 87.8h1M417.4 88.6h1M426.2 95.1h1M437.4 77.5h1M442.9 69.5h1M435.5 68.7h1M434.2 90.5h1M435.8 79.4h1M432.4 86.5h1M438.6 64.7h1M430.9 78.9h1M433.5 78.3h1M442.3 65.9h1M442.0 74.2h1M435.9 84.6h1M420.4 88.1h1M430.3 86.9h1M421.7 94.0h1M443.4 69.4h1M434.6 87.4h1M440.2 80.1h1M429.9 79.1h1M417.6 82.4h1M432.4 79.9h1M426.2 74.1h1M430.7 83.0h1M430.4 82.6h1M430.3 77.6h1M428.6 93.1h1M429.8 83.3h1M429.3 87.3h1M423.6 87.1h1M439.8 87.1h1M412.5 97.4h1M417.9 90.9h1M427.7 83.0h1M438.4 67.8h1M434.5 77.7h1M426.6 89.3h1M438.1 68.9h1M436.6 84.9h1M429.5 90.3h1M431.4 84.7h1M430.5 62.5h1M436.7 76.4h1M417.7 82.3h1M426.4 93.1h1M447.8 87.1h1M423.7 92.5h1M426.8 86.0h1M426.8 70.5h1M427.1 93.5h1M423.4 87.7h1M434.9 82.9h1M426.8 83.5h1M435.8 69.2h1M433.8 85.0h1M429.9 74.0h1M432.0 75.0h1M429.8 89.5h1M430.9 71.8h1M441.1 73.0h1M426.5 82.0h1M428.4 88.3h1M431.6 86.7h1M433.5 66.3h1M422.2 76.7h1M422.7 83.3h1M419.4 90.7h1M430.9 83.5h1M412.6 87.0h1M434.7 73.7h1M422.8 87.4h1M424.5 94.8h1M440.7 77.3h1M429.9 77.9h1M429.7 76.0h1M428.0 92.8h1M436.4 77.0h1M431.6 79.5h1M430.3 80.5h1M440.1 78.1h1M442.8 77.8h1M431.8 84.5h1M438.4 67.9h1M430.4 75.6h1M431.1 84.1h1M426.6 71.5h1M436.7 83.9h1M441.5 70.4h1M431.5 79.9h1M428.5 83.0h1M428.8 81.3h1M438.2 77.6h1M423.7 97.7h1M428.2 97.7h1M425.3 82.2h1M435.8 80.6h1M433.7 76.7h1M424.0 82.0h1M419.9 95.2h1M422.6 104.3h1M429.4 84.7h1M425.9 85.5h1M424.4 74.9h1M434.0 73.0h1M427.3 92.1h1M424.5 60.7h1M422.7 82.9h1M426.8 82.9h1M434.4 83.9h1M423.3 102.3h1M444.7 62.4h1M426.8 84.5h1M438.8 74.6h1M423.6 86.8h1M420.6 96.4h1M429.8 96.2h1M415.7 87.0h1M425.4 104.0h1M409.6 100.8h1M436.3 78.0h1M434.4 95.2h1M434.1 84.4h1M432.3 68.5h1M432.5 91.6h1M432.0 84.2h1M430.3 69.8h1M436.4 82.7h1M428.3 78.9h1M429.8 95.1h1M424.2 90.9h1M435.3 77.5h1M428.4 85.0h1M438.4 77.3h1M429.0 72.7h1M439.3 84.1h1M428.7 72.8h1M431.5 80.9h1M440.7 74.9h1M414.9 98.8h1M422.6 86.7h1M431.8 79.7h1M441.8 69.3h1M411.7 90.8h1M425.7 86.4h1M436.6 81.7h1M429.9 65.5h1M423.5 83.7h1M416.9 99.3h1M436.2 82.5h1M430.5 72.6h1M434.4 79.6h1M433.8 79.5h1M435.2 78.3h1M430.8 92.6h1M424.7 70.9h1M433.3 73.8h1M425.8 79.2h1M427.0 91.2h1M420.2 83.2h1M446.3 85.1h1M428.0 89.4h1M449.2 79.6h1M430.0 79.6h1M425.4 82.3h1M432.9 73.5h1M435.3 86.6h1M443.3 63.9h1M439.6 70.7h1M424.2 87.6h1M422.8 81.8h1M420.0 100.9h1M431.4 73.0h1M429.5 76.4h1M427.4 78.0h1M424.2 96.6h1M442.3 71.1h1M439.2 72.9h1M431.4 89.3h1M429.0 89.9h1M430.1 89.1h1M433.2 74.5h1M434.2 81.3h1M426.1 81.2h1M430.0 86.2h1M413.8 88.7h1M425.7 87.6h1M419.1 97.2h1M440.8 77.8h1M425.5 80.5h1M424.6 79.2h1M427.8 87.2h1M420.1 88.9h1M409.6 95.1h1M427.3 92.5h1M422.7 84.9h1M427.3 87.1h1M434.9 75.7h1M439.2 78.4h1M423.3 91.6h1M423.8 90.5h1M432.1 72.0h1M417.7 103.0h1M428.9 86.3h1M425.2 69.7h1M429.3 81.1h1M423.9 84.8h1M431.8 75.9h1M430.2 91.2h1M423.8 89.5h1M430.0 80.2h1M434.8 88.2h1M424.6 71.6h1M438.8 74.0h1M440.5 72.8h1M413.4 102.2h1M428.6 77.6h1M429.6 75.4h1M434.0 74.8h1M421.2 80.8h1M425.0 83.4h1M431.3 79.0h1M422.0 87.4h1M420.5 97.6h1M434.7 77.0h1M431.8 75.2h1M424.5 94.3h1M439.0 75.2h1M423.4 89.6h1M432.2 79.6h1M422.0 93.8h1M432.2 84.6h1M418.6 84.3h1M426.9 87.5h1M428.1 77.4h1M430.8 75.6h1M427.3 93.6h1M438.1 69.1h1M422.3 88.7h1M415.0 93.0h1M433.7 90.0h1M446.2 70.0h1M422.2 84.1h1M424.8 97.2h1M429.2 91.6h1M428.7 78.0h1M433.5 78.5h1M427.6 75.6h1M444.5 79.8h1M438.3 62.3h1M426.7 79.0h1M433.9 80.1h1M432.2 84.0h1M427.8 76.0h1M441.8 75.1h1M422.5 72.2h1M420.1 88.4h1M440.6 78.3h1M439.3 69.1h1M429.9 79.4h1M437.5 62.7h1M438.4 74.7h1M419.1 93.7h1M427.3 86.6h1M423.9 92.9h1M428.0 88.0h1M421.6 87.9h1M430.7 80.7h1M431.4 75.5h1M415.3 97.8h1M433.9 75.4h1M421.6 78.3h1M431.3 70.6h1M425.1 83.0h1M419.3 104.6h1M423.6 79.7h1M430.6 78.4h1M431.0 78.3h1M431.9 85.2h1M424.0 92.3h1M417.0 85.5h1M421.3 87.3h1M422.8 91.0h1M428.6 81.3h1M433.5 80.4h1M431.7 73.3h1M433.6 80.5h1M431.1 85.3h1M427.5 72.8h1M429.7 82.7h1M419.2 88.0h1M438.3 76.8h1M430.5 83.7h1M426.4 80.9h1M436.3 71.1h1M432.0 76.9h1M433.3 76.0h1M449.9 70.7h1M434.8 70.4h1M434.5 74.2h1M437.0 85.9h1M414.1 96.9h1M410.3 100.1h1M416.1 84.8h1M444.1 62.0h1M425.3 81.4h1M433.7 91.2h1M423.2 70.3h1M436.8 72.4h1M430.3 77.7h1M433.3 77.5h1M435.3 81.7h1M433.3 89.9h1M424.0 85.6h1M421.0 105.6h1M426.2 80.8h1M431.6 84.7h1M429.0 78.4h1M435.8 74.4h1M422.8 95.5h1M424.4 94.5h1M431.0 74.7h1M415.7 93.9h1M425.2 77.3h1M434.7 86.5h1M433.5 79.5h1M423.8 90.2h1M426.9 73.6h1M421.9 93.4h1M441.2 81.6h1M430.5 84.4h1M435.2 93.1h1M424.9 77.9h1M436.8 72.1h1M419.7 90.2h1M438.5 92.6h1M422.3 94.7h1M439.3 78.2h1M433.6 77.3h1M419.2 88.1h1M431.7 88.6h1M416.3 88.8h1M429.7 83.6h1M432.0 72.2h1M427.2 89.6h1M428.4 82.9h1M413.7 93.9h1M450.0 76.3h1M418.4 91.2h1M427.3 80.7h1M423.0 83.9h1M432.9 72.3h1M429.8 87.1h1M427.3 87.6h1M425.6 98.3h1M434.8 71.8h1M415.6 96.4h1M442.8 72.8h1M441.6 75.4h1M442.6 68.7h1M424.4 91.8h1M424.4 89.1h1M425.8 78.1h1M440.0 76.1h1M423.5 92.3h1M437.2 72.4h1M420.0 90.9h1M439.8 81.0h1M427.7 80.8h1M432.3 82.1h1M436.3 88.4h1M428.8 73.0h1M421.8 99.7h1M439.6 76.4h1M428.3 89.1h1M427.1 83.7h1M425.0 89.6h1M427.9 72.6h1M429.4 77.2h1M430.9 88.4h1M424.2 90.8h1M449.3 72.5h1M432.5 87.6h1M433.2 77.7h1M426.4 84.0h1M434.3 71.7h1M442.1 73.2h1M437.2 73.7h1M441.0 68.5h1M439.0 66.3h1M414.8 98.6h1M427.1 88.4h1M418.1 89.2h1M438.7 79.7h1M431.4 79.2h1M424.3 93.2h1M441.9 69.1h1M420.2 72.4h1M441.5 68.5h1M420.9 83.3h1M435.9 74.7h1M440.9 72.7h1M423.3 81.2h1M437.1 82.3h1M431.8 83.1h1M428.2 85.2h1M437.5 82.7h1M411.8 93.4h1M436.2 76.7h1M428.7 79.3h1M426.3 95.0h1M434.5 75.7h1M418.1 98.6h1M418.3 88.1h1M439.2 72.8h1M436.7 79.5h1M422.3 84.7h1M439.9 70.0h1M433.4 88.4h1M429.0 83.5h1M429.8 81.1h1M430.1 73.0h1M430.2 75.0h1M420.9 87.5h1M422.0 81.3h1M437.7 79.5h1M434.9 70.3h1M432.7 80.2h1M439.0 76.4h1M435.2 74.1h1M429.4 94.4h1M430.2 84.5h1M449.2 67.3h1M427.5 83.2h1M433.6 74.3h1M429.8 98.2h1M448.4 54.4h1M427.0 89.2h1M431.2 73.4h1M429.5 74.2h1M423.4 96.8h1M429.9 83.9h1M439.7 73.8h1M420.9 83.3h1M432.1 70.5h1M421.6 79.3h1M438.9 71.6h1M440.8 59.2h1M422.8 90.1h1M428.9 76.1h1M427.3 88.6h1M426.7 91.5h1M424.1 76.9h1M435.9 83.1h1M430.3 75.8h1M422.9 70.7h1M420.6 103.4h1M427.6 86.4h1M414.8 98.2h1M439.1 84.3h1M433.1 72.9h1M436.6 82.8h1M433.5 91.1h1M432.0 78.3h1M438.8 77.6h1M429.9 74.5h1M423.4 84.3h1M424.5 82.6h1M441.4 73.3h1M433.0 84.2h1M430.2 79.7h1M438.2 87.2h1M431.7 75.2h1M430.6 75.0h1M422.8 80.7h1M428.2 85.1h1M432.2 87.4h1M426.2 77.2h1M438.2 80.3h1M418.8 92.1h1M440.1 69.0h1M431.5 96.8h1M430.7 81.3h1M422.0 90.4h1M424.3 84.7h1M427.2 81.1h1M440.0 82.3h1M429.5 78.5h1M437.5 76.6h1M429.8 86.1h1M436.0 65.5h1M425.1 99.1h1M426.6 76.4h1M430.1 78.0h1M434.0 90.9h1M432.4 84.4h1M428.2 91.9h1M434.8 80.5h1M425.9 84.5h1M430.4 72.6h1M425.8 74.2h1M433.2 79.1h1M427.4 78.8h1M426.7 90.9h1M434.7 76.3h1M435.8 75.5h1M423.9 82.0h1M428.8 95.1h1M427.8 88.9h1M441.5 76.5h1M418.3 94.7h1M430.9 78.1h1M425.3 83.1h1M443.2 81.8h1M423.8 96.2h1M434.7 79.5h1M422.3 89.8h1M437.5 80.6h1M437.9 65.5h1M426.0 82.0h1M441.4 65.5h1M441.1 89.2h1M440.1 79.8h1M440.3 59.1h1M436.9 73.8h1M438.4 81.3h1M421.7 105.8h1M426.7 89.9h1M431.6 78.0h1M432.9 93.7h1M425.1 91.0h1M429.6 75.3h1M417.2 91.0h1M424.9 93.0h1M440.1 80.3h1M441.2 63.7h1M430.6 92.2h1M426.0 77.7h1M431.4 75.9h1M433.9 93.4h1M425.9 90.1h1M434.7 80.2h1M431.5 97.2h1M419.3 84.2h1M442.4 66.6h1M419.7 99.4h1M440.5 64.2h1M440.1 70.7h1M429.4 89.4h1M435.4 70.8h1M433.9 82.3h1M420.2 87.0h1M431.2 90.3h1M428.8 90.8h1M433.6 64.2h1M422.8 92.4h1M424.2 94.6h1M421.3 81.1h1M426.2 88.2h1M449.3 67.9h1M429.4 88.6h1M424.2 87.7h1M423.3 87.8h1M430.2 93.2h1M417.5 99.8h1M433.2 84.5h1M425.6 89.3h1M430.1 87.1h1M435.5 71.1h1M437.8 75.2h1M430.8 73.1h1M426.1 92.3h1M426.5 81.8h1M431.5 91.0h1M433.9 90.1h1M427.5 83.3h1M430.0 90.4h1M437.7 75.0h1M428.5 91.6h1M433.2 67.2h1M431.4 78.5h1M426.9 82.4h1M436.9 81.9h1M428.6 86.4h1M430.2 87.3h1M436.5 74.3h1M425.8 83.5h1M457.0 45.9h1M425.6 95.3h1M413.7 88.5h1M433.4 68.3h1M430.1 89.6h1M428.9 90.4h1M421.5 90.7h1M428.5 85.2h1M423.1 88.5h1M434.8 77.0h1M429.7 91.5h1M431.0 84.5h1M434.9 78.7h1M430.9 81.2h1M427.5 88.3h1M433.0 99.4h1M422.5 97.6h1M413.7 92.1h1M435.8 78.4h1M418.2 82.8h1M427.5 87.6h1M435.9 85.8h1M433.5 82.1h1M433.2 72.4h1M431.6 78.9h1M424.1 82.6h1M421.2 92.6h1M428.5 76.7h1M429.9 85.0h1M434.9 87.7h1M419.9 87.6h1M426.9 77.3h1M434.1 75.4h1M434.7 89.0h1M433.8 77.3h1M425.5 79.5h1M428.9 86.7h1M439.0 73.5h1M432.3 88.3h1M427.5 77.6h1M415.5 92.1h1M437.3 76.9h1M422.6 83.0h1M428.1 83.2h1M417.8 79.1h1M431.1 79.9h1M432.6 92.6h1M426.6 94.2h1M425.8 77.7h1M434.1 82.3h1M434.6 92.6h1M427.5 71.8h1M438.7 74.8h1M429.8 92.2h1M428.9 75.9h1M438.1 82.5h1M415.6 92.4h1M411.8 85.7h1M414.8 100.6h1M440.0 71.6h1M430.0 88.6h1M430.3 87.9h1M422.8 68.8h1M438.8 67.7h1M431.3 77.3h1M441.4 69.2h1M442.3 74.0h1M450.9 47.3h1M425.7 91.4h1M425.4 84.7h1M428.3 91.0h1M435.7 78.0h1M426.7 90.8h1M441.7 80.4h1M418.8 99.0h1M432.5 70.9h1M437.7 81.1h1M440.8 70.1h1M437.5 78.9h1M424.9 76.6h1M431.7 78.8h1M426.5 106.4h1M426.0 83.0h1M424.4 76.4h1M436.1 63.1h1M423.5 76.4h1M416.6 93.7h1M440.1 60.3h1M423.7 90.8h1M430.8 82.5h1M421.6 89.9h1M400.5 107.6h1M427.7 70.4h1M426.8 87.1h1M436.9 77.6h1M419.0 83.3h1M431.2 75.4h1M442.9 70.6h1M430.8 75.0h1M427.7 83.0h1M430.2 89.8h1M432.3 84.5h1M425.9 97.4h1M425.2 78.0h1M432.8 76.0h1M416.7 92.7h1M420.3 92.5h1M441.1 66.2h1M429.0 82.2h1M441.9 66.8h1M439.7 82.2h1M434.5 76.5h1M430.8 80.9h1M442.9 69.1h1M438.4 70.6h1M430.1 83.6h1M417.2 98.6h1M421.8 93.7h1M424.8 80.5h1M417.8 87.2h1M428.4 73.9h1M432.5 79.1h1M436.9 81.5h1M431.8 76.5h1M432.4 82.4h1M434.8 81.1h1M429.5 80.0h1M421.0 90.9h1M429.3 83.0h1M421.4 77.1h1M434.4 74.0h1M427.6 86.7h1M421.0 88.5h1M438.3 63.6h1M435.6 76.7h1M433.4 70.5h1M442.6 70.1h1M432.6 88.8h1M438.1 74.6h1M426.7 77.8h1M425.1 94.4h1M438.4 85.7h1M434.1 83.0h1M430.4 75.8h1M424.9 82.8h1M426.7 84.1h1M421.1 91.4h1M431.6 73.2h1M411.0 95.7h1M426.5 80.4h1M430.0 89.8h1M420.1 82.2h1M426.7 77.5h1M431.1 89.0h1M423.9 102.2h1M418.5 102.4h1M410.2 93.6h1M420.6 87.5h1M436.1 92.3h1M426.9 86.0h1M427.2 81.2h1M432.1 82.4h1M423.1 84.2h1M428.0 100.8h1M425.4 86.3h1M424.5 87.9h1M437.8 66.2h1M437.7 75.7h1M420.1 87.5h1M433.0 87.1h1M435.4 69.8h1M432.4 82.0h1M434.0 71.8h1M423.8 75.0h1M434.0 82.1h1M436.5 78.9h1M425.6 87.5h1M429.7 91.9h1M429.3 86.7h1M432.2 69.6h1M434.1 81.3h1M419.1 91.4h1M433.8 71.3h1M444.9 86.6h1M443.0 79.3h1M430.9 79.2h1M425.6 78.6h1M417.0 99.3h1M431.7 80.1h1M422.2 100.6h1M427.8 83.9h1M442.1 67.0h1M426.5 77.3h1M425.8 74.7h1M424.8 85.9h1M441.1 86.9h1M421.0 93.3h1M424.1 81.8h1M431.9 80.5h1M421.1 79.7h1M425.5 94.5h1M420.9 107.5h1M421.2 84.7h1M426.5 91.4h1M411.6 102.4h1M408.1 90.2h1M425.6 113.0h1M420.2 99.0h1M418.0 103.1h1M415.2 96.9h1M424.4 84.3h1M421.8 109.7h1M423.5 92.0h1M431.9 94.7h1M423.8 102.6h1M417.3 109.8h1M427.9 92.2h1M439.6 95.2h1M414.1 97.3h1M428.0 107.0h1M420.3 99.4h1M421.5 93.7h1M423.3 94.8h1M416.2 95.4h1M431.0 92.0h1M426.0 91.9h1M422.9 100.6h1M426.9 82.2h1M435.8 94.5h1M434.5 81.1h1M415.1 97.2h1M419.9 73.2h1M415.3 93.5h1M427.8 104.9h1M426.7 99.6h1M406.1 108.3h1M432.0 92.2h1M433.0 94.8h1M414.4 102.0h1M420.4 98.9h1M432.3 86.5h1M416.8 94.3h1M430.5 105.6h1M437.5 98.8h1M415.0 93.6h1M426.0 114.1h1M423.0 104.0h1M418.9 115.5h1M420.5 104.1h1M428.1 103.3h1M421.5 101.0h1M416.0 97.0h1M408.9 113.3h1M425.1 98.0h1M432.9 94.5h1M416.2 97.3h1M431.7 114.8h1M441.4 97.3h1M419.0 106.6h1M431.4 92.1h1M410.0 102.2h1M411.7 102.6h1M428.0 111.5h1M433.8 90.7h1M440.8 93.1h1M409.4 106.4h1M433.1 95.4h1M430.9 90.2h1M413.3 113.5h1M412.2 95.6h1M414.2 101.9h1M438.0 88.7h1M416.7 103.9h1M404.0 110.7h1M424.0 112.8h1M430.5 94.3h1M404.6 98.7h1M421.2 83.0h1M422.8 92.5h1M427.7 89.1h1M416.5 103.1h1M428.7 95.0h1M428.7 109.5h1M410.9 92.4h1M419.7 100.7h1M432.2 96.2h1M415.3 96.8h1M440.0 85.3h1M405.7 102.5h1M421.2 96.1h1M424.6 92.2h1M428.7 106.7h1M434.8 77.9h1M416.2 91.1h1M426.0 85.2h1M430.0 92.6h1M423.6 94.6h1M417.2 107.3h1M413.8 106.0h1M414.1 105.5h1M425.3 100.5h1M417.2 94.4h1M426.2 84.2h1M412.8 110.9h1M415.7 107.4h1M428.9 90.2h1M432.7 86.9h1M430.1 99.4h1M427.1 100.5h1M437.0 82.4h1M411.7 92.0h1M429.0 104.1h1M433.0 91.6h1M429.3 86.3h1M414.5 100.3h1M432.2 86.0h1M424.9 103.6h1M435.4 95.5h1M427.6 95.1h1M410.7 107.7h1M424.9 91.6h1M417.4 99.2h1M417.3 99.8h1M415.5 99.6h1M423.1 97.3h1M426.9 111.3h1M411.5 98.6h1M411.3 97.5h1M427.1 86.7h1M434.6 107.1h1M423.6 110.0h1M422.7 76.1h1M414.8 88.5h1M423.0 103.9h1M415.2 105.6h1M426.7 104.5h1M426.8 82.2h1M420.1 103.7h1M422.8 108.3h1M428.7 111.7h1M422.8 87.0h1M434.8 90.9h1M424.4 93.6h1M417.3 84.2h1M414.6 106.6h1M414.0 86.8h1M400.7 105.3h1M420.6 90.7h1M404.2 111.9h1M407.6 114.5h1M420.4 101.1h1M430.2 106.7h1M417.6 88.1h1M417.9 107.9h1M433.2 86.3h1M406.5 109.5h1M433.9 99.8h1M425.1 95.5h1M415.8 98.1h1M424.0 113.4h1M424.8 93.4h1M427.8 98.3h1M420.3 108.2h1M432.6 91.4h1M451.2 80.0h1M417.2 105.4h1M430.7 84.1h1M437.5 87.8h1M429.0 98.8h1M438.4 89.8h1M431.6 88.1h1M425.8 95.2h1M423.4 82.7h1M408.1 96.8h1M416.0 107.5h1M415.7 101.7h1M429.0 105.8h1M449.3 88.7h1M408.9 118.7h1M429.1 90.4h1M419.6 105.9h1M433.9 95.3h1M437.0 89.3h1M425.5 105.6h1M423.2 92.1h1M434.7 87.4h1M420.0 98.4h1M413.8 107.6h1M414.7 93.4h1M431.3 93.0h1M430.7 104.9h1M425.8 111.3h1M433.2 87.1h1M423.3 102.3h1M411.6 105.3h1M407.3 104.9h1M425.5 108.1h1M430.5 91.9h1M418.5 94.3h1M423.9 94.2h1M408.3 93.7h1M422.5 99.4h1M426.8 82.6h1M434.4 103.3h1M427.9 100.9h1M419.7 86.9h1M406.7 100.2h1M417.8 102.5h1M423.7 115.7h1M423.7 93.4h1M424.7 87.1h1M425.6 91.5h1M428.1 92.6h1M416.2 109.4h1M424.1 101.5h1M430.1 82.9h1M428.7 93.8h1M428.2 78.8h1M424.5 89.8h1M439.3 82.1h1M422.1 104.9h1M412.6 111.4h1M409.2 106.1h1M417.9 107.6h1M417.4 97.1h1M417.8 100.3h1M428.9 93.4h1M426.0 100.0h1M422.3 89.0h1M430.1 80.4h1M424.6 96.2h1M409.9 114.9h1M435.5 99.3h1M432.9 93.3h1M434.7 87.9h1M419.9 89.0h1M428.0 94.4h1M425.8 95.4h1M444.6 98.1h1M436.6 84.9h1M412.4 114.5h1M423.0 99.4h1M427.0 92.8h1M425.1 110.8h1M428.9 90.8h1M429.2 91.7h1M412.3 81.0h1M422.2 87.9h1M426.7 98.8h1M419.6 96.3h1M424.1 96.3h1M426.6 98.4h1M425.8 94.7h1M423.0 89.8h1M417.6 100.6h1M416.0 93.0h1M432.6 103.1h1M417.4 104.3h1M417.1 92.0h1M432.5 104.6h1M423.1 110.3h1M417.0 91.4h1M425.2 98.9h1M405.6 112.9h1M422.8 101.9h1M418.2 101.8h1M414.8 109.5h1M419.9 105.5h1M428.9 88.8h1M438.4 85.2h1M425.6 101.0h1M418.4 95.2h1M418.7 107.1h1M409.9 105.1h1M426.8 106.2h1M411.0 95.1h1M438.5 100.0h1M426.9 73.1h1M421.0 102.1h1M418.5 100.5h1M430.8 89.2h1M422.1 113.5h1M439.7 78.6h1M423.7 86.0h1M426.0 94.4h1M417.3 86.2h1M428.1 93.2h1M422.8 101.2h1M417.4 91.1h1M428.6 90.7h1M425.8 91.0h1M410.6 102.9h1M412.9 96.9h1M411.7 89.3h1M414.8 102.6h1M429.4 96.3h1M423.2 112.4h1M423.5 100.2h1M431.5 99.3h1M410.3 93.8h1M425.6 94.6h1M418.1 109.1h1M429.5 99.0h1M426.6 81.1h1M463.8 40.1h1M458.8 49.3h1M487.1 19.3h1M475.1 24.9h1M490.3 7.7h1M476.5 37.9h1M492.7 16.1h1M476.2 41.2h1M470.5 32.4h1M466.5 26.7h1M449.0 56.0h1M484.5 26.2h1M482.3 29.9h1M461.8 44.5h1M474.9 35.4h1M461.1 30.6h1M452.2 49.0h1M482.2 24.6h1M463.1 35.9h1M458.8 36.0h1M459.5 37.4h1M458.0 37.0h1M456.9 47.8h1M480.9 11.4h1M472.4 31.2h1M467.4 28.9h1M441.5 72.4h1M490.8 12.3h1M481.3 24.3h1M454.4 51.2h1M465.3 32.3h1M456.4 48.3h1M479.9 20.1h1M465.3 41.2h1M481.6 18.6h1M478.2 31.1h1M474.7 23.4h1M456.1 50.0h1M478.5 28.1h1M459.8 40.4h1M461.5 31.1h1M469.3 40.3h1M459.4 54.4h1M485.7 21.6h1M469.0 36.4h1M477.3 29.6h1M462.7 41.3h1M461.6 36.6h1M465.7 24.5h1M467.4 46.3h1M475.4 22.9h1M486.5 19.7h1M458.7 32.4h1M473.5 37.2h1M493.4 12.3h1M466.7 31.5h1M458.7 35.6h1M461.4 43.0h1M483.1 31.8h1M489.6 9.3h1M465.4 36.8h1M470.4 37.4h1M477.5 24.9h1M462.0 40.5h1M472.6 36.4h1M478.5 21.1h1M468.9 34.0h1M471.1 21.7h1M471.0 34.4h1M485.7 27.3h1M467.1 35.7h1M492.9 12.9h1M464.6 32.2h1M458.7 54.0h1M473.8 34.8h1M474.4 20.7h1M464.9 36.4h1M472.1 22.0h1M473.1 20.9h1M467.8 36.2h1M478.9 22.8h1M444.8 63.7h1M489.6 9.7h1M478.3 24.1h1M460.7 44.4h1M463.5 44.2h1M475.8 23.6h1M487.5 15.0h1M482.9 22.8h1M464.3 37.0h1M445.5 51.9h1M466.2 45.1h1M470.6 38.6h1M473.4 32.7h1M454.3 39.8h1M468.2 45.1h1M468.8 26.8h1M466.4 32.1h1M466.3 38.5h1M476.8 28.5h1M489.1 16.5h1M479.1 17.5h1M454.2 43.5h1M464.6 45.5h1M462.6 34.5h1M484.6 17.7h1M477.8 22.0h1M461.6 51.9h1M438.9 46.2h1M481.9 24.8h1M478.3 38.2h1M477.5 19.5h1M471.6 30.1h1M488.4 20.4h1M484.9 27.1h1M477.5 15.6h1M463.7 36.2h1M481.7 26.1h1M467.1 46.5h1M485.1 16.5h1M450.5 37.0h1M477.3 27.8h1M463.4 39.3h1M462.3 47.6h1M476.8 26.5h1M487.0 24.2h1M476.4 31.0h1M472.7 30.7h1M458.5 44.2h1M474.0 26.3h1M468.4 29.2h1M477.4 36.4h1M486.7 21.0h1M458.6 51.3h1M468.7 33.6h1M468.2 36.6h1M451.0 42.6h1M469.9 36.8h1M481.6 26.5h1M474.5 17.7h1M465.8 35.4h1M468.1 33.6h1M459.5 42.3h1M473.2 27.7h1M458.6 45.5h1M461.8 34.7h1M476.9 27.0h1M470.5 21.2h1M456.2 48.2h1M470.1 42.1h1M462.7 34.9h1M481.1 13.9h1M489.5 18.1h1M459.7 43.3h1M477.0 25.5h1M454.0 43.1h1M476.8 25.7h1M467.9 25.6h1M468.9 31.6h1M470.2 24.5h1M492.1 12.4h1M475.8 28.2h1M451.1 43.4h1M473.7 27.2h1M471.7 37.9h1M483.6 13.4h1M481.7 22.6h1M471.0 21.1h1M472.5 25.5h1M481.6 27.5h1M464.2 40.2h1M476.9 30.1h1M472.4 27.1h1M452.6 59.8h1M458.7 55.9h1M486.3 15.8h1M483.8 20.3h1M451.4 43.2h1M479.6 20.4h1M465.9 25.8h1M456.3 39.4h1M470.9 20.8h1M474.3 26.8h1M477.5 37.0h1M457.2 49.0h1M474.7 43.4h1M468.8 28.8h1M465.4 27.3h1M474.2 29.4h1M466.9 44.8h1M491.0 7.2h1M458.8 38.8h1M489.5 15.7h1M449.5 49.1h1M487.6 14.7h1M469.0 35.2h1M469.0 32.4h1M447.6 49.0h1M479.9 26.3h1M466.4 46.4h1M484.1 18.2h1M478.5 16.9h1M491.1 19.0h1M488.2 12.6h1M462.1 38.3h1M479.2 21.2h1M479.1 23.5h1M474.8 24.6h1M484.4 25.5h1M490.9 20.3h1M467.3 41.2h1M463.8 49.7h1M476.0 26.6h1M473.1 37.9h1M477.5 11.4h1M465.8 38.3h1M491.7 15.7h1M467.1 27.8h1M474.2 19.2h1M471.1 44.8h1M493.2 29.3h1M480.0 12.3h1M483.9 18.3h1M479.0 29.6h1M460.0 54.8h1M469.5 25.3h1M458.2 34.3h1M459.6 40.0h1M459.2 35.9h1M473.4 44.3h1M485.8 16.3h1M477.6 30.0h1M475.1 32.8h1M472.1 33.9h1M486.0 22.6h1M466.8 42.2h1M475.2 29.7h1M465.6 40.1h1M474.2 30.6h1M480.4 25.0h1M456.8 40.0h1M467.9 30.7h1M455.8 42.5h1M459.2 41.6h1M463.3 45.9h1M471.0 36.4h1M480.8 18.6h1M473.9 26.8h1M435.5 60.2h1M470.4 29.1h1M455.8 40.8h1M488.8 9.1h1M460.1 39.3h1M457.9 44.8h1M461.6 40.4h1M490.5 19.0h1M473.7 38.3h1M472.5 20.7h1M486.4 27.3h1M480.8 25.7h1M479.3 27.7h1M491.2 14.2h1M443.4 59.2h1M482.4 33.4h1M450.6 39.8h1M457.8 29.0h1M481.4 26.0h1M472.6 40.3h1M473.4 24.9h1M468.1 33.3h1M483.4 17.1h1M490.0 22.3h1M453.4 55.1h1M470.2 33.1h1M475.1 43.2h1M490.8 20.7h1M480.0 17.1h1M474.9 27.9h1M485.2 17.3h1M485.6 28.2h1M483.4 29.2h1M463.2 41.3h1M484.6 13.3h1M470.5 38.7h1M462.7 39.3h1M495.3 17.6h1M479.2 32.8h1M503.7 6.5h1M458.4 47.0h1M479.8 21.7h1M479.4 29.4h1M477.5 42.7h1M479.0 31.1h1M475.1 32.0h1M462.3 38.3h1" stroke="#868686" stroke-width="1" fill="none" filter="url(#bl)"/>
<path d="M395.8 4.699999999999999V121.9H514.2" stroke="#222" stroke-width="1.2" fill="none"/>
<path d="M395.80 121.9v3.6M395.8 121.90h-3.8M407.39 121.9v2.7M395.8 110.40h-2.9M414.17 121.9v2.7M395.8 103.67h-2.9M418.98 121.9v2.7M395.8 98.90h-2.9M422.71 121.9v2.7M395.8 95.20h-2.9M425.76 121.9v2.7M395.8 92.17h-2.9M428.34 121.9v2.7M395.8 89.62h-2.9M430.57 121.9v2.7M395.8 87.40h-2.9M432.54 121.9v2.7M395.8 85.45h-2.9M434.30 121.9v3.6M395.8 83.70h-3.8M446.19 121.9v2.7M395.8 71.87h-2.9M453.15 121.9v2.7M395.8 64.95h-2.9M458.08 121.9v2.7M395.8 60.04h-2.9M461.91 121.9v2.7M395.8 56.23h-2.9M465.04 121.9v2.7M395.8 53.12h-2.9M467.68 121.9v2.7M395.8 50.49h-2.9M469.97 121.9v2.7M395.8 48.21h-2.9M471.99 121.9v2.7M395.8 46.20h-2.9M473.80 121.9v3.6M395.8 44.40h-3.8M485.60 121.9v2.7M395.8 32.93h-2.9M492.50 121.9v2.7M395.8 26.22h-2.9M497.40 121.9v2.7M395.8 21.46h-2.9M501.20 121.9v2.7M395.8 17.77h-2.9M504.30 121.9v2.7M395.8 14.75h-2.9M506.93 121.9v2.7M395.8 12.20h-2.9M509.20 121.9v2.7M395.8 9.99h-2.9M511.21 121.9v2.7M395.8 8.04h-2.9M513.00 121.9v3.6M395.8 6.3h-3.8" stroke="#222" stroke-width="1" fill="none"/>
<rect x="400.5" y="10.1" width="84.6" height="62.2" fill="none" stroke="#222" stroke-width="1.15"/>
<rect x="400.5" y="74.3" width="60.6" height="43" fill="none" stroke="#222" stroke-width="1.15"/>
<text x="403.9" y="21.8" font-size="9.2" text-anchor="start" font-weight="normal" >P</text>
<text x="403.8" y="86.5" font-size="9.2" text-anchor="start" font-weight="normal" >M</text>
<text x="400.40000000000003" y="6.2" font-size="9.2" text-anchor="start" font-weight="normal" >Collagen + Thrombin</text>
<text x="360.8" y="8.1" font-size="11.3" text-anchor="start" font-weight="bold" >C</text>
<text x="389.3" y="135.4" font-size="9.2" text-anchor="start">10<tspan font-size="7.3" dy="-3.2" dx="0">0</tspan></text>
<text x="429.40000000000003" y="135.4" font-size="9.2" text-anchor="start">10<tspan font-size="7.3" dy="-3.2" dx="0">1</tspan></text>
<text x="468.4" y="135.4" font-size="9.2" text-anchor="start">10<tspan font-size="7.3" dy="-3.2" dx="0">2</tspan></text>
<text x="506.4" y="135.4" font-size="9.2" text-anchor="start">10<tspan font-size="7.3" dy="-3.2" dx="0">3</tspan></text>
<text x="389.3" y="126.5" font-size="9.2" text-anchor="end">10<tspan font-size="7.3" dy="-3.2" dx="0">0</tspan></text>
<text x="389.3" y="86.3" font-size="9.2" text-anchor="end">10<tspan font-size="7.3" dy="-3.2" dx="0">1</tspan></text>
<text x="389.3" y="48.4" font-size="9.2" text-anchor="end">10<tspan font-size="7.3" dy="-3.2" dx="0">2</tspan></text>
<text x="389.3" y="10.7" font-size="9.2" text-anchor="end">10<tspan font-size="7.3" dy="-3.2" dx="0">3</tspan></text>
<text x="426.0" y="145.4" font-size="9.2" text-anchor="start" font-weight="normal" >Side Scatter Log</text>
<text x="370.40000000000003" y="104" font-size="9.1" text-anchor="start" font-weight="normal" transform="rotate(-90 370.40000000000003 104)">Forward Scatter Log</text>
<path d="M130.50 302.00L133.50 298.50L137.00 290.80L139.90 275.40L141.80 266.00L142.90 260.00L145.00 243.00L146.20 222.70L147.00 208.50L147.70 197.60L148.50 187.00L149.10 181.50L149.70 179.80L150.30 181.50L150.90 187.00L152.80 197.60L153.60 208.50L154.40 222.70L155.20 243.00L156.40 258.00L157.90 270.00L159.20 278.00L162.20 290.80L165.20 298.50L167.50 302.00Z" fill="#b7b7b7" stroke="#222" stroke-width="1.2" stroke-linejoin="round"/>
<path d="M131.50 301.67H132.65V301.01H133.80V300.36H134.95V299.48H136.10V298.32H137.25V297.17H138.40V295.82H139.55V294.63H140.70V292.93H141.85V291.22H143.00V288.81H144.15V285.83H145.30V283.87H146.45V280.79H147.60V277.15H148.75V274.18H149.90V271.79H151.05V268.27H152.20V265.42H153.35V260.63H154.50V258.87H155.65V253.86H156.80V247.41H157.95V242.75H159.10V242.48H160.25V235.78H161.40V233.83H162.55V230.75H163.70V229.42H164.85V230.39H166.00V232.27H167.15V232.04H168.30V235.33H169.45V239.33H170.60V244.58H171.75V248.56H172.90V249.86H174.05V257.04H175.20V259.19H176.35V262.80H177.50V265.74H178.65V269.21H179.80V273.74H180.95V276.16H182.10" fill="none" stroke="#222" stroke-width="1.3" stroke-linejoin="round"/>
<path d="M165.30 302.1V294.36H166.55V288.65H167.80V291.57H169.05V288.86H170.30V286.35H171.55V283.99H172.80V281.83H174.05V278.22H175.30V275.14H176.55V271.92H177.80V268.81H179.05V262.33H180.30V251.82H181.55V240.58H182.80V242.78H184.05V238.75H185.30V233.50H186.55V228.81H187.80V234.26H189.05V230.84H190.30V233.16H191.55V236.30H192.80V239.83H194.05V242.77H195.30V252.87H196.55V260.49H197.80V262.61H199.05V267.67H200.30V269.56H201.55V275.80H202.80V281.45H204.05V282.79H205.30V288.39H206.55V286.57H207.80V291.08H209.05V295.38H210.30V297.04H211.55V297.43H212.80V293.97H214.05V296.20H215.30V296.96H216.55V296.87H217.80V297.49H219.05V298.71H220.30V298.55H221.55V298.73H222.80V298.82H224.05V299.08H225.30V300.41H226.55V300.22H227.80V300.62H229.05V300.68H230.30V301.37H231.55V302.1Z" fill="#141414" stroke="#141414" stroke-width="0.5"/>
<path d="M115.4 164.5V302.3H254.8" stroke="#222" stroke-width="1.1" fill="none"/>
<path d="M115.4 302.30h-3.2M115.4 286.75h-2M115.4 271.20h-3.2M115.4 255.65h-2M115.4 240.10h-3.2M115.4 224.55h-2M115.4 209.00h-3.2M115.4 193.45h-2M115.4 177.90h-3.2M115.60 302.3v3.2M132.64 302.3v2.4M142.61 302.3v2.4M149.68 302.3v2.4M155.16 302.3v2.4M159.64 302.3v2.4M163.43 302.3v2.4M166.71 302.3v2.4M169.61 302.3v2.4M172.20 302.3v3.2M190.11 302.3v2.4M200.59 302.3v2.4M208.02 302.3v2.4M213.79 302.3v2.4M218.50 302.3v2.4M222.48 302.3v2.4M225.93 302.3v2.4M228.98 302.3v2.4M231.70 302.3v3.2M248.32 302.3v2.4" stroke="#222" stroke-width="0.8" fill="none"/>
<text x="105.10000000000001" y="308.5" font-size="9.2" text-anchor="end" font-weight="normal" >0</text>
<text x="105.10000000000001" y="275.4" font-size="9.2" text-anchor="end" font-weight="normal" >20</text>
<text x="105.10000000000001" y="244.3" font-size="9.2" text-anchor="end" font-weight="normal" >40</text>
<text x="105.10000000000001" y="213.2" font-size="9.2" text-anchor="end" font-weight="normal" >60</text>
<text x="105.10000000000001" y="182.1" font-size="9.2" text-anchor="end" font-weight="normal" >80</text>
<text x="107.0" y="318.8" font-size="9.2" text-anchor="start">10<tspan font-size="8.6" dy="-3.0" dx="0.3">0</tspan></text>
<text x="163.4" y="318.8" font-size="9.2" text-anchor="start">10<tspan font-size="8.6" dy="-3.0" dx="0.3">1</tspan></text>
<text x="218.2" y="318.8" font-size="9.2" text-anchor="start">10<tspan font-size="8.6" dy="-3.0" dx="0.3">2</tspan></text>
<text x="176.5" y="327.6" font-size="9.2" text-anchor="middle" font-weight="normal" >Log Fluorescence</text>
<text x="87.4" y="239" font-size="9.3" text-anchor="middle" font-weight="normal" transform="rotate(-90 87.4 239)">Events&#160;&#160;(Arbitrary Units)</text>
<text x="73.3" y="167.8" font-size="11.3" text-anchor="start" font-weight="bold" >D</text>
<text x="124" y="173.7" font-size="9.2" text-anchor="start" font-weight="normal" >Platelets</text>
<text x="156.3" y="189.6" font-size="9.2" text-anchor="start" font-weight="normal" >Unstimulated</text>
<text x="158.1" y="220.2" font-size="9.2" text-anchor="start" font-weight="normal" >Collagen</text>
<text x="199.3" y="237.8" font-size="9.2" text-anchor="start" font-weight="normal" >Collagen</text>
<text x="198.8" y="251.7" font-size="9.2" text-anchor="start" font-weight="normal" >Thrombin</text>
<path d="M215.3 242.5h4.2M217.4 240.4v4.2" stroke="#222" stroke-width="1.1"/>
<path d="M164.2 192.3C164.40 195.90 163.40 197.60 159.20 198.20" stroke="#222" stroke-width="1.15" fill="none" stroke-linecap="round"/>
<path d="M154.70 198.3L160.00 196.55L159.30 198.3L160.20 200.05Z" fill="#222" stroke="#222" stroke-width="0.4" stroke-linejoin="round"/>
<path d="M177.8 224.1C178.00 227.82 177.00 229.60 173.50 230.20" stroke="#222" stroke-width="1.15" fill="none" stroke-linecap="round"/>
<path d="M169.00 230.3L174.30 228.55L173.60 230.3L174.50 232.05Z" fill="#222" stroke="#222" stroke-width="0.4" stroke-linejoin="round"/>
<path d="M210.4 255.3C210.60 258.66 209.60 260.20 205.90 260.80" stroke="#222" stroke-width="1.15" fill="none" stroke-linecap="round"/>
<path d="M201.40 260.9L206.70 259.15L206.00 260.9L206.90 262.65Z" fill="#222" stroke="#222" stroke-width="0.4" stroke-linejoin="round"/>
<path d="M364.30 302.00L364.30 289.60L366.80 289.60L366.80 297.00L367.60 297.00L367.60 289.60L369.60 289.60L369.60 278.00L371.40 278.00L371.40 272.00L373.20 272.00L373.20 264.20L375.00 264.20L375.00 251.00L376.20 251.00L376.20 240.40L377.60 240.40L377.60 230.00L378.80 230.00L378.80 214.00L379.80 214.00L379.80 201.00L381.00 201.00L381.00 176.50L381.90 176.50L381.90 196.00L383.00 196.00L383.00 207.00L384.20 207.00L384.20 201.00L385.40 201.00L385.40 212.00L386.60 212.00L386.60 188.80L387.50 188.80L387.50 208.00L388.60 208.00L388.60 221.00L390.00 221.00L390.00 233.00L391.90 233.00L391.90 240.00L393.50 240.00L393.50 251.30L395.00 251.30L395.00 257.00L396.70 257.00L396.70 264.00L398.00 264.00" fill="none" stroke="#222" stroke-width="1.2" stroke-linejoin="miter"/>
<path d="M363.6 289.2H368.0V296.5H363.6ZM368.0 277.0H372.2V288.6H368.0ZM372.2 264.6H375.0V277.2H372.2ZM374.2 251.0H376.4V264.6H374.2ZM375.2 239.6H378.0V251.0H375.2ZM377.4 228.0H379.4V240.0H377.4ZM378.6 201.0H380.2V229.0H378.6ZM380.7 176.5H382.0V191.0H380.7ZM380.3 190.0H382.6V202.0H380.3ZM378.9 201.0H385.2V203.5H378.9ZM382.3 201.0H383.3V214.5H382.3ZM384.6 201.0H385.6V214.5H384.6ZM379.2 212.5H388.4V215.0H379.2ZM386.2 188.8H388.4V214.0H386.2ZM389.2 226.5H391.6V233.8H389.2ZM392.7 246.5H394.8V256.0H392.7ZM395.5 256.0H397.5V264.0H395.5Z" fill="#222"/>
<path d="M377.00 302.0V301.48H378.30V301.14H379.60V301.05H380.90V300.96H382.20V300.88H383.50V300.70H384.80V298.92H386.10V296.14H387.40V291.85H388.70V287.01H390.00V282.85H391.30V277.37H392.60V271.83H393.90V265.24H395.20V259.16H396.50V258.41H397.80V256.22H399.10V244.06H400.40V242.69H401.70V228.99H403.00V231.69H404.30V231.42H405.60V228.74H406.90V215.64H408.20V217.05H409.50V216.39H410.80V213.81H412.10V215.74H413.40V213.94H414.70V223.77H416.00V224.03H417.30V233.40H418.60V232.50H419.90V243.46H421.20V242.91H422.50V258.85H423.80V263.85H425.10V269.17H426.40V274.11H427.70V278.84H429.00V283.15H430.30V287.14H431.60V289.42H432.90V289.35H434.20V297.38H435.50V295.23H436.80V299.07H438.10V300.29H439.40V300.09H440.70V300.41H442.00V300.65H443.30V300.84H444.60V301.01H445.90V301.07H447.20V301.12H448.50V301.18H449.80V301.23H451.10V301.29H452.40V301.41H453.70V301.54H455.00V301.67H456.30V301.80H457.60V301.93H458.90V302.00H460.20V302.0ZM407.3 202H408.8V218H407.3Z" fill="#141414" stroke="#141414" stroke-width="0.5"/>
<path d="M345.6 164.5V302.1H483.4" stroke="#222" stroke-width="1.1" fill="none"/>
<path d="M345.6 302.10h-3.2M345.6 286.45h-2M345.6 270.80h-3.2M345.6 255.15h-2M345.6 239.50h-3.2M345.6 223.85h-2M345.6 208.20h-3.2M345.6 192.55h-2M345.6 176.90h-3.2M345.60 302.1v3.2M362.64 302.1v2.4M372.61 302.1v2.4M379.68 302.1v2.4M385.16 302.1v2.4M389.64 302.1v2.4M393.43 302.1v2.4M396.71 302.1v2.4M399.61 302.1v2.4M402.20 302.1v3.2M419.24 302.1v2.4M429.21 302.1v2.4M436.28 302.1v2.4M441.76 302.1v2.4M446.24 302.1v2.4M450.03 302.1v2.4M453.31 302.1v2.4M456.21 302.1v2.4M458.80 302.1v3.2M475.42 302.1v2.4" stroke="#222" stroke-width="0.8" fill="none"/>
<text x="335.3" y="308.3" font-size="9.2" text-anchor="end" font-weight="normal" >0</text>
<text x="335.3" y="275.0" font-size="9.2" text-anchor="end" font-weight="normal" >20</text>
<text x="335.3" y="243.70000000000002" font-size="9.2" text-anchor="end" font-weight="normal" >40</text>
<text x="335.3" y="212.40000000000003" font-size="9.2" text-anchor="end" font-weight="normal" >60</text>
<text x="335.3" y="181.10000000000002" font-size="9.2" text-anchor="end" font-weight="normal" >80</text>
<text x="337.4" y="318.8" font-size="9.2" text-anchor="start">10<tspan font-size="8.6" dy="-3.0" dx="0.3">0</tspan></text>
<text x="397.0" y="318.8" font-size="9.2" text-anchor="start">10<tspan font-size="8.6" dy="-3.0" dx="0.3">1</tspan></text>
<text x="451.0" y="318.8" font-size="9.2" text-anchor="start">10<tspan font-size="8.6" dy="-3.0" dx="0.3">2</tspan></text>
<text x="415" y="327.6" font-size="9.2" text-anchor="middle" font-weight="normal" >Log Fluorescence</text>
<text x="317.3" y="239" font-size="9.3" text-anchor="middle" font-weight="normal" transform="rotate(-90 317.3 239)">Events&#160;&#160;(Arbitrary Units)</text>
<text x="303.3" y="167.8" font-size="11.3" text-anchor="start" font-weight="bold" >E</text>
<text x="354.6" y="173.2" font-size="9.2" text-anchor="start" font-weight="normal" >Microvesicles</text>
<text x="388.0" y="184.2" font-size="9.2" text-anchor="start" font-weight="normal" >Collagen</text>
<text x="418.6" y="214.2" font-size="9.2" text-anchor="start" font-weight="normal" >Collagen</text>
<text x="417.8" y="227.9" font-size="9.2" text-anchor="start" font-weight="normal" >Thrombin</text>
<path d="M434.5 219.2h4.2M436.6 217.1v4.2" stroke="#222" stroke-width="1.1"/>
<path d="M399.5 188.2C399.70 191.98 398.70 193.80 394.60 194.40" stroke="#222" stroke-width="1.15" fill="none" stroke-linecap="round"/>
<path d="M390.10 194.5L395.40 192.75L394.70 194.5L395.60 196.25Z" fill="#222" stroke="#222" stroke-width="0.4" stroke-linejoin="round"/>
<path d="M430.7 230.3C430.90 234.20 429.90 236.10 427.00 236.70" stroke="#222" stroke-width="1.15" fill="none" stroke-linecap="round"/>
<path d="M422.50 236.8L427.80 235.05L427.10 236.8L428.00 238.55Z" fill="#222" stroke="#222" stroke-width="0.4" stroke-linejoin="round"/>
</svg>
</body></html>
